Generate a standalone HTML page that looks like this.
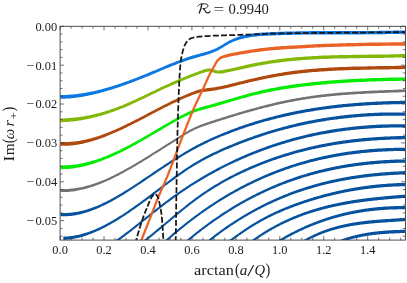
<!DOCTYPE html><html><head><meta charset="utf-8"><style>html,body{margin:0;padding:0;background:#fff}svg{display:block}text{font-family:"Liberation Serif",serif;fill:#1c1c1c}</style></head><body>
<svg style="will-change:transform" width="407" height="283" viewBox="0 0 407 283">
<rect width="407" height="283" fill="#fff"/>
<defs><clipPath id="c"><rect x="60.1" y="26.3" width="345.10" height="213.78"/></clipPath></defs>
<g clip-path="url(#c)" fill="none" stroke-linecap="round" stroke-linejoin="round">
<path d="M60.4,216.1 L61.6,216.2 L62.8,216.2 L64.0,216.2 L65.1,216.2 L66.3,216.2 L67.5,216.2 L68.7,216.1 L69.9,216.0 L71.0,215.9 L72.2,215.7 L73.4,215.6 L74.6,215.4 L75.7,215.2 L76.9,215.0 L78.1,214.7 L79.3,214.5 L80.4,214.2 L81.6,213.9 L82.8,213.6 L83.9,213.3 L85.1,212.9 L86.3,212.6 L87.4,212.2 L88.6,211.8 L89.8,211.4 L90.9,211.0 L92.1,210.6 L93.2,210.1 L94.4,209.7 L95.6,209.2 L96.7,208.7 L97.9,208.2 L99.0,207.7 L100.2,207.2 L101.4,206.6 L102.5,206.1 L103.7,205.5 L104.8,205.0 L106.0,204.4 L107.2,203.8 L108.3,203.2 L109.5,202.6 L110.6,202.0 L111.8,201.4 L112.9,200.7 L114.1,200.1 L115.3,199.4 L116.4,198.8 L117.6,198.1 L118.7,197.4 L119.9,196.7 L121.0,196.1 L122.2,195.4 L123.3,194.7 L124.5,193.9 L125.7,193.2 L126.8,192.5 L128.0,191.8 L129.1,191.0 L130.3,190.3 L131.4,189.6 L132.6,188.8 L133.7,188.1 L134.9,187.3 L136.0,186.5 L137.2,185.8 L138.3,185.0 L139.5,184.3 L140.7,183.5 L141.8,182.7 L143.0,181.9 L144.1,181.2 L145.3,180.4 L146.4,179.6 L147.6,178.8 L148.7,178.1 L149.9,177.3 L151.0,176.5 L152.2,175.7 L153.3,174.9 L154.5,174.2 L155.6,173.4 L156.8,172.6 L158.0,171.8 L159.1,171.1 L160.3,170.3 L161.4,169.5 L162.6,168.8 L163.7,168.0 L164.9,167.3 L166.0,166.5 L167.2,165.7 L168.3,165.0 L169.5,164.2 L170.6,163.5 L171.8,162.8 L172.9,162.0 L174.1,161.3 L175.2,160.6 L176.4,159.8 L177.5,159.1 L178.7,158.4 L179.8,157.7 L181.0,157.0 L182.1,156.3 L183.3,155.6 L184.4,154.9 L185.6,154.2 L186.7,153.6 L187.9,152.9 L189.0,152.2 L190.2,151.6 L191.3,150.9 L192.5,150.3 L193.6,149.7 L194.8,149.0 L195.9,148.4 L197.1,147.8 L198.2,147.2 L199.4,146.6 L200.5,146.0 L201.7,145.5 L202.8,144.9 L204.0,144.3 L205.1,143.8 L206.3,143.2 L207.4,142.7 L208.6,142.1 L209.7,141.6 L210.9,141.1 L212.0,140.6 L213.2,140.1 L214.3,139.5 L215.5,139.0 L216.6,138.5 L217.8,138.1 L218.9,137.6 L220.1,137.1 L221.2,136.6 L222.4,136.1 L223.5,135.7 L224.7,135.2 L225.8,134.8 L227.0,134.3 L228.1,133.9 L229.3,133.4 L230.4,133.0 L231.6,132.5 L232.7,132.1 L233.9,131.7 L235.0,131.2 L236.2,130.8 L237.3,130.4 L238.5,130.0 L239.6,129.6 L240.8,129.2 L241.9,128.8 L243.1,128.4 L244.2,128.0 L245.4,127.6 L246.5,127.2 L247.7,126.8 L248.8,126.5 L250.0,126.1 L251.1,125.7 L252.3,125.4 L253.4,125.0 L254.6,124.7 L255.7,124.3 L256.9,124.0 L258.0,123.6 L259.2,123.3 L260.3,122.9 L261.5,122.6 L262.6,122.3 L263.8,121.9 L264.9,121.6 L266.1,121.3 L267.2,121.0 L268.4,120.7 L269.5,120.4 L270.7,120.1 L271.8,119.8 L273.0,119.5 L274.1,119.2 L275.3,118.9 L276.4,118.6 L277.6,118.3 L278.7,118.0 L279.9,117.8 L281.0,117.5 L282.2,117.2 L283.3,117.0 L284.5,116.7 L285.6,116.4 L286.8,116.2 L287.9,115.9 L289.1,115.7 L290.2,115.4 L291.4,115.2 L292.5,115.0 L293.7,114.7 L294.8,114.5 L296.0,114.3 L297.1,114.0 L298.3,113.8 L299.4,113.6 L300.6,113.4 L301.7,113.2 L302.9,112.9 L304.0,112.7 L305.2,112.5 L306.3,112.3 L307.5,112.1 L308.6,111.9 L309.8,111.7 L310.9,111.6 L312.1,111.4 L313.2,111.2 L314.4,111.0 L315.5,110.8 L316.7,110.6 L317.8,110.5 L319.0,110.3 L320.1,110.1 L321.3,110.0 L322.4,109.8 L323.6,109.6 L324.7,109.5 L325.9,109.3 L327.0,109.2 L328.2,109.0 L329.3,108.9 L330.5,108.7 L331.6,108.6 L332.8,108.5 L333.9,108.3 L335.1,108.2 L336.2,108.1 L337.4,107.9 L338.5,107.8 L339.7,107.7 L340.8,107.6 L342.0,107.4 L343.1,107.3 L344.3,107.2 L345.4,107.1 L346.6,107.0 L347.7,106.9 L348.9,106.8 L350.0,106.7 L351.2,106.6 L352.3,106.5 L353.5,106.4 L354.6,106.3 L355.8,106.2 L356.9,106.1 L358.1,106.0 L359.2,105.9 L360.4,105.9 L361.5,105.8 L362.7,105.7 L363.8,105.6 L365.0,105.5 L366.1,105.5 L367.3,105.4 L368.4,105.3 L369.6,105.3 L370.7,105.2 L371.9,105.1 L373.0,105.1 L374.2,105.0 L375.3,105.0 L376.5,104.9 L377.6,104.9 L378.8,104.8 L379.9,104.8 L381.1,104.7 L382.2,104.7 L383.4,104.6 L384.5,104.6 L385.7,104.5 L386.8,104.5 L388.0,104.4 L389.1,104.4 L390.3,104.4 L391.4,104.3 L392.6,104.3 L393.7,104.3 L394.9,104.3 L396.0,104.2 L397.2,104.2 L398.3,104.2 L399.5,104.2 L400.6,104.1 L401.8,104.1 L402.9,104.1 L404.1,104.1 L405.2,104.1 L405.2,100.8 L404.0,100.8 L402.9,100.8 L401.7,100.8 L400.6,100.8 L399.4,100.9 L398.2,100.9 L397.1,100.9 L395.9,100.9 L394.8,101.0 L393.6,101.0 L392.5,101.0 L391.3,101.1 L390.2,101.1 L389.0,101.1 L387.9,101.2 L386.7,101.2 L385.5,101.2 L384.4,101.3 L383.2,101.3 L382.1,101.4 L380.9,101.4 L379.8,101.5 L378.6,101.5 L377.5,101.6 L376.3,101.6 L375.1,101.7 L374.0,101.7 L372.8,101.8 L371.7,101.9 L370.5,101.9 L369.4,102.0 L368.2,102.1 L367.1,102.1 L365.9,102.2 L364.7,102.3 L363.6,102.4 L362.4,102.4 L361.3,102.5 L360.1,102.6 L359.0,102.7 L357.8,102.8 L356.7,102.9 L355.5,103.0 L354.3,103.1 L353.2,103.2 L352.0,103.3 L350.9,103.4 L349.7,103.5 L348.6,103.6 L347.4,103.7 L346.3,103.8 L345.1,103.9 L343.9,104.0 L342.8,104.1 L341.6,104.2 L340.5,104.4 L339.3,104.5 L338.2,104.6 L337.0,104.8 L335.8,104.9 L334.7,105.0 L333.5,105.2 L332.4,105.3 L331.2,105.4 L330.1,105.6 L328.9,105.7 L327.8,105.9 L326.6,106.0 L325.4,106.2 L324.3,106.4 L323.1,106.5 L322.0,106.7 L320.8,106.9 L319.7,107.0 L318.5,107.2 L317.3,107.4 L316.2,107.6 L315.0,107.7 L313.9,107.9 L312.7,108.1 L311.6,108.3 L310.4,108.5 L309.3,108.7 L308.1,108.9 L306.9,109.1 L305.8,109.3 L304.6,109.5 L303.5,109.7 L302.3,109.9 L301.2,110.1 L300.0,110.4 L298.8,110.6 L297.7,110.8 L296.5,111.1 L295.4,111.3 L294.2,111.5 L293.1,111.8 L291.9,112.0 L290.8,112.3 L289.6,112.5 L288.4,112.8 L287.3,113.0 L286.1,113.3 L285.0,113.5 L283.8,113.8 L282.7,114.1 L281.5,114.4 L280.4,114.6 L279.2,114.9 L278.0,115.2 L276.9,115.5 L275.7,115.8 L274.6,116.1 L273.4,116.4 L272.3,116.7 L271.1,117.0 L269.9,117.3 L268.8,117.6 L267.6,117.9 L266.5,118.2 L265.3,118.6 L264.2,118.9 L263.0,119.2 L261.9,119.5 L260.7,119.9 L259.5,120.2 L258.4,120.6 L257.2,120.9 L256.1,121.3 L254.9,121.6 L253.8,122.0 L252.6,122.4 L251.5,122.7 L250.3,123.1 L249.1,123.5 L248.0,123.9 L246.8,124.3 L245.7,124.6 L244.5,125.0 L243.4,125.4 L242.2,125.8 L241.1,126.2 L239.9,126.6 L238.7,127.1 L237.6,127.5 L236.4,127.9 L235.3,128.3 L234.1,128.8 L233.0,129.2 L231.8,129.6 L230.7,130.1 L229.5,130.5 L228.3,131.0 L227.2,131.4 L226.0,131.9 L224.9,132.3 L223.7,132.8 L222.6,133.3 L221.4,133.8 L220.3,134.2 L219.1,134.7 L217.9,135.2 L216.8,135.7 L215.6,136.2 L214.5,136.7 L213.3,137.2 L212.2,137.8 L211.0,138.3 L209.9,138.8 L208.7,139.4 L207.5,139.9 L206.4,140.5 L205.2,141.0 L204.1,141.6 L202.9,142.2 L201.8,142.7 L200.6,143.3 L199.4,143.9 L198.3,144.5 L197.1,145.1 L196.0,145.7 L194.8,146.3 L193.7,147.0 L192.5,147.6 L191.4,148.3 L190.2,148.9 L189.0,149.6 L187.9,150.2 L186.7,150.9 L185.6,151.6 L184.4,152.3 L183.3,153.0 L182.1,153.7 L181.0,154.4 L179.8,155.1 L178.7,155.8 L177.5,156.5 L176.3,157.2 L175.2,157.9 L174.0,158.7 L172.9,159.4 L171.7,160.1 L170.6,160.9 L169.4,161.6 L168.3,162.4 L167.1,163.1 L166.0,163.9 L164.8,164.6 L163.6,165.4 L162.5,166.2 L161.3,166.9 L160.2,167.7 L159.0,168.5 L157.9,169.2 L156.7,170.0 L155.6,170.8 L154.4,171.6 L153.3,172.3 L152.1,173.1 L151.0,173.9 L149.8,174.7 L148.7,175.5 L147.5,176.2 L146.3,177.0 L145.2,177.8 L144.0,178.6 L142.9,179.3 L141.7,180.1 L140.6,180.9 L139.4,181.7 L138.3,182.4 L137.1,183.2 L136.0,183.9 L134.8,184.7 L133.7,185.5 L132.5,186.2 L131.4,186.9 L130.2,187.7 L129.1,188.4 L127.9,189.2 L126.8,189.9 L125.6,190.6 L124.5,191.3 L123.3,192.0 L122.2,192.7 L121.0,193.4 L119.9,194.1 L118.7,194.8 L117.6,195.4 L116.4,196.1 L115.3,196.8 L114.1,197.4 L113.0,198.0 L111.8,198.7 L110.7,199.3 L109.5,199.9 L108.4,200.5 L107.2,201.1 L106.1,201.7 L104.9,202.2 L103.8,202.8 L102.6,203.3 L101.5,203.9 L100.3,204.4 L99.2,204.9 L98.0,205.4 L96.9,205.9 L95.7,206.3 L94.6,206.8 L93.5,207.2 L92.3,207.6 L91.2,208.1 L90.0,208.4 L88.9,208.8 L87.7,209.2 L86.6,209.5 L85.5,209.9 L84.3,210.2 L83.2,210.5 L82.0,210.8 L80.9,211.0 L79.8,211.3 L78.6,211.5 L77.5,211.7 L76.4,211.9 L75.2,212.1 L74.1,212.3 L73.0,212.4 L71.8,212.6 L70.7,212.7 L69.6,212.8 L68.5,212.8 L67.3,212.9 L66.2,212.9 L65.1,213.0 L64.0,213.0 L62.8,212.9 L61.7,212.9 L60.6,212.9Z" fill="#07529f" stroke="none"/>
<path d="M63.4,240.0 L64.5,239.9 L65.7,239.8 L66.9,239.8 L68.0,239.6 L69.2,239.5 L70.4,239.4 L71.5,239.2 L72.7,239.0 L73.9,238.8 L75.0,238.6 L76.2,238.3 L77.3,238.1 L78.5,237.8 L79.7,237.5 L80.8,237.2 L82.0,236.9 L83.1,236.5 L84.3,236.2 L85.4,235.8 L86.6,235.4 L87.8,235.0 L88.9,234.6 L90.1,234.1 L91.2,233.7 L92.4,233.2 L93.5,232.8 L94.7,232.3 L95.8,231.8 L97.0,231.3 L98.1,230.8 L99.3,230.2 L100.4,229.7 L101.6,229.1 L102.7,228.5 L103.9,228.0 L105.0,227.4 L106.2,226.8 L107.3,226.1 L108.5,225.5 L109.6,224.9 L110.8,224.2 L111.9,223.6 L113.0,222.9 L114.2,222.2 L115.3,221.6 L116.5,220.9 L117.6,220.2 L118.8,219.4 L119.9,218.7 L121.1,218.0 L122.2,217.3 L123.4,216.5 L124.5,215.8 L125.7,215.0 L126.8,214.2 L127.9,213.5 L129.1,212.7 L130.2,211.9 L131.4,211.1 L132.5,210.3 L133.7,209.5 L134.8,208.7 L136.0,207.9 L137.1,207.1 L138.3,206.2 L139.4,205.4 L140.5,204.6 L141.7,203.8 L142.8,202.9 L144.0,202.1 L145.1,201.2 L146.3,200.4 L147.4,199.5 L148.6,198.7 L149.7,197.8 L150.8,196.9 L152.0,196.1 L153.1,195.2 L154.3,194.3 L155.4,193.5 L156.6,192.6 L157.7,191.7 L158.8,190.9 L160.0,190.0 L161.1,189.1 L162.3,188.2 L163.4,187.4 L164.6,186.5 L165.7,185.6 L166.9,184.8 L168.0,183.9 L169.1,183.1 L170.3,182.2 L171.4,181.4 L172.6,180.5 L173.7,179.7 L174.8,178.9 L176.0,178.0 L177.1,177.2 L178.3,176.4 L179.4,175.6 L180.6,174.8 L181.7,174.0 L182.8,173.2 L184.0,172.4 L185.1,171.6 L186.3,170.8 L187.4,170.1 L188.5,169.3 L189.7,168.6 L190.8,167.9 L192.0,167.1 L193.1,166.4 L194.2,165.7 L195.4,165.0 L196.5,164.4 L197.7,163.7 L198.8,163.0 L199.9,162.4 L201.1,161.7 L202.2,161.1 L203.4,160.5 L204.5,159.9 L205.6,159.3 L206.8,158.7 L207.9,158.1 L209.1,157.5 L210.2,157.0 L211.3,156.4 L212.5,155.8 L213.6,155.3 L214.8,154.7 L215.9,154.2 L217.0,153.7 L218.2,153.2 L219.3,152.6 L220.5,152.1 L221.6,151.6 L222.8,151.1 L223.9,150.6 L225.0,150.1 L226.2,149.6 L227.3,149.1 L228.5,148.7 L229.6,148.2 L230.7,147.7 L231.9,147.2 L233.0,146.8 L234.2,146.3 L235.3,145.8 L236.4,145.4 L237.6,144.9 L238.7,144.5 L239.9,144.0 L241.0,143.6 L242.2,143.2 L243.3,142.7 L244.4,142.3 L245.6,141.9 L246.7,141.4 L247.9,141.0 L249.0,140.6 L250.1,140.2 L251.3,139.8 L252.4,139.4 L253.6,139.0 L254.7,138.6 L255.8,138.2 L257.0,137.8 L258.1,137.4 L259.3,137.0 L260.4,136.7 L261.6,136.3 L262.7,135.9 L263.8,135.6 L265.0,135.2 L266.1,134.8 L267.3,134.5 L268.4,134.1 L269.5,133.8 L270.7,133.4 L271.8,133.1 L273.0,132.8 L274.1,132.4 L275.2,132.1 L276.4,131.8 L277.5,131.5 L278.7,131.1 L279.8,130.8 L280.9,130.5 L282.1,130.2 L283.2,129.9 L284.4,129.6 L285.5,129.3 L286.6,129.0 L287.8,128.7 L288.9,128.4 L290.1,128.1 L291.2,127.9 L292.3,127.6 L293.5,127.3 L294.6,127.0 L295.8,126.8 L296.9,126.5 L298.0,126.2 L299.2,126.0 L300.3,125.7 L301.5,125.5 L302.6,125.2 L303.7,125.0 L304.9,124.8 L306.0,124.5 L307.2,124.3 L308.3,124.1 L309.4,123.8 L310.6,123.6 L311.7,123.4 L312.9,123.2 L314.0,123.0 L315.1,122.7 L316.3,122.5 L317.4,122.3 L318.6,122.1 L319.7,121.9 L320.8,121.7 L322.0,121.6 L323.1,121.4 L324.3,121.2 L325.4,121.0 L326.5,120.8 L327.7,120.6 L328.8,120.5 L330.0,120.3 L331.1,120.1 L332.2,120.0 L333.4,119.8 L334.5,119.7 L335.7,119.5 L336.8,119.4 L337.9,119.2 L339.1,119.1 L340.2,118.9 L341.4,118.8 L342.5,118.7 L343.6,118.5 L344.8,118.4 L345.9,118.3 L347.1,118.2 L348.2,118.0 L349.3,117.9 L350.5,117.8 L351.6,117.7 L352.8,117.6 L353.9,117.5 L355.0,117.4 L356.2,117.3 L357.3,117.2 L358.4,117.1 L359.6,117.0 L360.7,116.9 L361.9,116.8 L363.0,116.8 L364.1,116.7 L365.3,116.6 L366.4,116.5 L367.6,116.5 L368.7,116.4 L369.8,116.3 L371.0,116.3 L372.1,116.2 L373.3,116.2 L374.4,116.1 L375.5,116.1 L376.7,116.0 L377.8,116.0 L379.0,115.9 L380.1,115.9 L381.2,115.9 L382.4,115.8 L383.5,115.8 L384.7,115.8 L385.8,115.8 L386.9,115.7 L388.1,115.7 L389.2,115.7 L390.4,115.7 L391.5,115.7 L392.6,115.7 L393.8,115.7 L394.9,115.7 L396.0,115.7 L397.2,115.7 L398.3,115.7 L399.5,115.7 L400.6,115.7 L401.7,115.7 L402.9,115.7 L404.0,115.8 L405.2,115.8 L405.2,112.5 L404.1,112.5 L402.9,112.4 L401.8,112.4 L400.6,112.4 L399.5,112.4 L398.4,112.4 L397.2,112.4 L396.1,112.4 L394.9,112.4 L393.8,112.4 L392.6,112.4 L391.5,112.4 L390.3,112.4 L389.2,112.4 L388.0,112.4 L386.9,112.4 L385.7,112.5 L384.6,112.5 L383.4,112.5 L382.3,112.5 L381.1,112.6 L380.0,112.6 L378.8,112.7 L377.7,112.7 L376.5,112.7 L375.4,112.8 L374.3,112.8 L373.1,112.9 L372.0,113.0 L370.8,113.0 L369.7,113.1 L368.5,113.1 L367.4,113.2 L366.2,113.3 L365.1,113.4 L363.9,113.4 L362.8,113.5 L361.6,113.6 L360.5,113.7 L359.3,113.8 L358.2,113.9 L357.0,114.0 L355.9,114.1 L354.7,114.2 L353.6,114.3 L352.4,114.4 L351.3,114.5 L350.2,114.6 L349.0,114.7 L347.9,114.8 L346.7,115.0 L345.6,115.1 L344.4,115.2 L343.3,115.4 L342.1,115.5 L341.0,115.6 L339.8,115.8 L338.7,115.9 L337.5,116.1 L336.4,116.2 L335.2,116.4 L334.1,116.5 L332.9,116.7 L331.8,116.9 L330.6,117.0 L329.5,117.2 L328.4,117.4 L327.2,117.6 L326.1,117.7 L324.9,117.9 L323.8,118.1 L322.6,118.3 L321.5,118.5 L320.3,118.7 L319.2,118.9 L318.0,119.1 L316.9,119.3 L315.7,119.5 L314.6,119.7 L313.4,119.9 L312.3,120.2 L311.1,120.4 L310.0,120.6 L308.9,120.8 L307.7,121.1 L306.6,121.3 L305.4,121.6 L304.3,121.8 L303.1,122.1 L302.0,122.3 L300.8,122.6 L299.7,122.8 L298.5,123.1 L297.4,123.3 L296.2,123.6 L295.1,123.9 L293.9,124.2 L292.8,124.4 L291.6,124.7 L290.5,125.0 L289.4,125.3 L288.2,125.6 L287.1,125.9 L285.9,126.2 L284.8,126.5 L283.6,126.8 L282.5,127.1 L281.3,127.4 L280.2,127.7 L279.0,128.1 L277.9,128.4 L276.7,128.7 L275.6,129.0 L274.4,129.4 L273.3,129.7 L272.2,130.1 L271.0,130.4 L269.9,130.8 L268.7,131.1 L267.6,131.5 L266.4,131.8 L265.3,132.2 L264.1,132.6 L263.0,132.9 L261.8,133.3 L260.7,133.7 L259.5,134.1 L258.4,134.5 L257.3,134.9 L256.1,135.2 L255.0,135.6 L253.8,136.0 L252.7,136.4 L251.5,136.9 L250.4,137.3 L249.2,137.7 L248.1,138.1 L246.9,138.5 L245.8,139.0 L244.6,139.4 L243.5,139.8 L242.4,140.3 L241.2,140.7 L240.1,141.1 L238.9,141.6 L237.8,142.1 L236.6,142.5 L235.5,143.0 L234.3,143.4 L233.2,143.9 L232.0,144.4 L230.9,144.9 L229.8,145.3 L228.6,145.8 L227.5,146.3 L226.3,146.8 L225.2,147.3 L224.0,147.8 L222.9,148.3 L221.7,148.8 L220.6,149.3 L219.4,149.8 L218.3,150.4 L217.2,150.9 L216.0,151.4 L214.9,152.0 L213.7,152.5 L212.6,153.1 L211.4,153.6 L210.3,154.2 L209.1,154.8 L208.0,155.4 L206.8,156.0 L205.7,156.6 L204.5,157.2 L203.4,157.8 L202.2,158.4 L201.1,159.1 L199.9,159.7 L198.8,160.4 L197.7,161.0 L196.5,161.7 L195.4,162.4 L194.2,163.1 L193.1,163.8 L191.9,164.5 L190.8,165.2 L189.6,166.0 L188.5,166.7 L187.3,167.5 L186.2,168.3 L185.0,169.0 L183.9,169.8 L182.7,170.6 L181.6,171.4 L180.5,172.2 L179.3,173.0 L178.2,173.8 L177.0,174.6 L175.9,175.5 L174.7,176.3 L173.6,177.1 L172.4,178.0 L171.3,178.8 L170.2,179.7 L169.0,180.5 L167.9,181.4 L166.7,182.2 L165.6,183.1 L164.4,184.0 L163.3,184.8 L162.1,185.7 L161.0,186.6 L159.9,187.4 L158.7,188.3 L157.6,189.2 L156.4,190.0 L155.3,190.9 L154.1,191.8 L153.0,192.6 L151.9,193.5 L150.7,194.4 L149.6,195.2 L148.4,196.1 L147.3,197.0 L146.1,197.8 L145.0,198.7 L143.9,199.5 L142.7,200.3 L141.6,201.2 L140.4,202.0 L139.3,202.9 L138.1,203.7 L137.0,204.5 L135.9,205.3 L134.7,206.1 L133.6,206.9 L132.4,207.7 L131.3,208.5 L130.1,209.3 L129.0,210.1 L127.9,210.9 L126.7,211.7 L125.6,212.4 L124.4,213.2 L123.3,213.9 L122.2,214.7 L121.0,215.4 L119.9,216.1 L118.7,216.8 L117.6,217.5 L116.5,218.2 L115.3,218.9 L114.2,219.6 L113.0,220.3 L111.9,220.9 L110.8,221.6 L109.6,222.2 L108.5,222.8 L107.3,223.5 L106.2,224.1 L105.1,224.7 L103.9,225.2 L102.8,225.8 L101.6,226.4 L100.5,226.9 L99.4,227.4 L98.2,228.0 L97.1,228.5 L96.0,229.0 L94.8,229.5 L93.7,229.9 L92.5,230.4 L91.4,230.8 L90.3,231.2 L89.1,231.7 L88.0,232.0 L86.9,232.4 L85.7,232.8 L84.6,233.1 L83.5,233.5 L82.3,233.8 L81.2,234.1 L80.1,234.4 L79.0,234.7 L77.8,234.9 L76.7,235.1 L75.6,235.4 L74.5,235.6 L73.3,235.8 L72.2,235.9 L71.1,236.1 L70.0,236.2 L68.8,236.3 L67.7,236.4 L66.6,236.5 L65.5,236.6 L64.4,236.6 L63.2,236.7Z" fill="#07529f" stroke="none"/>
<path d="M105.6,249.2 L106.6,248.6 L107.6,248.0 L108.6,247.4 L109.6,246.7 L110.6,246.1 L111.6,245.4 L112.6,244.8 L113.6,244.1 L114.6,243.4 L115.7,242.7 L116.7,242.0 L117.7,241.3 L118.7,240.6 L119.7,239.9 L120.7,239.2 L121.7,238.5 L122.7,237.7 L123.7,237.0 L124.7,236.2 L125.7,235.5 L126.7,234.7 L127.7,234.0 L128.7,233.2 L129.7,232.4 L130.7,231.7 L131.7,230.9 L132.8,230.1 L133.8,229.3 L134.8,228.5 L135.8,227.7 L136.8,226.9 L137.8,226.1 L138.8,225.3 L139.8,224.5 L140.8,223.7 L141.8,222.9 L142.8,222.1 L143.8,221.3 L144.8,220.5 L145.8,219.7 L146.8,218.9 L147.8,218.1 L148.8,217.3 L149.8,216.5 L150.8,215.7 L151.8,214.9 L152.8,214.1 L153.8,213.3 L154.8,212.5 L155.9,211.7 L156.9,210.9 L157.9,210.1 L158.9,209.3 L159.9,208.5 L160.9,207.7 L161.9,207.0 L162.9,206.2 L163.9,205.4 L164.9,204.7 L165.9,203.9 L166.9,203.1 L167.9,202.4 L168.9,201.7 L169.9,200.9 L170.9,200.2 L171.9,199.5 L172.9,198.7 L173.9,198.0 L174.9,197.3 L175.9,196.6 L176.9,195.9 L177.9,195.2 L178.9,194.5 L179.9,193.8 L180.9,193.1 L181.9,192.4 L182.9,191.7 L183.9,191.1 L184.9,190.4 L185.9,189.7 L186.9,189.1 L187.9,188.4 L188.9,187.7 L189.9,187.1 L190.9,186.5 L191.9,185.8 L192.9,185.2 L193.9,184.6 L195.0,183.9 L196.0,183.3 L197.0,182.7 L198.0,182.1 L199.0,181.5 L200.0,180.9 L201.0,180.3 L202.0,179.7 L203.0,179.1 L204.0,178.5 L205.0,177.9 L206.0,177.3 L207.0,176.8 L208.0,176.2 L209.0,175.6 L210.0,175.1 L211.0,174.5 L212.0,173.9 L213.0,173.4 L214.0,172.9 L215.0,172.3 L216.0,171.8 L217.0,171.2 L218.0,170.7 L219.0,170.2 L220.0,169.7 L221.0,169.1 L222.0,168.6 L223.0,168.1 L224.0,167.6 L225.0,167.1 L226.0,166.6 L227.0,166.1 L228.0,165.6 L229.0,165.1 L230.0,164.6 L231.0,164.2 L232.0,163.7 L233.0,163.2 L234.0,162.7 L235.0,162.3 L236.0,161.8 L237.0,161.4 L238.0,160.9 L239.0,160.5 L240.1,160.0 L241.1,159.6 L242.1,159.1 L243.1,158.7 L244.1,158.2 L245.1,157.8 L246.1,157.4 L247.1,157.0 L248.1,156.5 L249.1,156.1 L250.1,155.7 L251.1,155.3 L252.1,154.9 L253.1,154.5 L254.1,154.1 L255.1,153.7 L256.1,153.3 L257.1,152.9 L258.1,152.5 L259.1,152.2 L260.1,151.8 L261.1,151.4 L262.1,151.0 L263.1,150.7 L264.1,150.3 L265.1,149.9 L266.1,149.6 L267.1,149.2 L268.1,148.9 L269.1,148.5 L270.1,148.2 L271.1,147.8 L272.1,147.5 L273.1,147.1 L274.1,146.8 L275.1,146.5 L276.1,146.2 L277.1,145.8 L278.1,145.5 L279.1,145.2 L280.1,144.9 L281.1,144.6 L282.1,144.3 L283.1,144.0 L284.1,143.7 L285.1,143.4 L286.1,143.1 L287.1,142.8 L288.1,142.5 L289.1,142.2 L290.1,141.9 L291.1,141.6 L292.1,141.4 L293.1,141.1 L294.1,140.8 L295.1,140.5 L296.1,140.3 L297.1,140.0 L298.1,139.8 L299.1,139.5 L300.1,139.3 L301.1,139.0 L302.1,138.8 L303.1,138.5 L304.1,138.3 L305.1,138.0 L306.1,137.8 L307.1,137.6 L308.1,137.3 L309.1,137.1 L310.1,136.9 L311.1,136.7 L312.1,136.5 L313.1,136.2 L314.1,136.0 L315.1,135.8 L316.1,135.6 L317.2,135.4 L318.2,135.2 L319.2,135.0 L320.2,134.8 L321.2,134.6 L322.2,134.4 L323.2,134.3 L324.2,134.1 L325.2,133.9 L326.2,133.7 L327.2,133.5 L328.2,133.4 L329.2,133.2 L330.2,133.0 L331.2,132.9 L332.2,132.7 L333.2,132.5 L334.2,132.4 L335.2,132.2 L336.2,132.1 L337.2,131.9 L338.2,131.8 L339.2,131.6 L340.2,131.5 L341.2,131.4 L342.2,131.2 L343.2,131.1 L344.2,131.0 L345.2,130.8 L346.2,130.7 L347.2,130.6 L348.2,130.5 L349.2,130.4 L350.2,130.2 L351.2,130.1 L352.2,130.0 L353.2,129.9 L354.2,129.8 L355.2,129.7 L356.2,129.6 L357.2,129.5 L358.2,129.4 L359.2,129.3 L360.2,129.2 L361.2,129.1 L362.2,129.1 L363.2,129.0 L364.2,128.9 L365.2,128.8 L366.2,128.7 L367.2,128.7 L368.2,128.6 L369.2,128.5 L370.2,128.5 L371.2,128.4 L372.2,128.3 L373.2,128.3 L374.2,128.2 L375.2,128.2 L376.2,128.1 L377.2,128.1 L378.2,128.0 L379.2,128.0 L380.2,127.9 L381.2,127.9 L382.2,127.8 L383.2,127.8 L384.2,127.8 L385.2,127.7 L386.2,127.7 L387.2,127.7 L388.2,127.7 L389.2,127.6 L390.2,127.6 L391.2,127.6 L392.2,127.6 L393.2,127.6 L394.2,127.6 L395.2,127.5 L396.2,127.5 L397.2,127.5 L398.2,127.5 L399.2,127.5 L400.2,127.5 L401.2,127.5 L402.2,127.5 L403.2,127.5 L404.2,127.5 L405.2,127.6 L405.2,124.3 L404.2,124.2 L403.2,124.2 L402.2,124.2 L401.2,124.2 L400.2,124.2 L399.2,124.2 L398.2,124.2 L397.2,124.2 L396.2,124.2 L395.1,124.2 L394.1,124.3 L393.1,124.3 L392.1,124.3 L391.1,124.3 L390.1,124.3 L389.1,124.3 L388.1,124.4 L387.1,124.4 L386.1,124.4 L385.1,124.5 L384.1,124.5 L383.1,124.5 L382.0,124.6 L381.0,124.6 L380.0,124.6 L379.0,124.7 L378.0,124.7 L377.0,124.8 L376.0,124.8 L375.0,124.9 L374.0,124.9 L373.0,125.0 L372.0,125.1 L371.0,125.1 L370.0,125.2 L368.9,125.3 L367.9,125.3 L366.9,125.4 L365.9,125.5 L364.9,125.6 L363.9,125.7 L362.9,125.7 L361.9,125.8 L360.9,125.9 L359.9,126.0 L358.9,126.1 L357.9,126.2 L356.9,126.3 L355.8,126.4 L354.8,126.5 L353.8,126.6 L352.8,126.7 L351.8,126.8 L350.8,126.9 L349.8,127.1 L348.8,127.2 L347.8,127.3 L346.8,127.4 L345.8,127.6 L344.8,127.7 L343.7,127.8 L342.7,128.0 L341.7,128.1 L340.7,128.2 L339.7,128.4 L338.7,128.5 L337.7,128.7 L336.7,128.8 L335.7,129.0 L334.7,129.1 L333.7,129.3 L332.7,129.5 L331.7,129.6 L330.6,129.8 L329.6,130.0 L328.6,130.1 L327.6,130.3 L326.6,130.5 L325.6,130.7 L324.6,130.9 L323.6,131.1 L322.6,131.2 L321.6,131.4 L320.6,131.6 L319.6,131.8 L318.6,132.0 L317.6,132.2 L316.5,132.4 L315.5,132.7 L314.5,132.9 L313.5,133.1 L312.5,133.3 L311.5,133.5 L310.5,133.8 L309.5,134.0 L308.5,134.2 L307.5,134.5 L306.5,134.7 L305.5,134.9 L304.5,135.2 L303.4,135.4 L302.4,135.7 L301.4,135.9 L300.4,136.2 L299.4,136.4 L298.4,136.7 L297.4,137.0 L296.4,137.2 L295.4,137.5 L294.4,137.8 L293.4,138.0 L292.4,138.3 L291.4,138.6 L290.4,138.9 L289.3,139.2 L288.3,139.5 L287.3,139.8 L286.3,140.1 L285.3,140.4 L284.3,140.7 L283.3,141.0 L282.3,141.3 L281.3,141.6 L280.3,141.9 L279.3,142.2 L278.3,142.6 L277.3,142.9 L276.3,143.2 L275.3,143.5 L274.2,143.9 L273.2,144.2 L272.2,144.6 L271.2,144.9 L270.2,145.3 L269.2,145.6 L268.2,146.0 L267.2,146.3 L266.2,146.7 L265.2,147.1 L264.2,147.4 L263.2,147.8 L262.2,148.2 L261.2,148.5 L260.2,148.9 L259.1,149.3 L258.1,149.7 L257.1,150.1 L256.1,150.5 L255.1,150.9 L254.1,151.3 L253.1,151.7 L252.1,152.1 L251.1,152.5 L250.1,152.9 L249.1,153.3 L248.1,153.8 L247.1,154.2 L246.1,154.6 L245.1,155.1 L244.1,155.5 L243.0,155.9 L242.0,156.4 L241.0,156.8 L240.0,157.3 L239.0,157.7 L238.0,158.2 L237.0,158.6 L236.0,159.1 L235.0,159.6 L234.0,160.0 L233.0,160.5 L232.0,161.0 L231.0,161.5 L230.0,162.0 L229.0,162.5 L228.0,162.9 L227.0,163.4 L225.9,163.9 L224.9,164.4 L223.9,165.0 L222.9,165.5 L221.9,166.0 L220.9,166.5 L219.9,167.0 L218.9,167.5 L217.9,168.1 L216.9,168.6 L215.9,169.2 L214.9,169.7 L213.9,170.2 L212.9,170.8 L211.9,171.3 L210.9,171.9 L209.9,172.5 L208.8,173.0 L207.8,173.6 L206.8,174.2 L205.8,174.8 L204.8,175.3 L203.8,175.9 L202.8,176.5 L201.8,177.1 L200.8,177.7 L199.8,178.3 L198.8,178.9 L197.8,179.5 L196.8,180.2 L195.8,180.8 L194.8,181.4 L193.8,182.0 L192.8,182.7 L191.8,183.3 L190.7,183.9 L189.7,184.6 L188.7,185.2 L187.7,185.9 L186.7,186.6 L185.7,187.2 L184.7,187.9 L183.7,188.6 L182.7,189.2 L181.7,189.9 L180.7,190.6 L179.7,191.3 L178.7,192.0 L177.7,192.7 L176.7,193.4 L175.7,194.1 L174.7,194.8 L173.7,195.5 L172.6,196.3 L171.6,197.0 L170.6,197.7 L169.6,198.5 L168.6,199.2 L167.6,199.9 L166.6,200.7 L165.6,201.5 L164.6,202.2 L163.6,203.0 L162.6,203.8 L161.6,204.5 L160.6,205.3 L159.6,206.1 L158.6,206.9 L157.6,207.7 L156.6,208.5 L155.6,209.2 L154.6,210.0 L153.5,210.8 L152.5,211.6 L151.5,212.4 L150.5,213.3 L149.5,214.1 L148.5,214.9 L147.5,215.7 L146.5,216.5 L145.5,217.3 L144.5,218.1 L143.5,218.9 L142.5,219.7 L141.5,220.5 L140.5,221.3 L139.5,222.1 L138.5,222.9 L137.5,223.7 L136.5,224.5 L135.5,225.3 L134.5,226.1 L133.5,226.9 L132.5,227.7 L131.5,228.4 L130.5,229.2 L129.5,230.0 L128.5,230.8 L127.5,231.5 L126.4,232.3 L125.4,233.0 L124.4,233.8 L123.4,234.5 L122.4,235.3 L121.4,236.0 L120.4,236.7 L119.4,237.4 L118.4,238.2 L117.4,238.9 L116.4,239.6 L115.4,240.2 L114.4,240.9 L113.4,241.6 L112.4,242.3 L111.4,242.9 L110.4,243.6 L109.4,244.2 L108.4,244.8 L107.4,245.4 L106.4,246.1 L105.4,246.7 L104.4,247.2Z" fill="#07529f" stroke="none"/>
<path d="M135.6,249.0 L136.5,248.4 L137.4,247.7 L138.3,247.0 L139.3,246.4 L140.2,245.7 L141.1,245.0 L142.0,244.3 L142.9,243.6 L143.8,242.9 L144.7,242.2 L145.6,241.5 L146.5,240.7 L147.4,240.0 L148.3,239.3 L149.2,238.6 L150.1,237.8 L151.0,237.1 L151.9,236.4 L152.8,235.6 L153.7,234.9 L154.6,234.1 L155.5,233.4 L156.4,232.6 L157.3,231.9 L158.3,231.1 L159.2,230.4 L160.1,229.6 L161.0,228.9 L161.9,228.1 L162.8,227.3 L163.7,226.6 L164.6,225.8 L165.5,225.0 L166.4,224.3 L167.3,223.5 L168.2,222.8 L169.1,222.0 L170.0,221.2 L170.9,220.5 L171.8,219.7 L172.7,219.0 L173.6,218.2 L174.5,217.4 L175.4,216.7 L176.3,215.9 L177.2,215.2 L178.1,214.4 L179.0,213.7 L179.9,212.9 L180.8,212.2 L181.7,211.5 L182.6,210.7 L183.5,210.0 L184.5,209.3 L185.4,208.6 L186.3,207.8 L187.2,207.1 L188.1,206.4 L189.0,205.7 L189.9,205.0 L190.8,204.3 L191.7,203.6 L192.6,202.9 L193.5,202.2 L194.4,201.6 L195.3,200.9 L196.2,200.2 L197.1,199.6 L198.0,198.9 L198.9,198.3 L199.8,197.6 L200.7,197.0 L201.6,196.4 L202.5,195.7 L203.4,195.1 L204.3,194.5 L205.2,193.9 L206.1,193.3 L207.0,192.7 L207.9,192.1 L208.8,191.5 L209.7,190.9 L210.6,190.4 L211.5,189.8 L212.4,189.2 L213.3,188.7 L214.2,188.1 L215.1,187.6 L216.0,187.0 L216.9,186.5 L217.8,185.9 L218.7,185.4 L219.6,184.9 L220.5,184.3 L221.4,183.8 L222.3,183.3 L223.2,182.8 L224.1,182.3 L225.0,181.8 L225.9,181.3 L226.8,180.8 L227.7,180.3 L228.6,179.8 L229.5,179.4 L230.4,178.9 L231.3,178.4 L232.2,178.0 L233.1,177.5 L234.0,177.0 L234.9,176.6 L235.8,176.1 L236.8,175.7 L237.7,175.2 L238.6,174.8 L239.5,174.4 L240.4,173.9 L241.3,173.5 L242.2,173.1 L243.1,172.7 L244.0,172.3 L244.9,171.9 L245.8,171.4 L246.7,171.0 L247.6,170.6 L248.5,170.2 L249.4,169.8 L250.3,169.4 L251.2,169.1 L252.1,168.7 L253.0,168.3 L253.9,167.9 L254.8,167.5 L255.7,167.2 L256.6,166.8 L257.5,166.4 L258.4,166.1 L259.3,165.7 L260.2,165.3 L261.1,165.0 L262.0,164.6 L262.9,164.3 L263.8,163.9 L264.7,163.6 L265.6,163.3 L266.5,162.9 L267.4,162.6 L268.3,162.3 L269.2,161.9 L270.1,161.6 L271.0,161.3 L271.9,161.0 L272.8,160.6 L273.7,160.3 L274.6,160.0 L275.5,159.7 L276.4,159.4 L277.3,159.1 L278.2,158.8 L279.1,158.5 L280.0,158.2 L280.9,157.9 L281.8,157.6 L282.7,157.3 L283.6,157.0 L284.5,156.8 L285.4,156.5 L286.3,156.2 L287.2,155.9 L288.1,155.7 L289.0,155.4 L289.9,155.1 L290.8,154.9 L291.7,154.6 L292.6,154.4 L293.5,154.1 L294.4,153.8 L295.3,153.6 L296.2,153.3 L297.1,153.1 L298.0,152.9 L298.9,152.6 L299.8,152.4 L300.7,152.1 L301.6,151.9 L302.5,151.7 L303.4,151.5 L304.3,151.2 L305.2,151.0 L306.1,150.8 L307.0,150.6 L307.9,150.4 L308.8,150.1 L309.7,149.9 L310.6,149.7 L311.6,149.5 L312.5,149.3 L313.4,149.1 L314.3,148.9 L315.2,148.7 L316.1,148.5 L317.0,148.3 L317.9,148.2 L318.8,148.0 L319.7,147.8 L320.6,147.6 L321.5,147.4 L322.4,147.2 L323.3,147.1 L324.2,146.9 L325.1,146.7 L326.0,146.6 L326.9,146.4 L327.8,146.2 L328.7,146.1 L329.6,145.9 L330.5,145.7 L331.4,145.6 L332.3,145.4 L333.2,145.3 L334.1,145.1 L335.0,145.0 L335.9,144.8 L336.8,144.7 L337.7,144.6 L338.6,144.4 L339.5,144.3 L340.4,144.2 L341.3,144.0 L342.2,143.9 L343.1,143.8 L344.0,143.6 L344.9,143.5 L345.8,143.4 L346.7,143.3 L347.6,143.2 L348.5,143.0 L349.4,142.9 L350.3,142.8 L351.2,142.7 L352.1,142.6 L353.0,142.5 L353.9,142.4 L354.8,142.3 L355.7,142.2 L356.6,142.1 L357.5,142.0 L358.4,141.9 L359.3,141.8 L360.2,141.7 L361.1,141.6 L362.0,141.5 L362.9,141.4 L363.8,141.4 L364.7,141.3 L365.6,141.2 L366.5,141.1 L367.4,141.0 L368.3,141.0 L369.2,140.9 L370.1,140.8 L371.0,140.8 L371.9,140.7 L372.8,140.6 L373.7,140.6 L374.6,140.5 L375.5,140.4 L376.4,140.4 L377.3,140.3 L378.2,140.3 L379.1,140.2 L380.0,140.1 L380.9,140.1 L381.8,140.0 L382.7,140.0 L383.6,140.0 L384.5,139.9 L385.4,139.9 L386.3,139.8 L387.2,139.8 L388.1,139.7 L389.0,139.7 L389.9,139.7 L390.8,139.6 L391.7,139.6 L392.6,139.6 L393.5,139.5 L394.4,139.5 L395.3,139.5 L396.2,139.5 L397.1,139.4 L398.0,139.4 L398.9,139.4 L399.8,139.4 L400.7,139.4 L401.6,139.3 L402.5,139.3 L403.4,139.3 L404.3,139.3 L405.2,139.3 L405.2,136.0 L404.3,136.0 L403.4,136.0 L402.5,136.0 L401.6,136.0 L400.6,136.1 L399.7,136.1 L398.8,136.1 L397.9,136.1 L397.0,136.1 L396.1,136.2 L395.2,136.2 L394.3,136.2 L393.4,136.3 L392.5,136.3 L391.6,136.3 L390.7,136.3 L389.8,136.4 L388.9,136.4 L388.0,136.5 L387.1,136.5 L386.1,136.5 L385.2,136.6 L384.3,136.6 L383.4,136.7 L382.5,136.7 L381.6,136.8 L380.7,136.8 L379.8,136.9 L378.9,136.9 L378.0,137.0 L377.1,137.1 L376.2,137.1 L375.3,137.2 L374.4,137.2 L373.5,137.3 L372.5,137.4 L371.6,137.4 L370.7,137.5 L369.8,137.6 L368.9,137.7 L368.0,137.7 L367.1,137.8 L366.2,137.9 L365.3,138.0 L364.4,138.1 L363.5,138.1 L362.6,138.2 L361.7,138.3 L360.8,138.4 L359.9,138.5 L358.9,138.6 L358.0,138.7 L357.1,138.8 L356.2,138.9 L355.3,139.0 L354.4,139.1 L353.5,139.2 L352.6,139.3 L351.7,139.4 L350.8,139.5 L349.9,139.7 L349.0,139.8 L348.1,139.9 L347.2,140.0 L346.2,140.1 L345.3,140.3 L344.4,140.4 L343.5,140.5 L342.6,140.6 L341.7,140.8 L340.8,140.9 L339.9,141.1 L339.0,141.2 L338.1,141.3 L337.2,141.5 L336.3,141.6 L335.4,141.8 L334.5,141.9 L333.6,142.1 L332.6,142.2 L331.7,142.4 L330.8,142.5 L329.9,142.7 L329.0,142.9 L328.1,143.0 L327.2,143.2 L326.3,143.4 L325.4,143.6 L324.5,143.7 L323.6,143.9 L322.7,144.1 L321.8,144.3 L320.9,144.4 L320.0,144.6 L319.0,144.8 L318.1,145.0 L317.2,145.2 L316.3,145.4 L315.4,145.6 L314.5,145.8 L313.6,146.0 L312.7,146.2 L311.8,146.4 L310.9,146.6 L310.0,146.8 L309.1,147.1 L308.2,147.3 L307.3,147.5 L306.4,147.7 L305.4,147.9 L304.5,148.2 L303.6,148.4 L302.7,148.6 L301.8,148.9 L300.9,149.1 L300.0,149.4 L299.1,149.6 L298.2,149.8 L297.3,150.1 L296.4,150.3 L295.5,150.6 L294.6,150.8 L293.7,151.1 L292.8,151.4 L291.8,151.6 L290.9,151.9 L290.0,152.2 L289.1,152.4 L288.2,152.7 L287.3,153.0 L286.4,153.3 L285.5,153.5 L284.6,153.8 L283.7,154.1 L282.8,154.4 L281.9,154.7 L281.0,155.0 L280.1,155.3 L279.2,155.6 L278.3,155.9 L277.3,156.2 L276.4,156.5 L275.5,156.8 L274.6,157.1 L273.7,157.5 L272.8,157.8 L271.9,158.1 L271.0,158.4 L270.1,158.8 L269.2,159.1 L268.3,159.4 L267.4,159.8 L266.5,160.1 L265.6,160.4 L264.7,160.8 L263.8,161.1 L262.9,161.5 L261.9,161.9 L261.0,162.2 L260.1,162.6 L259.2,162.9 L258.3,163.3 L257.4,163.7 L256.5,164.0 L255.6,164.4 L254.7,164.8 L253.8,165.2 L252.9,165.6 L252.0,166.0 L251.1,166.3 L250.2,166.7 L249.3,167.1 L248.4,167.5 L247.5,167.9 L246.5,168.4 L245.6,168.8 L244.7,169.2 L243.8,169.6 L242.9,170.0 L242.0,170.4 L241.1,170.9 L240.2,171.3 L239.3,171.7 L238.4,172.2 L237.5,172.6 L236.6,173.1 L235.7,173.5 L234.8,174.0 L233.9,174.4 L233.0,174.9 L232.1,175.4 L231.1,175.8 L230.2,176.3 L229.3,176.8 L228.4,177.3 L227.5,177.8 L226.6,178.3 L225.7,178.8 L224.8,179.3 L223.9,179.8 L223.0,180.3 L222.1,180.8 L221.2,181.3 L220.3,181.8 L219.4,182.4 L218.5,182.9 L217.6,183.4 L216.7,184.0 L215.7,184.5 L214.8,185.1 L213.9,185.6 L213.0,186.2 L212.1,186.8 L211.2,187.3 L210.3,187.9 L209.4,188.5 L208.5,189.1 L207.6,189.7 L206.7,190.3 L205.8,190.9 L204.9,191.5 L204.0,192.1 L203.1,192.7 L202.2,193.3 L201.3,194.0 L200.3,194.6 L199.4,195.2 L198.5,195.9 L197.6,196.5 L196.7,197.2 L195.8,197.8 L194.9,198.5 L194.0,199.2 L193.1,199.9 L192.2,200.6 L191.3,201.2 L190.4,201.9 L189.5,202.6 L188.6,203.3 L187.7,204.1 L186.8,204.8 L185.9,205.5 L185.0,206.2 L184.1,206.9 L183.1,207.7 L182.2,208.4 L181.3,209.1 L180.4,209.9 L179.5,210.6 L178.6,211.4 L177.7,212.1 L176.8,212.8 L175.9,213.6 L175.0,214.4 L174.1,215.1 L173.2,215.9 L172.3,216.6 L171.4,217.4 L170.5,218.1 L169.6,218.9 L168.7,219.7 L167.8,220.4 L166.9,221.2 L166.0,222.0 L165.1,222.7 L164.2,223.5 L163.3,224.2 L162.4,225.0 L161.4,225.8 L160.5,226.5 L159.6,227.3 L158.7,228.0 L157.8,228.8 L156.9,229.5 L156.0,230.3 L155.1,231.0 L154.2,231.8 L153.3,232.5 L152.4,233.3 L151.5,234.0 L150.6,234.8 L149.7,235.5 L148.8,236.2 L147.9,236.9 L147.0,237.7 L146.1,238.4 L145.2,239.1 L144.3,239.8 L143.4,240.5 L142.5,241.2 L141.6,241.9 L140.7,242.6 L139.8,243.3 L138.9,244.0 L138.0,244.7 L137.1,245.3 L136.2,246.0 L135.3,246.6 L134.4,247.3Z" fill="#07529f" stroke="none"/>
<path d="M158.7,248.9 L159.5,248.1 L160.3,247.4 L161.2,246.6 L162.0,245.8 L162.8,245.1 L163.6,244.3 L164.5,243.6 L165.3,242.8 L166.1,242.1 L166.9,241.4 L167.8,240.6 L168.6,239.9 L169.4,239.2 L170.2,238.5 L171.1,237.7 L171.9,237.0 L172.7,236.3 L173.5,235.6 L174.4,234.9 L175.2,234.2 L176.0,233.5 L176.9,232.8 L177.7,232.1 L178.5,231.4 L179.3,230.8 L180.2,230.1 L181.0,229.4 L181.8,228.7 L182.6,228.1 L183.5,227.4 L184.3,226.7 L185.1,226.1 L185.9,225.4 L186.8,224.8 L187.6,224.1 L188.4,223.5 L189.2,222.8 L190.1,222.2 L190.9,221.6 L191.7,220.9 L192.5,220.3 L193.4,219.7 L194.2,219.1 L195.0,218.5 L195.8,217.8 L196.7,217.2 L197.5,216.6 L198.3,216.0 L199.1,215.4 L200.0,214.8 L200.8,214.2 L201.6,213.6 L202.4,213.1 L203.3,212.5 L204.1,211.9 L204.9,211.3 L205.7,210.8 L206.6,210.2 L207.4,209.6 L208.2,209.1 L209.0,208.5 L209.9,207.9 L210.7,207.4 L211.5,206.8 L212.3,206.3 L213.2,205.7 L214.0,205.2 L214.8,204.7 L215.6,204.1 L216.5,203.6 L217.3,203.1 L218.1,202.6 L219.0,202.0 L219.8,201.5 L220.6,201.0 L221.4,200.5 L222.3,200.0 L223.1,199.5 L223.9,199.0 L224.7,198.5 L225.6,198.0 L226.4,197.5 L227.2,197.0 L228.0,196.5 L228.9,196.0 L229.7,195.6 L230.5,195.1 L231.3,194.6 L232.2,194.1 L233.0,193.7 L233.8,193.2 L234.6,192.8 L235.5,192.3 L236.3,191.8 L237.1,191.4 L237.9,190.9 L238.8,190.5 L239.6,190.0 L240.4,189.6 L241.2,189.2 L242.1,188.7 L242.9,188.3 L243.7,187.9 L244.5,187.5 L245.4,187.0 L246.2,186.6 L247.0,186.2 L247.8,185.8 L248.7,185.4 L249.5,185.0 L250.3,184.6 L251.1,184.2 L252.0,183.8 L252.8,183.4 L253.6,183.0 L254.4,182.6 L255.3,182.2 L256.1,181.8 L256.9,181.4 L257.7,181.1 L258.6,180.7 L259.4,180.3 L260.2,179.9 L261.0,179.6 L261.9,179.2 L262.7,178.8 L263.5,178.5 L264.3,178.1 L265.2,177.8 L266.0,177.4 L266.8,177.1 L267.6,176.7 L268.5,176.4 L269.3,176.0 L270.1,175.7 L270.9,175.4 L271.8,175.0 L272.6,174.7 L273.4,174.4 L274.2,174.1 L275.0,173.7 L275.9,173.4 L276.7,173.1 L277.5,172.8 L278.3,172.5 L279.2,172.2 L280.0,171.9 L280.8,171.6 L281.6,171.3 L282.5,171.0 L283.3,170.7 L284.1,170.4 L284.9,170.1 L285.8,169.8 L286.6,169.5 L287.4,169.2 L288.2,169.0 L289.1,168.7 L289.9,168.4 L290.7,168.1 L291.5,167.9 L292.4,167.6 L293.2,167.3 L294.0,167.1 L294.8,166.8 L295.7,166.6 L296.5,166.3 L297.3,166.1 L298.1,165.8 L299.0,165.6 L299.8,165.3 L300.6,165.1 L301.4,164.8 L302.3,164.6 L303.1,164.4 L303.9,164.1 L304.7,163.9 L305.5,163.7 L306.4,163.4 L307.2,163.2 L308.0,163.0 L308.8,162.8 L309.7,162.6 L310.5,162.3 L311.3,162.1 L312.1,161.9 L313.0,161.7 L313.8,161.5 L314.6,161.3 L315.4,161.1 L316.3,160.9 L317.1,160.7 L317.9,160.5 L318.7,160.3 L319.6,160.1 L320.4,160.0 L321.2,159.8 L322.0,159.6 L322.8,159.4 L323.7,159.2 L324.5,159.0 L325.3,158.9 L326.1,158.7 L327.0,158.5 L327.8,158.4 L328.6,158.2 L329.4,158.0 L330.3,157.9 L331.1,157.7 L331.9,157.6 L332.7,157.4 L333.6,157.3 L334.4,157.1 L335.2,157.0 L336.0,156.8 L336.8,156.7 L337.7,156.5 L338.5,156.4 L339.3,156.2 L340.1,156.1 L341.0,156.0 L341.8,155.8 L342.6,155.7 L343.4,155.6 L344.3,155.4 L345.1,155.3 L345.9,155.2 L346.7,155.1 L347.6,155.0 L348.4,154.8 L349.2,154.7 L350.0,154.6 L350.8,154.5 L351.7,154.4 L352.5,154.3 L353.3,154.2 L354.1,154.1 L355.0,154.0 L355.8,153.9 L356.6,153.8 L357.4,153.7 L358.3,153.6 L359.1,153.5 L359.9,153.4 L360.7,153.3 L361.6,153.2 L362.4,153.1 L363.2,153.1 L364.0,153.0 L364.8,152.9 L365.7,152.8 L366.5,152.7 L367.3,152.7 L368.1,152.6 L369.0,152.5 L369.8,152.5 L370.6,152.4 L371.4,152.3 L372.3,152.3 L373.1,152.2 L373.9,152.1 L374.7,152.1 L375.6,152.0 L376.4,152.0 L377.2,151.9 L378.0,151.8 L378.8,151.8 L379.7,151.7 L380.5,151.7 L381.3,151.7 L382.1,151.6 L383.0,151.6 L383.8,151.5 L384.6,151.5 L385.4,151.4 L386.3,151.4 L387.1,151.4 L387.9,151.3 L388.7,151.3 L389.6,151.3 L390.4,151.3 L391.2,151.2 L392.0,151.2 L392.8,151.2 L393.7,151.1 L394.5,151.1 L395.3,151.1 L396.1,151.1 L397.0,151.1 L397.8,151.1 L398.6,151.0 L399.4,151.0 L400.3,151.0 L401.1,151.0 L401.9,151.0 L402.7,151.0 L403.6,151.0 L404.4,151.0 L405.2,151.0 L405.2,147.7 L404.4,147.7 L403.5,147.7 L402.7,147.7 L401.9,147.7 L401.0,147.7 L400.2,147.7 L399.4,147.7 L398.6,147.7 L397.7,147.8 L396.9,147.8 L396.1,147.8 L395.2,147.8 L394.4,147.8 L393.6,147.9 L392.8,147.9 L391.9,147.9 L391.1,147.9 L390.3,148.0 L389.4,148.0 L388.6,148.0 L387.8,148.1 L386.9,148.1 L386.1,148.1 L385.3,148.2 L384.5,148.2 L383.6,148.2 L382.8,148.3 L382.0,148.3 L381.1,148.4 L380.3,148.4 L379.5,148.5 L378.6,148.5 L377.8,148.6 L377.0,148.6 L376.2,148.7 L375.3,148.8 L374.5,148.8 L373.7,148.9 L372.8,148.9 L372.0,149.0 L371.2,149.1 L370.3,149.1 L369.5,149.2 L368.7,149.3 L367.9,149.4 L367.0,149.4 L366.2,149.5 L365.4,149.6 L364.5,149.7 L363.7,149.8 L362.9,149.9 L362.0,149.9 L361.2,150.0 L360.4,150.1 L359.6,150.2 L358.7,150.3 L357.9,150.4 L357.1,150.5 L356.2,150.6 L355.4,150.7 L354.6,150.8 L353.7,150.9 L352.9,151.0 L352.1,151.1 L351.3,151.3 L350.4,151.4 L349.6,151.5 L348.8,151.6 L347.9,151.7 L347.1,151.8 L346.3,152.0 L345.4,152.1 L344.6,152.2 L343.8,152.4 L342.9,152.5 L342.1,152.6 L341.3,152.8 L340.5,152.9 L339.6,153.0 L338.8,153.2 L338.0,153.3 L337.1,153.5 L336.3,153.6 L335.5,153.8 L334.6,153.9 L333.8,154.1 L333.0,154.2 L332.2,154.4 L331.3,154.6 L330.5,154.7 L329.7,154.9 L328.8,155.1 L328.0,155.2 L327.2,155.4 L326.4,155.6 L325.5,155.8 L324.7,155.9 L323.9,156.1 L323.0,156.3 L322.2,156.5 L321.4,156.7 L320.5,156.9 L319.7,157.1 L318.9,157.3 L318.1,157.4 L317.2,157.6 L316.4,157.9 L315.6,158.1 L314.7,158.3 L313.9,158.5 L313.1,158.7 L312.2,158.9 L311.4,159.1 L310.6,159.3 L309.8,159.5 L308.9,159.8 L308.1,160.0 L307.3,160.2 L306.4,160.5 L305.6,160.7 L304.8,160.9 L303.9,161.2 L303.1,161.4 L302.3,161.6 L301.5,161.9 L300.6,162.1 L299.8,162.4 L299.0,162.6 L298.1,162.9 L297.3,163.1 L296.5,163.4 L295.7,163.7 L294.8,163.9 L294.0,164.2 L293.2,164.4 L292.3,164.7 L291.5,165.0 L290.7,165.3 L289.8,165.5 L289.0,165.8 L288.2,166.1 L287.4,166.4 L286.5,166.7 L285.7,167.0 L284.9,167.3 L284.0,167.6 L283.2,167.9 L282.4,168.2 L281.6,168.5 L280.7,168.8 L279.9,169.1 L279.1,169.4 L278.2,169.7 L277.4,170.0 L276.6,170.3 L275.8,170.7 L274.9,171.0 L274.1,171.3 L273.3,171.6 L272.4,172.0 L271.6,172.3 L270.8,172.6 L270.0,173.0 L269.1,173.3 L268.3,173.7 L267.5,174.0 L266.6,174.4 L265.8,174.7 L265.0,175.1 L264.1,175.4 L263.3,175.8 L262.5,176.2 L261.7,176.5 L260.8,176.9 L260.0,177.3 L259.2,177.7 L258.3,178.0 L257.5,178.4 L256.7,178.8 L255.9,179.2 L255.0,179.6 L254.2,180.0 L253.4,180.4 L252.5,180.8 L251.7,181.2 L250.9,181.6 L250.1,182.0 L249.2,182.4 L248.4,182.8 L247.6,183.2 L246.7,183.6 L245.9,184.1 L245.1,184.5 L244.3,184.9 L243.4,185.3 L242.6,185.8 L241.8,186.2 L240.9,186.6 L240.1,187.1 L239.3,187.5 L238.5,188.0 L237.6,188.4 L236.8,188.9 L236.0,189.3 L235.1,189.8 L234.3,190.3 L233.5,190.7 L232.7,191.2 L231.8,191.7 L231.0,192.1 L230.2,192.6 L229.4,193.1 L228.5,193.6 L227.7,194.1 L226.9,194.6 L226.0,195.0 L225.2,195.5 L224.4,196.0 L223.6,196.5 L222.7,197.0 L221.9,197.6 L221.1,198.1 L220.2,198.6 L219.4,199.1 L218.6,199.6 L217.8,200.1 L216.9,200.7 L216.1,201.2 L215.3,201.7 L214.4,202.3 L213.6,202.8 L212.8,203.4 L212.0,203.9 L211.1,204.5 L210.3,205.0 L209.5,205.6 L208.6,206.1 L207.8,206.7 L207.0,207.2 L206.2,207.8 L205.3,208.4 L204.5,209.0 L203.7,209.5 L202.8,210.1 L202.0,210.7 L201.2,211.3 L200.4,211.9 L199.5,212.5 L198.7,213.1 L197.9,213.7 L197.1,214.3 L196.2,214.9 L195.4,215.5 L194.6,216.1 L193.7,216.7 L192.9,217.4 L192.1,218.0 L191.3,218.6 L190.4,219.3 L189.6,219.9 L188.8,220.5 L187.9,221.2 L187.1,221.8 L186.3,222.5 L185.5,223.1 L184.6,223.8 L183.8,224.4 L183.0,225.1 L182.2,225.8 L181.3,226.4 L180.5,227.1 L179.7,227.8 L178.8,228.5 L178.0,229.2 L177.2,229.8 L176.4,230.5 L175.5,231.2 L174.7,231.9 L173.9,232.6 L173.0,233.3 L172.2,234.1 L171.4,234.8 L170.6,235.5 L169.7,236.2 L168.9,236.9 L168.1,237.7 L167.2,238.4 L166.4,239.1 L165.6,239.9 L164.8,240.6 L163.9,241.3 L163.1,242.1 L162.3,242.8 L161.5,243.6 L160.6,244.4 L159.8,245.1 L159.0,245.9 L158.1,246.7 L157.3,247.4Z" fill="#07529f" stroke="none"/>
<path d="M179.7,248.8 L180.4,248.1 L181.2,247.5 L181.9,246.8 L182.7,246.1 L183.5,245.5 L184.2,244.8 L185.0,244.2 L185.7,243.5 L186.5,242.9 L187.2,242.3 L188.0,241.6 L188.7,241.0 L189.5,240.4 L190.3,239.7 L191.0,239.1 L191.8,238.5 L192.5,237.9 L193.3,237.3 L194.0,236.6 L194.8,236.0 L195.5,235.4 L196.3,234.8 L197.0,234.2 L197.8,233.6 L198.6,233.0 L199.3,232.5 L200.1,231.9 L200.8,231.3 L201.6,230.7 L202.3,230.1 L203.1,229.6 L203.8,229.0 L204.6,228.4 L205.4,227.9 L206.1,227.3 L206.9,226.7 L207.6,226.2 L208.4,225.6 L209.1,225.1 L209.9,224.5 L210.6,224.0 L211.4,223.4 L212.2,222.9 L212.9,222.4 L213.7,221.8 L214.4,221.3 L215.2,220.8 L215.9,220.3 L216.7,219.7 L217.4,219.2 L218.2,218.7 L219.0,218.2 L219.7,217.7 L220.5,217.2 L221.2,216.7 L222.0,216.2 L222.7,215.7 L223.5,215.2 L224.2,214.7 L225.0,214.2 L225.8,213.7 L226.5,213.2 L227.3,212.7 L228.0,212.3 L228.8,211.8 L229.5,211.3 L230.3,210.9 L231.0,210.4 L231.8,209.9 L232.5,209.5 L233.3,209.0 L234.1,208.5 L234.8,208.1 L235.6,207.6 L236.3,207.2 L237.1,206.8 L237.8,206.3 L238.6,205.9 L239.3,205.4 L240.1,205.0 L240.9,204.6 L241.6,204.1 L242.4,203.7 L243.1,203.3 L243.9,202.9 L244.6,202.5 L245.4,202.0 L246.1,201.6 L246.9,201.2 L247.6,200.8 L248.4,200.4 L249.2,200.0 L249.9,199.6 L250.7,199.2 L251.4,198.8 L252.2,198.4 L252.9,198.0 L253.7,197.7 L254.4,197.3 L255.2,196.9 L256.0,196.5 L256.7,196.1 L257.5,195.8 L258.2,195.4 L259.0,195.0 L259.7,194.7 L260.5,194.3 L261.2,193.9 L262.0,193.6 L262.7,193.2 L263.5,192.9 L264.3,192.5 L265.0,192.2 L265.8,191.8 L266.5,191.5 L267.3,191.1 L268.0,190.8 L268.8,190.5 L269.5,190.1 L270.3,189.8 L271.0,189.5 L271.8,189.1 L272.6,188.8 L273.3,188.5 L274.1,188.2 L274.8,187.9 L275.6,187.5 L276.3,187.2 L277.1,186.9 L277.8,186.6 L278.6,186.3 L279.3,186.0 L280.1,185.7 L280.9,185.4 L281.6,185.1 L282.4,184.8 L283.1,184.5 L283.9,184.2 L284.6,184.0 L285.4,183.7 L286.1,183.4 L286.9,183.1 L287.6,182.8 L288.4,182.6 L289.2,182.3 L289.9,182.0 L290.7,181.7 L291.4,181.5 L292.2,181.2 L292.9,181.0 L293.7,180.7 L294.4,180.4 L295.2,180.2 L295.9,179.9 L296.7,179.7 L297.4,179.4 L298.2,179.2 L299.0,178.9 L299.7,178.7 L300.5,178.5 L301.2,178.2 L302.0,178.0 L302.7,177.7 L303.5,177.5 L304.2,177.3 L305.0,177.1 L305.7,176.8 L306.5,176.6 L307.3,176.4 L308.0,176.2 L308.8,176.0 L309.5,175.7 L310.3,175.5 L311.0,175.3 L311.8,175.1 L312.5,174.9 L313.3,174.7 L314.0,174.5 L314.8,174.3 L315.5,174.1 L316.3,173.9 L317.1,173.7 L317.8,173.5 L318.6,173.3 L319.3,173.1 L320.1,172.9 L320.8,172.8 L321.6,172.6 L322.3,172.4 L323.1,172.2 L323.8,172.0 L324.6,171.9 L325.3,171.7 L326.1,171.5 L326.9,171.4 L327.6,171.2 L328.4,171.0 L329.1,170.9 L329.9,170.7 L330.6,170.5 L331.4,170.4 L332.1,170.2 L332.9,170.1 L333.6,169.9 L334.4,169.8 L335.1,169.6 L335.9,169.5 L336.6,169.3 L337.4,169.2 L338.2,169.0 L338.9,168.9 L339.7,168.8 L340.4,168.6 L341.2,168.5 L341.9,168.3 L342.7,168.2 L343.4,168.1 L344.2,168.0 L344.9,167.8 L345.7,167.7 L346.4,167.6 L347.2,167.5 L348.0,167.3 L348.7,167.2 L349.5,167.1 L350.2,167.0 L351.0,166.9 L351.7,166.8 L352.5,166.7 L353.2,166.6 L354.0,166.4 L354.7,166.3 L355.5,166.2 L356.2,166.1 L357.0,166.0 L357.7,165.9 L358.5,165.8 L359.3,165.7 L360.0,165.7 L360.8,165.6 L361.5,165.5 L362.3,165.4 L363.0,165.3 L363.8,165.2 L364.5,165.1 L365.3,165.0 L366.0,165.0 L366.8,164.9 L367.5,164.8 L368.3,164.7 L369.0,164.6 L369.8,164.6 L370.6,164.5 L371.3,164.4 L372.1,164.4 L372.8,164.3 L373.6,164.2 L374.3,164.2 L375.1,164.1 L375.8,164.0 L376.6,164.0 L377.3,163.9 L378.1,163.9 L378.8,163.8 L379.6,163.7 L380.4,163.7 L381.1,163.6 L381.9,163.6 L382.6,163.5 L383.4,163.5 L384.1,163.4 L384.9,163.4 L385.6,163.4 L386.4,163.3 L387.1,163.3 L387.9,163.2 L388.6,163.2 L389.4,163.2 L390.1,163.1 L390.9,163.1 L391.7,163.0 L392.4,163.0 L393.2,163.0 L393.9,163.0 L394.7,162.9 L395.4,162.9 L396.2,162.9 L396.9,162.8 L397.7,162.8 L398.4,162.8 L399.2,162.8 L399.9,162.8 L400.7,162.7 L401.5,162.7 L402.2,162.7 L403.0,162.7 L403.7,162.7 L404.5,162.7 L405.2,162.7 L405.2,159.4 L404.4,159.4 L403.7,159.4 L402.9,159.4 L402.1,159.4 L401.4,159.4 L400.6,159.4 L399.9,159.5 L399.1,159.5 L398.3,159.5 L397.6,159.5 L396.8,159.6 L396.1,159.6 L395.3,159.6 L394.5,159.6 L393.8,159.7 L393.0,159.7 L392.3,159.7 L391.5,159.8 L390.7,159.8 L390.0,159.8 L389.2,159.9 L388.5,159.9 L387.7,160.0 L387.0,160.0 L386.2,160.0 L385.4,160.1 L384.7,160.1 L383.9,160.2 L383.2,160.2 L382.4,160.3 L381.6,160.3 L380.9,160.4 L380.1,160.4 L379.4,160.5 L378.6,160.6 L377.8,160.6 L377.1,160.7 L376.3,160.7 L375.6,160.8 L374.8,160.9 L374.0,160.9 L373.3,161.0 L372.5,161.1 L371.8,161.1 L371.0,161.2 L370.2,161.3 L369.5,161.4 L368.7,161.4 L368.0,161.5 L367.2,161.6 L366.4,161.7 L365.7,161.8 L364.9,161.9 L364.2,161.9 L363.4,162.0 L362.6,162.1 L361.9,162.2 L361.1,162.3 L360.4,162.4 L359.6,162.5 L358.9,162.6 L358.1,162.7 L357.3,162.8 L356.6,162.9 L355.8,163.0 L355.1,163.1 L354.3,163.2 L353.5,163.3 L352.8,163.4 L352.0,163.5 L351.3,163.7 L350.5,163.8 L349.7,163.9 L349.0,164.0 L348.2,164.1 L347.5,164.3 L346.7,164.4 L345.9,164.5 L345.2,164.6 L344.4,164.8 L343.7,164.9 L342.9,165.0 L342.1,165.2 L341.4,165.3 L340.6,165.5 L339.9,165.6 L339.1,165.7 L338.3,165.9 L337.6,166.0 L336.8,166.2 L336.1,166.3 L335.3,166.5 L334.5,166.6 L333.8,166.8 L333.0,166.9 L332.3,167.1 L331.5,167.3 L330.7,167.4 L330.0,167.6 L329.2,167.8 L328.5,167.9 L327.7,168.1 L327.0,168.3 L326.2,168.5 L325.4,168.6 L324.7,168.8 L323.9,169.0 L323.2,169.2 L322.4,169.4 L321.6,169.5 L320.9,169.7 L320.1,169.9 L319.4,170.1 L318.6,170.3 L317.8,170.5 L317.1,170.7 L316.3,170.9 L315.6,171.1 L314.8,171.3 L314.0,171.5 L313.3,171.7 L312.5,171.9 L311.8,172.1 L311.0,172.4 L310.2,172.6 L309.5,172.8 L308.7,173.0 L308.0,173.2 L307.2,173.5 L306.5,173.7 L305.7,173.9 L304.9,174.2 L304.2,174.4 L303.4,174.6 L302.7,174.9 L301.9,175.1 L301.1,175.3 L300.4,175.6 L299.6,175.8 L298.9,176.1 L298.1,176.3 L297.3,176.6 L296.6,176.8 L295.8,177.1 L295.1,177.3 L294.3,177.6 L293.6,177.9 L292.8,178.1 L292.0,178.4 L291.3,178.7 L290.5,178.9 L289.8,179.2 L289.0,179.5 L288.2,179.8 L287.5,180.1 L286.7,180.3 L286.0,180.6 L285.2,180.9 L284.4,181.2 L283.7,181.5 L282.9,181.8 L282.2,182.1 L281.4,182.4 L280.7,182.7 L279.9,183.0 L279.1,183.3 L278.4,183.6 L277.6,183.9 L276.9,184.2 L276.1,184.5 L275.3,184.9 L274.6,185.2 L273.8,185.5 L273.1,185.8 L272.3,186.2 L271.6,186.5 L270.8,186.8 L270.0,187.2 L269.3,187.5 L268.5,187.8 L267.8,188.2 L267.0,188.5 L266.2,188.9 L265.5,189.2 L264.7,189.6 L264.0,189.9 L263.2,190.3 L262.4,190.6 L261.7,191.0 L260.9,191.4 L260.2,191.7 L259.4,192.1 L258.7,192.5 L257.9,192.8 L257.1,193.2 L256.4,193.6 L255.6,194.0 L254.9,194.4 L254.1,194.7 L253.4,195.1 L252.6,195.5 L251.8,195.9 L251.1,196.3 L250.3,196.7 L249.6,197.1 L248.8,197.5 L248.0,197.9 L247.3,198.3 L246.5,198.7 L245.8,199.2 L245.0,199.6 L244.3,200.0 L243.5,200.4 L242.7,200.8 L242.0,201.3 L241.2,201.7 L240.5,202.1 L239.7,202.6 L238.9,203.0 L238.2,203.4 L237.4,203.9 L236.7,204.3 L235.9,204.8 L235.2,205.2 L234.4,205.7 L233.6,206.1 L232.9,206.6 L232.1,207.1 L231.4,207.5 L230.6,208.0 L229.9,208.5 L229.1,208.9 L228.3,209.4 L227.6,209.9 L226.8,210.4 L226.1,210.9 L225.3,211.4 L224.5,211.8 L223.8,212.3 L223.0,212.8 L222.3,213.3 L221.5,213.8 L220.8,214.3 L220.0,214.8 L219.2,215.4 L218.5,215.9 L217.7,216.4 L217.0,216.9 L216.2,217.4 L215.5,217.9 L214.7,218.5 L213.9,219.0 L213.2,219.5 L212.4,220.1 L211.7,220.6 L210.9,221.1 L210.1,221.7 L209.4,222.2 L208.6,222.8 L207.9,223.3 L207.1,223.9 L206.4,224.5 L205.6,225.0 L204.8,225.6 L204.1,226.2 L203.3,226.7 L202.6,227.3 L201.8,227.9 L201.1,228.5 L200.3,229.0 L199.5,229.6 L198.8,230.2 L198.0,230.8 L197.3,231.4 L196.5,232.0 L195.8,232.6 L195.0,233.2 L194.2,233.8 L193.5,234.4 L192.7,235.0 L192.0,235.7 L191.2,236.3 L190.4,236.9 L189.7,237.5 L188.9,238.1 L188.2,238.8 L187.4,239.4 L186.7,240.1 L185.9,240.7 L185.1,241.3 L184.4,242.0 L183.6,242.6 L182.9,243.3 L182.1,244.0 L181.4,244.6 L180.6,245.3 L179.8,245.9 L179.1,246.6 L178.3,247.3Z" fill="#07529f" stroke="none"/>
<path d="M200.7,248.9 L201.3,248.3 L202.0,247.7 L202.7,247.1 L203.4,246.6 L204.1,246.0 L204.8,245.4 L205.5,244.9 L206.1,244.3 L206.8,243.8 L207.5,243.2 L208.2,242.7 L208.9,242.1 L209.6,241.6 L210.3,241.0 L210.9,240.5 L211.6,240.0 L212.3,239.4 L213.0,238.9 L213.7,238.4 L214.4,237.9 L215.1,237.3 L215.7,236.8 L216.4,236.3 L217.1,235.8 L217.8,235.3 L218.5,234.8 L219.2,234.3 L219.8,233.8 L220.5,233.3 L221.2,232.8 L221.9,232.3 L222.6,231.8 L223.3,231.3 L224.0,230.8 L224.6,230.3 L225.3,229.8 L226.0,229.4 L226.7,228.9 L227.4,228.4 L228.1,227.9 L228.8,227.5 L229.4,227.0 L230.1,226.5 L230.8,226.1 L231.5,225.6 L232.2,225.2 L232.9,224.7 L233.5,224.3 L234.2,223.8 L234.9,223.4 L235.6,222.9 L236.3,222.5 L237.0,222.1 L237.7,221.6 L238.3,221.2 L239.0,220.8 L239.7,220.3 L240.4,219.9 L241.1,219.5 L241.8,219.1 L242.5,218.7 L243.1,218.3 L243.8,217.8 L244.5,217.4 L245.2,217.0 L245.9,216.6 L246.6,216.2 L247.2,215.8 L247.9,215.4 L248.6,215.0 L249.3,214.6 L250.0,214.3 L250.7,213.9 L251.4,213.5 L252.0,213.1 L252.7,212.7 L253.4,212.3 L254.1,212.0 L254.8,211.6 L255.5,211.2 L256.1,210.9 L256.8,210.5 L257.5,210.1 L258.2,209.8 L258.9,209.4 L259.6,209.1 L260.3,208.7 L260.9,208.4 L261.6,208.0 L262.3,207.7 L263.0,207.3 L263.7,207.0 L264.4,206.6 L265.0,206.3 L265.7,206.0 L266.4,205.6 L267.1,205.3 L267.8,205.0 L268.5,204.6 L269.2,204.3 L269.8,204.0 L270.5,203.7 L271.2,203.4 L271.9,203.0 L272.6,202.7 L273.3,202.4 L273.9,202.1 L274.6,201.8 L275.3,201.5 L276.0,201.2 L276.7,200.9 L277.4,200.6 L278.1,200.3 L278.7,200.0 L279.4,199.7 L280.1,199.4 L280.8,199.1 L281.5,198.9 L282.2,198.6 L282.8,198.3 L283.5,198.0 L284.2,197.7 L284.9,197.5 L285.6,197.2 L286.3,196.9 L287.0,196.6 L287.6,196.4 L288.3,196.1 L289.0,195.8 L289.7,195.6 L290.4,195.3 L291.1,195.1 L291.7,194.8 L292.4,194.6 L293.1,194.3 L293.8,194.1 L294.5,193.8 L295.2,193.6 L295.8,193.3 L296.5,193.1 L297.2,192.8 L297.9,192.6 L298.6,192.4 L299.3,192.1 L300.0,191.9 L300.6,191.7 L301.3,191.5 L302.0,191.2 L302.7,191.0 L303.4,190.8 L304.1,190.6 L304.7,190.3 L305.4,190.1 L306.1,189.9 L306.8,189.7 L307.5,189.5 L308.2,189.3 L308.8,189.1 L309.5,188.9 L310.2,188.7 L310.9,188.5 L311.6,188.3 L312.3,188.1 L312.9,187.9 L313.6,187.7 L314.3,187.5 L315.0,187.3 L315.7,187.1 L316.4,186.9 L317.0,186.7 L317.7,186.5 L318.4,186.3 L319.1,186.2 L319.8,186.0 L320.5,185.8 L321.2,185.6 L321.8,185.5 L322.5,185.3 L323.2,185.1 L323.9,184.9 L324.6,184.8 L325.3,184.6 L325.9,184.4 L326.6,184.3 L327.3,184.1 L328.0,184.0 L328.7,183.8 L329.4,183.6 L330.0,183.5 L330.7,183.3 L331.4,183.2 L332.1,183.0 L332.8,182.9 L333.5,182.7 L334.1,182.6 L334.8,182.4 L335.5,182.3 L336.2,182.2 L336.9,182.0 L337.6,181.9 L338.2,181.7 L338.9,181.6 L339.6,181.5 L340.3,181.3 L341.0,181.2 L341.7,181.1 L342.3,181.0 L343.0,180.8 L343.7,180.7 L344.4,180.6 L345.1,180.5 L345.8,180.3 L346.4,180.2 L347.1,180.1 L347.8,180.0 L348.5,179.9 L349.2,179.7 L349.9,179.6 L350.6,179.5 L351.2,179.4 L351.9,179.3 L352.6,179.2 L353.3,179.1 L354.0,179.0 L354.7,178.9 L355.3,178.8 L356.0,178.7 L356.7,178.6 L357.4,178.5 L358.1,178.4 L358.8,178.3 L359.4,178.2 L360.1,178.1 L360.8,178.0 L361.5,177.9 L362.2,177.8 L362.9,177.7 L363.5,177.6 L364.2,177.6 L364.9,177.5 L365.6,177.4 L366.3,177.3 L367.0,177.2 L367.6,177.2 L368.3,177.1 L369.0,177.0 L369.7,176.9 L370.4,176.8 L371.1,176.8 L371.7,176.7 L372.4,176.6 L373.1,176.6 L373.8,176.5 L374.5,176.4 L375.2,176.3 L375.8,176.3 L376.5,176.2 L377.2,176.2 L377.9,176.1 L378.6,176.0 L379.3,176.0 L379.9,175.9 L380.6,175.8 L381.3,175.8 L382.0,175.7 L382.7,175.7 L383.4,175.6 L384.1,175.6 L384.7,175.5 L385.4,175.5 L386.1,175.4 L386.8,175.4 L387.5,175.3 L388.2,175.3 L388.8,175.2 L389.5,175.2 L390.2,175.1 L390.9,175.1 L391.6,175.0 L392.3,175.0 L392.9,175.0 L393.6,174.9 L394.3,174.9 L395.0,174.8 L395.7,174.8 L396.4,174.8 L397.0,174.7 L397.7,174.7 L398.4,174.7 L399.1,174.6 L399.8,174.6 L400.5,174.6 L401.2,174.5 L401.8,174.5 L402.5,174.5 L403.2,174.5 L403.9,174.4 L404.6,174.4 L405.3,174.4 L405.1,171.1 L404.5,171.1 L403.8,171.1 L403.1,171.2 L402.4,171.2 L401.7,171.2 L401.0,171.3 L400.3,171.3 L399.6,171.3 L398.9,171.4 L398.3,171.4 L397.6,171.4 L396.9,171.5 L396.2,171.5 L395.5,171.5 L394.8,171.6 L394.1,171.6 L393.4,171.7 L392.7,171.7 L392.1,171.7 L391.4,171.8 L390.7,171.8 L390.0,171.9 L389.3,171.9 L388.6,172.0 L387.9,172.0 L387.2,172.1 L386.6,172.1 L385.9,172.2 L385.2,172.2 L384.5,172.3 L383.8,172.3 L383.1,172.4 L382.4,172.4 L381.7,172.5 L381.0,172.6 L380.4,172.6 L379.7,172.7 L379.0,172.7 L378.3,172.8 L377.6,172.9 L376.9,172.9 L376.2,173.0 L375.5,173.1 L374.8,173.1 L374.2,173.2 L373.5,173.3 L372.8,173.4 L372.1,173.4 L371.4,173.5 L370.7,173.6 L370.0,173.7 L369.3,173.7 L368.6,173.8 L368.0,173.9 L367.3,174.0 L366.6,174.1 L365.9,174.1 L365.2,174.2 L364.5,174.3 L363.8,174.4 L363.1,174.5 L362.4,174.6 L361.8,174.7 L361.1,174.8 L360.4,174.9 L359.7,175.0 L359.0,175.1 L358.3,175.2 L357.6,175.3 L356.9,175.4 L356.2,175.5 L355.6,175.6 L354.9,175.7 L354.2,175.8 L353.5,175.9 L352.8,176.0 L352.1,176.1 L351.4,176.2 L350.7,176.3 L350.0,176.5 L349.4,176.6 L348.7,176.7 L348.0,176.8 L347.3,176.9 L346.6,177.0 L345.9,177.2 L345.2,177.3 L344.5,177.4 L343.8,177.6 L343.2,177.7 L342.5,177.8 L341.8,177.9 L341.1,178.1 L340.4,178.2 L339.7,178.4 L339.0,178.5 L338.3,178.6 L337.6,178.8 L337.0,178.9 L336.3,179.1 L335.6,179.2 L334.9,179.4 L334.2,179.5 L333.5,179.7 L332.8,179.8 L332.1,180.0 L331.4,180.1 L330.8,180.3 L330.1,180.4 L329.4,180.6 L328.7,180.8 L328.0,180.9 L327.3,181.1 L326.6,181.3 L325.9,181.4 L325.2,181.6 L324.6,181.8 L323.9,181.9 L323.2,182.1 L322.5,182.3 L321.8,182.5 L321.1,182.6 L320.4,182.8 L319.7,183.0 L319.0,183.2 L318.4,183.4 L317.7,183.6 L317.0,183.8 L316.3,184.0 L315.6,184.2 L314.9,184.3 L314.2,184.5 L313.5,184.7 L312.8,184.9 L312.2,185.1 L311.5,185.4 L310.8,185.6 L310.1,185.8 L309.4,186.0 L308.7,186.2 L308.0,186.4 L307.3,186.6 L306.6,186.8 L306.0,187.1 L305.3,187.3 L304.6,187.5 L303.9,187.7 L303.2,187.9 L302.5,188.2 L301.8,188.4 L301.1,188.6 L300.4,188.9 L299.8,189.1 L299.1,189.3 L298.4,189.6 L297.7,189.8 L297.0,190.1 L296.3,190.3 L295.6,190.6 L294.9,190.8 L294.3,191.1 L293.6,191.3 L292.9,191.6 L292.2,191.8 L291.5,192.1 L290.8,192.3 L290.1,192.6 L289.4,192.9 L288.7,193.1 L288.1,193.4 L287.4,193.7 L286.7,193.9 L286.0,194.2 L285.3,194.5 L284.6,194.8 L283.9,195.1 L283.2,195.3 L282.6,195.6 L281.9,195.9 L281.2,196.2 L280.5,196.5 L279.8,196.8 L279.1,197.1 L278.4,197.4 L277.7,197.7 L277.0,198.0 L276.4,198.3 L275.7,198.6 L275.0,198.9 L274.3,199.2 L273.6,199.5 L272.9,199.8 L272.2,200.2 L271.5,200.5 L270.9,200.8 L270.2,201.1 L269.5,201.4 L268.8,201.8 L268.1,202.1 L267.4,202.4 L266.7,202.8 L266.0,203.1 L265.3,203.4 L264.7,203.8 L264.0,204.1 L263.3,204.5 L262.6,204.8 L261.9,205.2 L261.2,205.5 L260.5,205.9 L259.8,206.2 L259.2,206.6 L258.5,206.9 L257.8,207.3 L257.1,207.7 L256.4,208.0 L255.7,208.4 L255.0,208.8 L254.3,209.2 L253.7,209.5 L253.0,209.9 L252.3,210.3 L251.6,210.7 L250.9,211.1 L250.2,211.5 L249.5,211.9 L248.8,212.2 L248.2,212.6 L247.5,213.0 L246.8,213.4 L246.1,213.8 L245.4,214.2 L244.7,214.7 L244.0,215.1 L243.3,215.5 L242.6,215.9 L242.0,216.3 L241.3,216.7 L240.6,217.2 L239.9,217.6 L239.2,218.0 L238.5,218.4 L237.8,218.9 L237.1,219.3 L236.5,219.7 L235.8,220.2 L235.1,220.6 L234.4,221.1 L233.7,221.5 L233.0,222.0 L232.3,222.4 L231.6,222.9 L231.0,223.3 L230.3,223.8 L229.6,224.3 L228.9,224.7 L228.2,225.2 L227.5,225.7 L226.8,226.1 L226.1,226.6 L225.5,227.1 L224.8,227.6 L224.1,228.1 L223.4,228.6 L222.7,229.0 L222.0,229.5 L221.3,230.0 L220.6,230.5 L220.0,231.0 L219.3,231.5 L218.6,232.0 L217.9,232.5 L217.2,233.1 L216.5,233.6 L215.8,234.1 L215.1,234.6 L214.5,235.1 L213.8,235.6 L213.1,236.2 L212.4,236.7 L211.7,237.2 L211.0,237.8 L210.3,238.3 L209.6,238.9 L209.0,239.4 L208.3,239.9 L207.6,240.5 L206.9,241.0 L206.2,241.6 L205.5,242.2 L204.8,242.7 L204.1,243.3 L203.5,243.8 L202.8,244.4 L202.1,245.0 L201.4,245.6 L200.7,246.1 L200.0,246.7 L199.3,247.3Z" fill="#07529f" stroke="none"/>
<path d="M220.6,249.0 L221.3,248.6 L221.9,248.1 L222.5,247.7 L223.1,247.2 L223.7,246.8 L224.3,246.3 L225.0,245.8 L225.6,245.4 L226.2,244.9 L226.8,244.5 L227.4,244.0 L228.1,243.6 L228.7,243.1 L229.3,242.7 L229.9,242.2 L230.5,241.8 L231.2,241.3 L231.8,240.9 L232.4,240.4 L233.0,240.0 L233.6,239.5 L234.3,239.1 L234.9,238.6 L235.5,238.2 L236.1,237.8 L236.7,237.3 L237.3,236.9 L238.0,236.4 L238.6,236.0 L239.2,235.6 L239.8,235.1 L240.4,234.7 L241.1,234.3 L241.7,233.8 L242.3,233.4 L242.9,233.0 L243.5,232.6 L244.2,232.2 L244.8,231.7 L245.4,231.3 L246.0,230.9 L246.6,230.5 L247.2,230.1 L247.9,229.7 L248.5,229.3 L249.1,228.9 L249.7,228.5 L250.3,228.1 L251.0,227.7 L251.6,227.3 L252.2,226.9 L252.8,226.6 L253.4,226.2 L254.0,225.8 L254.7,225.4 L255.3,225.0 L255.9,224.7 L256.5,224.3 L257.1,224.0 L257.7,223.6 L258.4,223.2 L259.0,222.9 L259.6,222.5 L260.2,222.2 L260.8,221.8 L261.4,221.5 L262.1,221.2 L262.7,220.8 L263.3,220.5 L263.9,220.2 L264.5,219.8 L265.2,219.5 L265.8,219.2 L266.4,218.9 L267.0,218.5 L267.6,218.2 L268.2,217.9 L268.9,217.6 L269.5,217.3 L270.1,217.0 L270.7,216.7 L271.3,216.4 L271.9,216.1 L272.6,215.8 L273.2,215.5 L273.8,215.2 L274.4,214.9 L275.0,214.6 L275.6,214.3 L276.3,214.1 L276.9,213.8 L277.5,213.5 L278.1,213.2 L278.7,213.0 L279.4,212.7 L280.0,212.4 L280.6,212.2 L281.2,211.9 L281.8,211.6 L282.4,211.4 L283.1,211.1 L283.7,210.9 L284.3,210.6 L284.9,210.3 L285.5,210.1 L286.1,209.8 L286.8,209.6 L287.4,209.4 L288.0,209.1 L288.6,208.9 L289.2,208.6 L289.8,208.4 L290.5,208.2 L291.1,207.9 L291.7,207.7 L292.3,207.4 L292.9,207.2 L293.6,207.0 L294.2,206.8 L294.8,206.5 L295.4,206.3 L296.0,206.1 L296.6,205.9 L297.3,205.6 L297.9,205.4 L298.5,205.2 L299.1,205.0 L299.7,204.8 L300.3,204.6 L301.0,204.4 L301.6,204.1 L302.2,203.9 L302.8,203.7 L303.4,203.5 L304.1,203.3 L304.7,203.1 L305.3,202.9 L305.9,202.7 L306.5,202.5 L307.1,202.3 L307.8,202.1 L308.4,201.9 L309.0,201.7 L309.6,201.5 L310.2,201.3 L310.8,201.1 L311.5,201.0 L312.1,200.8 L312.7,200.6 L313.3,200.4 L313.9,200.2 L314.6,200.0 L315.2,199.8 L315.8,199.7 L316.4,199.5 L317.0,199.3 L317.6,199.1 L318.3,198.9 L318.9,198.8 L319.5,198.6 L320.1,198.4 L320.7,198.3 L321.3,198.1 L322.0,197.9 L322.6,197.8 L323.2,197.6 L323.8,197.4 L324.4,197.3 L325.0,197.1 L325.7,196.9 L326.3,196.8 L326.9,196.6 L327.5,196.5 L328.1,196.3 L328.8,196.2 L329.4,196.0 L330.0,195.9 L330.6,195.7 L331.2,195.6 L331.8,195.4 L332.5,195.3 L333.1,195.1 L333.7,195.0 L334.3,194.8 L334.9,194.7 L335.5,194.5 L336.2,194.4 L336.8,194.3 L337.4,194.1 L338.0,194.0 L338.6,193.9 L339.2,193.7 L339.9,193.6 L340.5,193.5 L341.1,193.3 L341.7,193.2 L342.3,193.1 L342.9,193.0 L343.6,192.8 L344.2,192.7 L344.8,192.6 L345.4,192.5 L346.0,192.3 L346.6,192.2 L347.3,192.1 L347.9,192.0 L348.5,191.9 L349.1,191.8 L349.7,191.6 L350.4,191.5 L351.0,191.4 L351.6,191.3 L352.2,191.2 L352.8,191.1 L353.4,191.0 L354.1,190.9 L354.7,190.8 L355.3,190.7 L355.9,190.6 L356.5,190.5 L357.1,190.4 L357.8,190.3 L358.4,190.2 L359.0,190.1 L359.6,190.0 L360.2,189.9 L360.8,189.8 L361.5,189.7 L362.1,189.6 L362.7,189.6 L363.3,189.5 L363.9,189.4 L364.5,189.3 L365.2,189.2 L365.8,189.1 L366.4,189.0 L367.0,189.0 L367.6,188.9 L368.2,188.8 L368.9,188.7 L369.5,188.7 L370.1,188.6 L370.7,188.5 L371.3,188.4 L371.9,188.4 L372.6,188.3 L373.2,188.2 L373.8,188.2 L374.4,188.1 L375.0,188.0 L375.6,188.0 L376.3,187.9 L376.9,187.8 L377.5,187.8 L378.1,187.7 L378.7,187.7 L379.3,187.6 L380.0,187.6 L380.6,187.5 L381.2,187.4 L381.8,187.4 L382.4,187.3 L383.0,187.3 L383.7,187.2 L384.3,187.2 L384.9,187.1 L385.5,187.1 L386.1,187.1 L386.7,187.0 L387.4,187.0 L388.0,186.9 L388.6,186.9 L389.2,186.8 L389.8,186.8 L390.4,186.8 L391.1,186.7 L391.7,186.7 L392.3,186.7 L392.9,186.6 L393.5,186.6 L394.1,186.6 L394.7,186.5 L395.4,186.5 L396.0,186.5 L396.6,186.5 L397.2,186.4 L397.8,186.4 L398.4,186.4 L399.1,186.4 L399.7,186.3 L400.3,186.3 L400.9,186.3 L401.5,186.3 L402.1,186.3 L402.8,186.2 L403.4,186.2 L404.0,186.2 L404.6,186.2 L405.2,186.2 L405.2,182.9 L404.5,182.9 L403.9,182.9 L403.3,182.9 L402.7,183.0 L402.1,183.0 L401.4,183.0 L400.8,183.0 L400.2,183.0 L399.6,183.0 L398.9,183.1 L398.3,183.1 L397.7,183.1 L397.1,183.1 L396.5,183.2 L395.8,183.2 L395.2,183.2 L394.6,183.3 L394.0,183.3 L393.3,183.3 L392.7,183.4 L392.1,183.4 L391.5,183.4 L390.9,183.5 L390.2,183.5 L389.6,183.5 L389.0,183.6 L388.4,183.6 L387.7,183.7 L387.1,183.7 L386.5,183.8 L385.9,183.8 L385.3,183.9 L384.6,183.9 L384.0,183.9 L383.4,184.0 L382.8,184.1 L382.1,184.1 L381.5,184.2 L380.9,184.2 L380.3,184.3 L379.7,184.3 L379.0,184.4 L378.4,184.5 L377.8,184.5 L377.2,184.6 L376.5,184.6 L375.9,184.7 L375.3,184.8 L374.7,184.8 L374.1,184.9 L373.4,185.0 L372.8,185.0 L372.2,185.1 L371.6,185.2 L370.9,185.3 L370.3,185.3 L369.7,185.4 L369.1,185.5 L368.5,185.6 L367.8,185.7 L367.2,185.7 L366.6,185.8 L366.0,185.9 L365.3,186.0 L364.7,186.1 L364.1,186.2 L363.5,186.3 L362.9,186.3 L362.2,186.4 L361.6,186.5 L361.0,186.6 L360.4,186.7 L359.7,186.8 L359.1,186.9 L358.5,187.0 L357.9,187.1 L357.3,187.2 L356.6,187.3 L356.0,187.4 L355.4,187.5 L354.8,187.6 L354.2,187.7 L353.5,187.8 L352.9,187.9 L352.3,188.1 L351.7,188.2 L351.0,188.3 L350.4,188.4 L349.8,188.5 L349.2,188.6 L348.6,188.7 L347.9,188.9 L347.3,189.0 L346.7,189.1 L346.1,189.2 L345.4,189.4 L344.8,189.5 L344.2,189.6 L343.6,189.7 L343.0,189.9 L342.3,190.0 L341.7,190.1 L341.1,190.3 L340.5,190.4 L339.8,190.5 L339.2,190.7 L338.6,190.8 L338.0,190.9 L337.4,191.1 L336.7,191.2 L336.1,191.4 L335.5,191.5 L334.9,191.7 L334.3,191.8 L333.6,191.9 L333.0,192.1 L332.4,192.2 L331.8,192.4 L331.1,192.5 L330.5,192.7 L329.9,192.9 L329.3,193.0 L328.7,193.2 L328.0,193.3 L327.4,193.5 L326.8,193.7 L326.2,193.8 L325.6,194.0 L324.9,194.1 L324.3,194.3 L323.7,194.5 L323.1,194.6 L322.4,194.8 L321.8,195.0 L321.2,195.2 L320.6,195.3 L320.0,195.5 L319.3,195.7 L318.7,195.9 L318.1,196.0 L317.5,196.2 L316.9,196.4 L316.2,196.6 L315.6,196.8 L315.0,197.0 L314.4,197.1 L313.7,197.3 L313.1,197.5 L312.5,197.7 L311.9,197.9 L311.3,198.1 L310.6,198.3 L310.0,198.5 L309.4,198.7 L308.8,198.9 L308.2,199.1 L307.5,199.3 L306.9,199.5 L306.3,199.7 L305.7,199.9 L305.0,200.1 L304.4,200.3 L303.8,200.5 L303.2,200.7 L302.6,200.9 L301.9,201.2 L301.3,201.4 L300.7,201.6 L300.1,201.8 L299.5,202.0 L298.8,202.2 L298.2,202.5 L297.6,202.7 L297.0,202.9 L296.4,203.1 L295.7,203.4 L295.1,203.6 L294.5,203.8 L293.9,204.0 L293.2,204.3 L292.6,204.5 L292.0,204.7 L291.4,205.0 L290.8,205.2 L290.1,205.5 L289.5,205.7 L288.9,206.0 L288.3,206.2 L287.7,206.4 L287.0,206.7 L286.4,206.9 L285.8,207.2 L285.2,207.5 L284.5,207.7 L283.9,208.0 L283.3,208.2 L282.7,208.5 L282.1,208.8 L281.4,209.0 L280.8,209.3 L280.2,209.6 L279.6,209.8 L279.0,210.1 L278.3,210.4 L277.7,210.7 L277.1,211.0 L276.5,211.2 L275.8,211.5 L275.2,211.8 L274.6,212.1 L274.0,212.4 L273.4,212.7 L272.7,213.0 L272.1,213.3 L271.5,213.6 L270.9,213.9 L270.3,214.2 L269.6,214.5 L269.0,214.8 L268.4,215.1 L267.8,215.5 L267.1,215.8 L266.5,216.1 L265.9,216.4 L265.3,216.7 L264.7,217.1 L264.0,217.4 L263.4,217.7 L262.8,218.1 L262.2,218.4 L261.6,218.8 L260.9,219.1 L260.3,219.5 L259.7,219.8 L259.1,220.2 L258.4,220.5 L257.8,220.9 L257.2,221.2 L256.6,221.6 L256.0,222.0 L255.3,222.4 L254.7,222.7 L254.1,223.1 L253.5,223.5 L252.9,223.9 L252.2,224.3 L251.6,224.6 L251.0,225.0 L250.4,225.4 L249.8,225.8 L249.1,226.2 L248.5,226.6 L247.9,227.0 L247.3,227.4 L246.6,227.8 L246.0,228.3 L245.4,228.7 L244.8,229.1 L244.2,229.5 L243.5,229.9 L242.9,230.3 L242.3,230.8 L241.7,231.2 L241.1,231.6 L240.4,232.1 L239.8,232.5 L239.2,232.9 L238.6,233.4 L238.0,233.8 L237.3,234.2 L236.7,234.7 L236.1,235.1 L235.5,235.6 L234.9,236.0 L234.2,236.4 L233.6,236.9 L233.0,237.3 L232.4,237.8 L231.8,238.2 L231.1,238.7 L230.5,239.1 L229.9,239.6 L229.3,240.0 L228.7,240.5 L228.0,240.9 L227.4,241.4 L226.8,241.9 L226.2,242.3 L225.6,242.8 L224.9,243.2 L224.3,243.7 L223.7,244.1 L223.1,244.6 L222.5,245.0 L221.8,245.5 L221.2,245.9 L220.6,246.4 L220.0,246.8 L219.4,247.3Z" fill="#07529f" stroke="none"/>
<path d="M243.7,248.9 L244.2,248.5 L244.7,248.1 L245.3,247.7 L245.8,247.2 L246.4,246.8 L246.9,246.4 L247.4,246.0 L248.0,245.6 L248.5,245.2 L249.1,244.7 L249.6,244.3 L250.1,243.9 L250.7,243.5 L251.2,243.1 L251.8,242.8 L252.3,242.4 L252.9,242.0 L253.4,241.6 L253.9,241.2 L254.5,240.8 L255.0,240.4 L255.6,240.1 L256.1,239.7 L256.6,239.3 L257.2,239.0 L257.7,238.6 L258.3,238.2 L258.8,237.9 L259.3,237.5 L259.9,237.1 L260.4,236.8 L261.0,236.4 L261.5,236.1 L262.0,235.7 L262.6,235.4 L263.1,235.1 L263.7,234.7 L264.2,234.4 L264.8,234.1 L265.3,233.7 L265.8,233.4 L266.4,233.1 L266.9,232.7 L267.5,232.4 L268.0,232.1 L268.5,231.8 L269.1,231.5 L269.6,231.1 L270.2,230.8 L270.7,230.5 L271.2,230.2 L271.8,229.9 L272.3,229.6 L272.9,229.3 L273.4,229.0 L273.9,228.7 L274.5,228.4 L275.0,228.1 L275.6,227.8 L276.1,227.5 L276.6,227.3 L277.2,227.0 L277.7,226.7 L278.3,226.4 L278.8,226.1 L279.4,225.9 L279.9,225.6 L280.4,225.3 L281.0,225.0 L281.5,224.8 L282.1,224.5 L282.6,224.3 L283.1,224.0 L283.7,223.7 L284.2,223.5 L284.8,223.2 L285.3,223.0 L285.8,222.7 L286.4,222.5 L286.9,222.2 L287.5,222.0 L288.0,221.7 L288.5,221.5 L289.1,221.3 L289.6,221.0 L290.2,220.8 L290.7,220.5 L291.2,220.3 L291.8,220.1 L292.3,219.9 L292.9,219.6 L293.4,219.4 L293.9,219.2 L294.5,219.0 L295.0,218.7 L295.6,218.5 L296.1,218.3 L296.6,218.1 L297.2,217.9 L297.7,217.7 L298.3,217.5 L298.8,217.2 L299.3,217.0 L299.9,216.8 L300.4,216.6 L301.0,216.4 L301.5,216.2 L302.0,216.0 L302.6,215.8 L303.1,215.6 L303.7,215.5 L304.2,215.3 L304.7,215.1 L305.3,214.9 L305.8,214.7 L306.4,214.5 L306.9,214.3 L307.5,214.1 L308.0,214.0 L308.5,213.8 L309.1,213.6 L309.6,213.4 L310.2,213.3 L310.7,213.1 L311.2,212.9 L311.8,212.7 L312.3,212.6 L312.9,212.4 L313.4,212.2 L313.9,212.1 L314.5,211.9 L315.0,211.8 L315.6,211.6 L316.1,211.4 L316.6,211.3 L317.2,211.1 L317.7,211.0 L318.3,210.8 L318.8,210.7 L319.3,210.5 L319.9,210.4 L320.4,210.2 L321.0,210.1 L321.5,209.9 L322.0,209.8 L322.6,209.6 L323.1,209.5 L323.7,209.3 L324.2,209.2 L324.7,209.1 L325.3,208.9 L325.8,208.8 L326.4,208.7 L326.9,208.5 L327.4,208.4 L328.0,208.3 L328.5,208.1 L329.1,208.0 L329.6,207.9 L330.1,207.8 L330.7,207.6 L331.2,207.5 L331.8,207.4 L332.3,207.3 L332.8,207.1 L333.4,207.0 L333.9,206.9 L334.5,206.8 L335.0,206.7 L335.5,206.6 L336.1,206.4 L336.6,206.3 L337.2,206.2 L337.7,206.1 L338.2,206.0 L338.8,205.9 L339.3,205.8 L339.9,205.7 L340.4,205.6 L340.9,205.5 L341.5,205.4 L342.0,205.3 L342.6,205.2 L343.1,205.1 L343.6,205.0 L344.2,204.9 L344.7,204.8 L345.3,204.7 L345.8,204.6 L346.3,204.5 L346.9,204.4 L347.4,204.3 L348.0,204.2 L348.5,204.1 L349.0,204.0 L349.6,203.9 L350.1,203.8 L350.7,203.7 L351.2,203.6 L351.7,203.6 L352.3,203.5 L352.8,203.4 L353.4,203.3 L353.9,203.2 L354.4,203.1 L355.0,203.1 L355.5,203.0 L356.1,202.9 L356.6,202.8 L357.1,202.7 L357.7,202.7 L358.2,202.6 L358.8,202.5 L359.3,202.4 L359.9,202.4 L360.4,202.3 L360.9,202.2 L361.5,202.1 L362.0,202.1 L362.6,202.0 L363.1,201.9 L363.6,201.9 L364.2,201.8 L364.7,201.7 L365.3,201.6 L365.8,201.6 L366.3,201.5 L366.9,201.4 L367.4,201.4 L368.0,201.3 L368.5,201.2 L369.0,201.2 L369.6,201.1 L370.1,201.1 L370.7,201.0 L371.2,200.9 L371.7,200.9 L372.3,200.8 L372.8,200.8 L373.4,200.7 L373.9,200.6 L374.5,200.6 L375.0,200.5 L375.5,200.5 L376.1,200.4 L376.6,200.4 L377.2,200.3 L377.7,200.2 L378.2,200.2 L378.8,200.1 L379.3,200.1 L379.9,200.0 L380.4,200.0 L380.9,199.9 L381.5,199.9 L382.0,199.8 L382.6,199.8 L383.1,199.7 L383.7,199.7 L384.2,199.6 L384.7,199.6 L385.3,199.5 L385.8,199.5 L386.4,199.4 L386.9,199.4 L387.4,199.3 L388.0,199.3 L388.5,199.2 L389.1,199.2 L389.6,199.1 L390.2,199.1 L390.7,199.0 L391.2,199.0 L391.8,198.9 L392.3,198.9 L392.9,198.8 L393.4,198.8 L393.9,198.8 L394.5,198.7 L395.0,198.7 L395.6,198.6 L396.1,198.6 L396.7,198.5 L397.2,198.5 L397.7,198.5 L398.3,198.4 L398.8,198.4 L399.4,198.3 L399.9,198.3 L400.4,198.2 L401.0,198.2 L401.5,198.2 L402.1,198.1 L402.6,198.1 L403.2,198.0 L403.7,198.0 L404.2,197.9 L404.8,197.9 L405.3,197.9 L405.1,194.6 L404.5,194.7 L404.0,194.7 L403.4,194.7 L402.9,194.8 L402.4,194.8 L401.8,194.9 L401.3,194.9 L400.7,195.0 L400.2,195.0 L399.6,195.0 L399.1,195.1 L398.6,195.1 L398.0,195.2 L397.5,195.2 L396.9,195.3 L396.4,195.3 L395.8,195.3 L395.3,195.4 L394.8,195.4 L394.2,195.5 L393.7,195.5 L393.1,195.6 L392.6,195.6 L392.0,195.7 L391.5,195.7 L391.0,195.8 L390.4,195.8 L389.9,195.8 L389.3,195.9 L388.8,195.9 L388.2,196.0 L387.7,196.0 L387.2,196.1 L386.6,196.1 L386.1,196.2 L385.5,196.2 L385.0,196.3 L384.4,196.3 L383.9,196.4 L383.3,196.4 L382.8,196.5 L382.3,196.5 L381.7,196.6 L381.2,196.7 L380.6,196.7 L380.1,196.8 L379.5,196.8 L379.0,196.9 L378.5,196.9 L377.9,197.0 L377.4,197.0 L376.8,197.1 L376.3,197.2 L375.7,197.2 L375.2,197.3 L374.6,197.3 L374.1,197.4 L373.6,197.4 L373.0,197.5 L372.5,197.6 L371.9,197.6 L371.4,197.7 L370.8,197.8 L370.3,197.8 L369.8,197.9 L369.2,197.9 L368.7,198.0 L368.1,198.1 L367.6,198.1 L367.0,198.2 L366.5,198.3 L365.9,198.4 L365.4,198.4 L364.9,198.5 L364.3,198.6 L363.8,198.6 L363.2,198.7 L362.7,198.8 L362.1,198.9 L361.6,198.9 L361.0,199.0 L360.5,199.1 L360.0,199.2 L359.4,199.2 L358.9,199.3 L358.3,199.4 L357.8,199.5 L357.2,199.5 L356.7,199.6 L356.1,199.7 L355.6,199.8 L355.1,199.9 L354.5,200.0 L354.0,200.0 L353.4,200.1 L352.9,200.2 L352.3,200.3 L351.8,200.4 L351.2,200.5 L350.7,200.6 L350.2,200.7 L349.6,200.8 L349.1,200.9 L348.5,200.9 L348.0,201.0 L347.4,201.1 L346.9,201.2 L346.3,201.3 L345.8,201.4 L345.3,201.5 L344.7,201.6 L344.2,201.7 L343.6,201.8 L343.1,201.9 L342.5,202.0 L342.0,202.2 L341.4,202.3 L340.9,202.4 L340.4,202.5 L339.8,202.6 L339.3,202.7 L338.7,202.8 L338.2,202.9 L337.6,203.0 L337.1,203.2 L336.5,203.3 L336.0,203.4 L335.4,203.5 L334.9,203.6 L334.4,203.7 L333.8,203.9 L333.3,204.0 L332.7,204.1 L332.2,204.2 L331.6,204.4 L331.1,204.5 L330.5,204.6 L330.0,204.8 L329.5,204.9 L328.9,205.0 L328.4,205.1 L327.8,205.3 L327.3,205.4 L326.7,205.6 L326.2,205.7 L325.6,205.8 L325.1,206.0 L324.6,206.1 L324.0,206.3 L323.5,206.4 L322.9,206.6 L322.4,206.7 L321.8,206.9 L321.3,207.0 L320.7,207.2 L320.2,207.3 L319.6,207.5 L319.1,207.6 L318.6,207.8 L318.0,207.9 L317.5,208.1 L316.9,208.2 L316.4,208.4 L315.8,208.6 L315.3,208.7 L314.7,208.9 L314.2,209.1 L313.7,209.2 L313.1,209.4 L312.6,209.6 L312.0,209.8 L311.5,209.9 L310.9,210.1 L310.4,210.3 L309.8,210.5 L309.3,210.6 L308.8,210.8 L308.2,211.0 L307.7,211.2 L307.1,211.4 L306.6,211.6 L306.0,211.8 L305.5,212.0 L304.9,212.1 L304.4,212.3 L303.8,212.5 L303.3,212.7 L302.8,212.9 L302.2,213.1 L301.7,213.3 L301.1,213.5 L300.6,213.8 L300.0,214.0 L299.5,214.2 L298.9,214.4 L298.4,214.6 L297.9,214.8 L297.3,215.0 L296.8,215.2 L296.2,215.5 L295.7,215.7 L295.1,215.9 L294.6,216.1 L294.0,216.4 L293.5,216.6 L293.0,216.8 L292.4,217.0 L291.9,217.3 L291.3,217.5 L290.8,217.8 L290.2,218.0 L289.7,218.2 L289.1,218.5 L288.6,218.7 L288.1,219.0 L287.5,219.2 L287.0,219.5 L286.4,219.7 L285.9,220.0 L285.3,220.2 L284.8,220.5 L284.2,220.7 L283.7,221.0 L283.2,221.3 L282.6,221.5 L282.1,221.8 L281.5,222.1 L281.0,222.3 L280.4,222.6 L279.9,222.9 L279.3,223.2 L278.8,223.4 L278.3,223.7 L277.7,224.0 L277.2,224.3 L276.6,224.6 L276.1,224.9 L275.5,225.2 L275.0,225.5 L274.4,225.8 L273.9,226.1 L273.4,226.4 L272.8,226.7 L272.3,227.0 L271.7,227.3 L271.2,227.6 L270.6,227.9 L270.1,228.2 L269.5,228.5 L269.0,228.8 L268.5,229.2 L267.9,229.5 L267.4,229.8 L266.8,230.1 L266.3,230.5 L265.7,230.8 L265.2,231.1 L264.7,231.5 L264.1,231.8 L263.6,232.1 L263.0,232.5 L262.5,232.8 L261.9,233.2 L261.4,233.5 L260.8,233.9 L260.3,234.2 L259.8,234.6 L259.2,234.9 L258.7,235.3 L258.1,235.7 L257.6,236.0 L257.0,236.4 L256.5,236.8 L255.9,237.2 L255.4,237.5 L254.9,237.9 L254.3,238.3 L253.8,238.7 L253.2,239.1 L252.7,239.4 L252.1,239.8 L251.6,240.2 L251.0,240.6 L250.5,241.0 L250.0,241.4 L249.4,241.8 L248.9,242.2 L248.3,242.6 L247.8,243.1 L247.2,243.5 L246.7,243.9 L246.2,244.3 L245.6,244.7 L245.1,245.1 L244.5,245.6 L244.0,246.0 L243.4,246.4 L242.9,246.9 L242.3,247.3Z" fill="#07529f" stroke="none"/>
<path d="M268.6,249.0 L269.1,248.7 L269.5,248.4 L270.0,248.1 L270.4,247.8 L270.9,247.5 L271.4,247.2 L271.8,246.9 L272.3,246.6 L272.7,246.3 L273.2,246.0 L273.6,245.7 L274.1,245.4 L274.6,245.2 L275.0,244.9 L275.5,244.6 L275.9,244.3 L276.4,244.0 L276.9,243.7 L277.3,243.5 L277.8,243.2 L278.2,242.9 L278.7,242.6 L279.1,242.4 L279.6,242.1 L280.1,241.8 L280.5,241.5 L281.0,241.3 L281.4,241.0 L281.9,240.7 L282.3,240.5 L282.8,240.2 L283.3,239.9 L283.7,239.7 L284.2,239.4 L284.6,239.2 L285.1,238.9 L285.5,238.6 L286.0,238.4 L286.5,238.1 L286.9,237.9 L287.4,237.6 L287.8,237.4 L288.3,237.1 L288.8,236.9 L289.2,236.6 L289.7,236.4 L290.1,236.2 L290.6,235.9 L291.0,235.7 L291.5,235.4 L292.0,235.2 L292.4,235.0 L292.9,234.7 L293.3,234.5 L293.8,234.3 L294.2,234.0 L294.7,233.8 L295.2,233.6 L295.6,233.3 L296.1,233.1 L296.5,232.9 L297.0,232.7 L297.4,232.4 L297.9,232.2 L298.4,232.0 L298.8,231.8 L299.3,231.6 L299.7,231.3 L300.2,231.1 L300.6,230.9 L301.1,230.7 L301.6,230.5 L302.0,230.3 L302.5,230.1 L302.9,229.9 L303.4,229.7 L303.8,229.5 L304.3,229.2 L304.8,229.0 L305.2,228.8 L305.7,228.6 L306.1,228.4 L306.6,228.2 L307.0,228.0 L307.5,227.8 L308.0,227.7 L308.4,227.5 L308.9,227.3 L309.3,227.1 L309.8,226.9 L310.2,226.7 L310.7,226.5 L311.2,226.3 L311.6,226.1 L312.1,226.0 L312.5,225.8 L313.0,225.6 L313.5,225.4 L313.9,225.2 L314.4,225.1 L314.8,224.9 L315.3,224.7 L315.7,224.5 L316.2,224.3 L316.6,224.2 L317.1,224.0 L317.6,223.8 L318.0,223.7 L318.5,223.5 L318.9,223.3 L319.4,223.2 L319.8,223.0 L320.3,222.8 L320.8,222.7 L321.2,222.5 L321.7,222.4 L322.1,222.2 L322.6,222.0 L323.0,221.9 L323.5,221.7 L324.0,221.6 L324.4,221.4 L324.9,221.3 L325.3,221.1 L325.8,221.0 L326.2,220.8 L326.7,220.7 L327.2,220.5 L327.6,220.4 L328.1,220.2 L328.5,220.1 L329.0,219.9 L329.4,219.8 L329.9,219.7 L330.4,219.5 L330.8,219.4 L331.3,219.2 L331.7,219.1 L332.2,219.0 L332.6,218.8 L333.1,218.7 L333.6,218.6 L334.0,218.4 L334.5,218.3 L334.9,218.2 L335.4,218.1 L335.8,217.9 L336.3,217.8 L336.8,217.7 L337.2,217.6 L337.7,217.4 L338.1,217.3 L338.6,217.2 L339.0,217.1 L339.5,217.0 L339.9,216.8 L340.4,216.7 L340.9,216.6 L341.3,216.5 L341.8,216.4 L342.2,216.3 L342.7,216.2 L343.1,216.0 L343.6,215.9 L344.1,215.8 L344.5,215.7 L345.0,215.6 L345.4,215.5 L345.9,215.4 L346.3,215.3 L346.8,215.2 L347.3,215.1 L347.7,215.0 L348.2,214.9 L348.6,214.8 L349.1,214.7 L349.5,214.6 L350.0,214.5 L350.4,214.4 L350.9,214.3 L351.4,214.2 L351.8,214.1 L352.3,214.0 L352.7,214.0 L353.2,213.9 L353.6,213.8 L354.1,213.7 L354.6,213.6 L355.0,213.5 L355.5,213.4 L355.9,213.4 L356.4,213.3 L356.8,213.2 L357.3,213.1 L357.7,213.0 L358.2,213.0 L358.7,212.9 L359.1,212.8 L359.6,212.7 L360.0,212.6 L360.5,212.6 L360.9,212.5 L361.4,212.4 L361.9,212.4 L362.3,212.3 L362.8,212.2 L363.2,212.1 L363.7,212.1 L364.1,212.0 L364.6,211.9 L365.0,211.9 L365.5,211.8 L366.0,211.8 L366.4,211.7 L366.9,211.6 L367.3,211.6 L367.8,211.5 L368.2,211.5 L368.7,211.4 L369.2,211.3 L369.6,211.3 L370.1,211.2 L370.5,211.2 L371.0,211.1 L371.4,211.1 L371.9,211.0 L372.3,211.0 L372.8,210.9 L373.3,210.9 L373.7,210.8 L374.2,210.8 L374.6,210.7 L375.1,210.7 L375.5,210.6 L376.0,210.6 L376.4,210.5 L376.9,210.5 L377.4,210.4 L377.8,210.4 L378.3,210.4 L378.7,210.3 L379.2,210.3 L379.6,210.2 L380.1,210.2 L380.6,210.2 L381.0,210.1 L381.5,210.1 L381.9,210.1 L382.4,210.0 L382.8,210.0 L383.3,210.0 L383.7,209.9 L384.2,209.9 L384.7,209.9 L385.1,209.8 L385.6,209.8 L386.0,209.8 L386.5,209.8 L386.9,209.7 L387.4,209.7 L387.9,209.7 L388.3,209.7 L388.8,209.6 L389.2,209.6 L389.7,209.6 L390.1,209.6 L390.6,209.6 L391.0,209.5 L391.5,209.5 L392.0,209.5 L392.4,209.5 L392.9,209.5 L393.3,209.5 L393.8,209.4 L394.2,209.4 L394.7,209.4 L395.1,209.4 L395.6,209.4 L396.1,209.4 L396.5,209.4 L397.0,209.4 L397.4,209.3 L397.9,209.3 L398.3,209.3 L398.8,209.3 L399.3,209.3 L399.7,209.3 L400.2,209.3 L400.6,209.3 L401.1,209.3 L401.5,209.3 L402.0,209.3 L402.4,209.3 L402.9,209.3 L403.4,209.3 L403.8,209.3 L404.3,209.3 L404.7,209.3 L405.2,209.3 L405.2,206.0 L404.8,206.0 L404.3,206.0 L403.8,206.0 L403.4,206.0 L402.9,206.0 L402.4,206.0 L402.0,206.0 L401.5,206.0 L401.1,206.0 L400.6,206.0 L400.1,206.0 L399.7,206.0 L399.2,206.0 L398.8,206.0 L398.3,206.0 L397.8,206.0 L397.4,206.1 L396.9,206.1 L396.4,206.1 L396.0,206.1 L395.5,206.1 L395.1,206.1 L394.6,206.1 L394.1,206.1 L393.7,206.2 L393.2,206.2 L392.8,206.2 L392.3,206.2 L391.8,206.2 L391.4,206.2 L390.9,206.3 L390.4,206.3 L390.0,206.3 L389.5,206.3 L389.1,206.3 L388.6,206.4 L388.1,206.4 L387.7,206.4 L387.2,206.4 L386.8,206.5 L386.3,206.5 L385.8,206.5 L385.4,206.6 L384.9,206.6 L384.4,206.6 L384.0,206.6 L383.5,206.7 L383.1,206.7 L382.6,206.7 L382.1,206.8 L381.7,206.8 L381.2,206.9 L380.8,206.9 L380.3,206.9 L379.8,207.0 L379.4,207.0 L378.9,207.1 L378.4,207.1 L378.0,207.1 L377.5,207.2 L377.1,207.2 L376.6,207.3 L376.1,207.3 L375.7,207.4 L375.2,207.4 L374.7,207.5 L374.3,207.5 L373.8,207.6 L373.4,207.6 L372.9,207.7 L372.4,207.7 L372.0,207.8 L371.5,207.8 L371.1,207.9 L370.6,207.9 L370.1,208.0 L369.7,208.1 L369.2,208.1 L368.7,208.2 L368.3,208.2 L367.8,208.3 L367.4,208.4 L366.9,208.4 L366.4,208.5 L366.0,208.6 L365.5,208.6 L365.1,208.7 L364.6,208.8 L364.1,208.8 L363.7,208.9 L363.2,209.0 L362.7,209.1 L362.3,209.1 L361.8,209.2 L361.4,209.3 L360.9,209.4 L360.4,209.4 L360.0,209.5 L359.5,209.6 L359.1,209.7 L358.6,209.7 L358.1,209.8 L357.7,209.9 L357.2,210.0 L356.7,210.1 L356.3,210.2 L355.8,210.3 L355.4,210.3 L354.9,210.4 L354.4,210.5 L354.0,210.6 L353.5,210.7 L353.1,210.8 L352.6,210.9 L352.1,211.0 L351.7,211.1 L351.2,211.2 L350.7,211.3 L350.3,211.4 L349.8,211.5 L349.4,211.6 L348.9,211.7 L348.4,211.8 L348.0,211.9 L347.5,212.0 L347.1,212.1 L346.6,212.2 L346.1,212.3 L345.7,212.4 L345.2,212.5 L344.8,212.6 L344.3,212.7 L343.8,212.9 L343.4,213.0 L342.9,213.1 L342.4,213.2 L342.0,213.3 L341.5,213.4 L341.1,213.6 L340.6,213.7 L340.1,213.8 L339.7,213.9 L339.2,214.0 L338.8,214.2 L338.3,214.3 L337.8,214.4 L337.4,214.5 L336.9,214.7 L336.4,214.8 L336.0,214.9 L335.5,215.1 L335.1,215.2 L334.6,215.3 L334.1,215.5 L333.7,215.6 L333.2,215.7 L332.8,215.9 L332.3,216.0 L331.8,216.1 L331.4,216.3 L330.9,216.4 L330.5,216.6 L330.0,216.7 L329.5,216.9 L329.1,217.0 L328.6,217.2 L328.2,217.3 L327.7,217.5 L327.2,217.6 L326.8,217.8 L326.3,217.9 L325.8,218.1 L325.4,218.2 L324.9,218.4 L324.5,218.5 L324.0,218.7 L323.5,218.8 L323.1,219.0 L322.6,219.2 L322.2,219.3 L321.7,219.5 L321.2,219.7 L320.8,219.8 L320.3,220.0 L319.9,220.2 L319.4,220.3 L318.9,220.5 L318.5,220.7 L318.0,220.8 L317.6,221.0 L317.1,221.2 L316.6,221.4 L316.2,221.5 L315.7,221.7 L315.3,221.9 L314.8,222.1 L314.3,222.3 L313.9,222.4 L313.4,222.6 L312.9,222.8 L312.5,223.0 L312.0,223.2 L311.6,223.4 L311.1,223.6 L310.6,223.8 L310.2,223.9 L309.7,224.1 L309.3,224.3 L308.8,224.5 L308.3,224.7 L307.9,224.9 L307.4,225.1 L307.0,225.3 L306.5,225.5 L306.0,225.7 L305.6,225.9 L305.1,226.1 L304.7,226.3 L304.2,226.6 L303.7,226.8 L303.3,227.0 L302.8,227.2 L302.4,227.4 L301.9,227.6 L301.4,227.8 L301.0,228.0 L300.5,228.3 L300.1,228.5 L299.6,228.7 L299.1,228.9 L298.7,229.1 L298.2,229.4 L297.8,229.6 L297.3,229.8 L296.8,230.0 L296.4,230.3 L295.9,230.5 L295.5,230.7 L295.0,231.0 L294.5,231.2 L294.1,231.4 L293.6,231.7 L293.2,231.9 L292.7,232.1 L292.2,232.4 L291.8,232.6 L291.3,232.8 L290.8,233.1 L290.4,233.3 L289.9,233.6 L289.5,233.8 L289.0,234.1 L288.5,234.3 L288.1,234.6 L287.6,234.8 L287.2,235.1 L286.7,235.3 L286.2,235.6 L285.8,235.8 L285.3,236.1 L284.9,236.4 L284.4,236.6 L283.9,236.9 L283.5,237.1 L283.0,237.4 L282.6,237.7 L282.1,237.9 L281.6,238.2 L281.2,238.5 L280.7,238.8 L280.3,239.0 L279.8,239.3 L279.3,239.6 L278.9,239.8 L278.4,240.1 L278.0,240.4 L277.5,240.7 L277.0,241.0 L276.6,241.3 L276.1,241.5 L275.7,241.8 L275.2,242.1 L274.7,242.4 L274.3,242.7 L273.8,243.0 L273.4,243.3 L272.9,243.6 L272.4,243.9 L272.0,244.2 L271.5,244.4 L271.1,244.7 L270.6,245.0 L270.1,245.3 L269.7,245.7 L269.2,246.0 L268.8,246.3 L268.3,246.6 L267.8,246.9 L267.4,247.2Z" fill="#07529f" stroke="none"/>
<path d="M293.6,249.0 L294.0,248.7 L294.4,248.5 L294.7,248.2 L295.1,248.0 L295.5,247.7 L295.9,247.5 L296.2,247.2 L296.6,247.0 L297.0,246.7 L297.4,246.5 L297.7,246.2 L298.1,246.0 L298.5,245.8 L298.9,245.5 L299.2,245.3 L299.6,245.0 L300.0,244.8 L300.3,244.6 L300.7,244.4 L301.1,244.1 L301.5,243.9 L301.8,243.7 L302.2,243.5 L302.6,243.2 L303.0,243.0 L303.3,242.8 L303.7,242.6 L304.1,242.4 L304.5,242.2 L304.8,242.0 L305.2,241.7 L305.6,241.5 L306.0,241.3 L306.3,241.1 L306.7,240.9 L307.1,240.7 L307.4,240.5 L307.8,240.3 L308.2,240.1 L308.6,239.9 L308.9,239.7 L309.3,239.6 L309.7,239.4 L310.1,239.2 L310.4,239.0 L310.8,238.8 L311.2,238.6 L311.5,238.4 L311.9,238.3 L312.3,238.1 L312.7,237.9 L313.0,237.7 L313.4,237.6 L313.8,237.4 L314.2,237.2 L314.5,237.0 L314.9,236.9 L315.3,236.7 L315.7,236.5 L316.0,236.4 L316.4,236.2 L316.8,236.0 L317.1,235.9 L317.5,235.7 L317.9,235.6 L318.3,235.4 L318.6,235.3 L319.0,235.1 L319.4,235.0 L319.8,234.8 L320.1,234.7 L320.5,234.5 L320.9,234.4 L321.2,234.2 L321.6,234.1 L322.0,233.9 L322.4,233.8 L322.7,233.6 L323.1,233.5 L323.5,233.4 L323.9,233.2 L324.2,233.1 L324.6,233.0 L325.0,232.8 L325.4,232.7 L325.7,232.6 L326.1,232.4 L326.5,232.3 L326.8,232.2 L327.2,232.1 L327.6,231.9 L328.0,231.8 L328.3,231.7 L328.7,231.6 L329.1,231.4 L329.5,231.3 L329.8,231.2 L330.2,231.1 L330.6,231.0 L330.9,230.9 L331.3,230.7 L331.7,230.6 L332.1,230.5 L332.4,230.4 L332.8,230.3 L333.2,230.2 L333.5,230.1 L333.9,230.0 L334.3,229.9 L334.7,229.8 L335.0,229.7 L335.4,229.6 L335.8,229.5 L336.2,229.4 L336.5,229.3 L336.9,229.2 L337.3,229.1 L337.6,229.0 L338.0,228.9 L338.4,228.8 L338.8,228.7 L339.1,228.6 L339.5,228.5 L339.9,228.4 L340.3,228.3 L340.6,228.3 L341.0,228.2 L341.4,228.1 L341.7,228.0 L342.1,227.9 L342.5,227.8 L342.9,227.8 L343.2,227.7 L343.6,227.6 L344.0,227.5 L344.4,227.4 L344.7,227.4 L345.1,227.3 L345.5,227.2 L345.8,227.1 L346.2,227.0 L346.6,227.0 L347.0,226.9 L347.3,226.8 L347.7,226.8 L348.1,226.7 L348.5,226.6 L348.8,226.5 L349.2,226.5 L349.6,226.4 L349.9,226.3 L350.3,226.3 L350.7,226.2 L351.1,226.1 L351.4,226.1 L351.8,226.0 L352.2,226.0 L352.6,225.9 L352.9,225.8 L353.3,225.8 L353.7,225.7 L354.0,225.7 L354.4,225.6 L354.8,225.5 L355.2,225.5 L355.5,225.4 L355.9,225.4 L356.3,225.3 L356.7,225.3 L357.0,225.2 L357.4,225.2 L357.8,225.1 L358.1,225.0 L358.5,225.0 L358.9,224.9 L359.3,224.9 L359.6,224.8 L360.0,224.8 L360.4,224.7 L360.8,224.7 L361.1,224.6 L361.5,224.6 L361.9,224.6 L362.2,224.5 L362.6,224.5 L363.0,224.4 L363.4,224.4 L363.7,224.3 L364.1,224.3 L364.5,224.2 L364.9,224.2 L365.2,224.2 L365.6,224.1 L366.0,224.1 L366.4,224.0 L366.7,224.0 L367.1,224.0 L367.5,223.9 L367.8,223.9 L368.2,223.8 L368.6,223.8 L369.0,223.8 L369.3,223.7 L369.7,223.7 L370.1,223.7 L370.5,223.6 L370.8,223.6 L371.2,223.5 L371.6,223.5 L372.0,223.5 L372.3,223.4 L372.7,223.4 L373.1,223.4 L373.4,223.3 L373.8,223.3 L374.2,223.3 L374.6,223.2 L374.9,223.2 L375.3,223.2 L375.7,223.1 L376.1,223.1 L376.4,223.1 L376.8,223.1 L377.2,223.0 L377.6,223.0 L377.9,223.0 L378.3,222.9 L378.7,222.9 L379.1,222.9 L379.4,222.8 L379.8,222.8 L380.2,222.8 L380.6,222.8 L380.9,222.7 L381.3,222.7 L381.7,222.7 L382.1,222.7 L382.4,222.6 L382.8,222.6 L383.2,222.6 L383.6,222.5 L383.9,222.5 L384.3,222.5 L384.7,222.5 L385.1,222.4 L385.4,222.4 L385.8,222.4 L386.2,222.4 L386.5,222.3 L386.9,222.3 L387.3,222.3 L387.7,222.3 L388.0,222.2 L388.4,222.2 L388.8,222.2 L389.2,222.2 L389.5,222.1 L389.9,222.1 L390.3,222.1 L390.7,222.1 L391.0,222.0 L391.4,222.0 L391.8,222.0 L392.2,222.0 L392.5,221.9 L392.9,221.9 L393.3,221.9 L393.7,221.9 L394.1,221.8 L394.4,221.8 L394.8,221.8 L395.2,221.8 L395.6,221.7 L395.9,221.7 L396.3,221.7 L396.7,221.7 L397.1,221.6 L397.4,221.6 L397.8,221.6 L398.2,221.6 L398.6,221.5 L398.9,221.5 L399.3,221.5 L399.7,221.5 L400.1,221.4 L400.4,221.4 L400.8,221.4 L401.2,221.3 L401.6,221.3 L401.9,221.3 L402.3,221.3 L402.7,221.2 L403.1,221.2 L403.4,221.2 L403.8,221.2 L404.2,221.1 L404.6,221.1 L404.9,221.1 L405.3,221.0 L405.1,217.8 L404.7,217.8 L404.3,217.8 L404.0,217.9 L403.6,217.9 L403.2,217.9 L402.8,218.0 L402.5,218.0 L402.1,218.0 L401.7,218.0 L401.3,218.1 L401.0,218.1 L400.6,218.1 L400.2,218.1 L399.8,218.2 L399.5,218.2 L399.1,218.2 L398.7,218.2 L398.3,218.3 L398.0,218.3 L397.6,218.3 L397.2,218.4 L396.8,218.4 L396.5,218.4 L396.1,218.4 L395.7,218.5 L395.3,218.5 L395.0,218.5 L394.6,218.5 L394.2,218.6 L393.8,218.6 L393.5,218.6 L393.1,218.6 L392.7,218.7 L392.3,218.7 L392.0,218.7 L391.6,218.7 L391.2,218.8 L390.8,218.8 L390.5,218.8 L390.1,218.8 L389.7,218.9 L389.3,218.9 L389.0,218.9 L388.6,218.9 L388.2,219.0 L387.8,219.0 L387.5,219.0 L387.1,219.0 L386.7,219.1 L386.3,219.1 L385.9,219.1 L385.6,219.1 L385.2,219.2 L384.8,219.2 L384.4,219.2 L384.1,219.2 L383.7,219.3 L383.3,219.3 L382.9,219.3 L382.6,219.3 L382.2,219.4 L381.8,219.4 L381.4,219.4 L381.1,219.5 L380.7,219.5 L380.3,219.5 L379.9,219.5 L379.6,219.6 L379.2,219.6 L378.8,219.6 L378.4,219.7 L378.1,219.7 L377.7,219.7 L377.3,219.8 L376.9,219.8 L376.5,219.8 L376.2,219.8 L375.8,219.9 L375.4,219.9 L375.0,219.9 L374.7,220.0 L374.3,220.0 L373.9,220.0 L373.5,220.1 L373.2,220.1 L372.8,220.1 L372.4,220.2 L372.0,220.2 L371.7,220.3 L371.3,220.3 L370.9,220.3 L370.5,220.4 L370.1,220.4 L369.8,220.4 L369.4,220.5 L369.0,220.5 L368.6,220.6 L368.3,220.6 L367.9,220.6 L367.5,220.7 L367.1,220.7 L366.8,220.8 L366.4,220.8 L366.0,220.8 L365.6,220.9 L365.2,220.9 L364.9,221.0 L364.5,221.0 L364.1,221.1 L363.7,221.1 L363.4,221.2 L363.0,221.2 L362.6,221.3 L362.2,221.3 L361.8,221.4 L361.5,221.4 L361.1,221.4 L360.7,221.5 L360.3,221.6 L360.0,221.6 L359.6,221.7 L359.2,221.7 L358.8,221.8 L358.4,221.8 L358.1,221.9 L357.7,221.9 L357.3,222.0 L356.9,222.0 L356.6,222.1 L356.2,222.2 L355.8,222.2 L355.4,222.3 L355.1,222.3 L354.7,222.4 L354.3,222.5 L353.9,222.5 L353.5,222.6 L353.2,222.6 L352.8,222.7 L352.4,222.8 L352.0,222.8 L351.7,222.9 L351.3,223.0 L350.9,223.0 L350.5,223.1 L350.1,223.2 L349.8,223.3 L349.4,223.3 L349.0,223.4 L348.6,223.5 L348.3,223.5 L347.9,223.6 L347.5,223.7 L347.1,223.8 L346.7,223.9 L346.4,223.9 L346.0,224.0 L345.6,224.1 L345.2,224.2 L344.8,224.3 L344.5,224.3 L344.1,224.4 L343.7,224.5 L343.3,224.6 L343.0,224.7 L342.6,224.8 L342.2,224.9 L341.8,224.9 L341.4,225.0 L341.1,225.1 L340.7,225.2 L340.3,225.3 L339.9,225.4 L339.6,225.5 L339.2,225.6 L338.8,225.7 L338.4,225.8 L338.0,225.9 L337.7,226.0 L337.3,226.1 L336.9,226.2 L336.5,226.3 L336.2,226.4 L335.8,226.5 L335.4,226.6 L335.0,226.7 L334.6,226.8 L334.3,226.9 L333.9,227.0 L333.5,227.2 L333.1,227.3 L332.8,227.4 L332.4,227.5 L332.0,227.6 L331.6,227.7 L331.2,227.8 L330.9,228.0 L330.5,228.1 L330.1,228.2 L329.7,228.3 L329.4,228.5 L329.0,228.6 L328.6,228.7 L328.2,228.8 L327.8,229.0 L327.5,229.1 L327.1,229.2 L326.7,229.4 L326.3,229.5 L326.0,229.6 L325.6,229.8 L325.2,229.9 L324.8,230.0 L324.4,230.2 L324.1,230.3 L323.7,230.5 L323.3,230.6 L322.9,230.8 L322.6,230.9 L322.2,231.0 L321.8,231.2 L321.4,231.3 L321.0,231.5 L320.7,231.6 L320.3,231.8 L319.9,232.0 L319.5,232.1 L319.2,232.3 L318.8,232.4 L318.4,232.6 L318.0,232.7 L317.6,232.9 L317.3,233.1 L316.9,233.2 L316.5,233.4 L316.1,233.6 L315.8,233.7 L315.4,233.9 L315.0,234.1 L314.6,234.3 L314.2,234.4 L313.9,234.6 L313.5,234.8 L313.1,235.0 L312.7,235.2 L312.4,235.3 L312.0,235.5 L311.6,235.7 L311.2,235.9 L310.9,236.1 L310.5,236.3 L310.1,236.5 L309.7,236.7 L309.3,236.8 L309.0,237.0 L308.6,237.2 L308.2,237.4 L307.8,237.6 L307.5,237.8 L307.1,238.0 L306.7,238.2 L306.3,238.5 L305.9,238.7 L305.6,238.9 L305.2,239.1 L304.8,239.3 L304.4,239.5 L304.1,239.7 L303.7,239.9 L303.3,240.2 L302.9,240.4 L302.6,240.6 L302.2,240.8 L301.8,241.1 L301.4,241.3 L301.0,241.5 L300.7,241.7 L300.3,242.0 L299.9,242.2 L299.5,242.4 L299.2,242.7 L298.8,242.9 L298.4,243.2 L298.0,243.4 L297.7,243.6 L297.3,243.9 L296.9,244.1 L296.5,244.4 L296.1,244.6 L295.8,244.9 L295.4,245.1 L295.0,245.4 L294.6,245.7 L294.3,245.9 L293.9,246.2 L293.5,246.4 L293.1,246.7 L292.8,247.0 L292.4,247.2Z" fill="#07529f" stroke="none"/>
<path d="M325.6,249.1 L325.8,249.0 L326.1,248.9 L326.4,248.7 L326.6,248.6 L326.9,248.4 L327.2,248.3 L327.4,248.2 L327.7,248.0 L328.0,247.9 L328.2,247.8 L328.5,247.7 L328.8,247.5 L329.0,247.4 L329.3,247.3 L329.6,247.1 L329.8,247.0 L330.1,246.9 L330.4,246.8 L330.6,246.6 L330.9,246.5 L331.2,246.4 L331.4,246.3 L331.7,246.2 L332.0,246.0 L332.2,245.9 L332.5,245.8 L332.8,245.7 L333.0,245.6 L333.3,245.5 L333.6,245.3 L333.8,245.2 L334.1,245.1 L334.4,245.0 L334.6,244.9 L334.9,244.8 L335.2,244.7 L335.4,244.6 L335.7,244.4 L336.0,244.3 L336.2,244.2 L336.5,244.1 L336.8,244.0 L337.0,243.9 L337.3,243.8 L337.6,243.7 L337.8,243.6 L338.1,243.5 L338.4,243.4 L338.6,243.3 L338.9,243.2 L339.2,243.1 L339.4,243.0 L339.7,242.9 L339.9,242.8 L340.2,242.7 L340.5,242.6 L340.7,242.5 L341.0,242.4 L341.3,242.3 L341.5,242.2 L341.8,242.1 L342.1,242.0 L342.3,241.9 L342.6,241.8 L342.9,241.8 L343.1,241.7 L343.4,241.6 L343.7,241.5 L343.9,241.4 L344.2,241.3 L344.5,241.2 L344.7,241.1 L345.0,241.1 L345.3,241.0 L345.5,240.9 L345.8,240.8 L346.1,240.7 L346.3,240.6 L346.6,240.6 L346.9,240.5 L347.1,240.4 L347.4,240.3 L347.7,240.2 L347.9,240.2 L348.2,240.1 L348.5,240.0 L348.7,239.9 L349.0,239.9 L349.3,239.8 L349.5,239.7 L349.8,239.6 L350.1,239.6 L350.3,239.5 L350.6,239.4 L350.9,239.3 L351.1,239.3 L351.4,239.2 L351.7,239.1 L351.9,239.1 L352.2,239.0 L352.5,238.9 L352.7,238.8 L353.0,238.8 L353.3,238.7 L353.5,238.6 L353.8,238.6 L354.1,238.5 L354.3,238.5 L354.6,238.4 L354.9,238.3 L355.1,238.3 L355.4,238.2 L355.7,238.1 L355.9,238.1 L356.2,238.0 L356.5,238.0 L356.7,237.9 L357.0,237.8 L357.3,237.8 L357.5,237.7 L357.8,237.7 L358.0,237.6 L358.3,237.5 L358.6,237.5 L358.8,237.4 L359.1,237.4 L359.4,237.3 L359.6,237.3 L359.9,237.2 L360.2,237.2 L360.4,237.1 L360.7,237.1 L361.0,237.0 L361.2,236.9 L361.5,236.9 L361.8,236.8 L362.0,236.8 L362.3,236.7 L362.6,236.7 L362.8,236.6 L363.1,236.6 L363.4,236.6 L363.6,236.5 L363.9,236.5 L364.2,236.4 L364.4,236.4 L364.7,236.3 L365.0,236.3 L365.2,236.2 L365.5,236.2 L365.8,236.1 L366.0,236.1 L366.3,236.1 L366.6,236.0 L366.8,236.0 L367.1,235.9 L367.4,235.9 L367.6,235.8 L367.9,235.8 L368.2,235.8 L368.4,235.7 L368.7,235.7 L369.0,235.6 L369.2,235.6 L369.5,235.6 L369.8,235.5 L370.0,235.5 L370.3,235.5 L370.6,235.4 L370.8,235.4 L371.1,235.3 L371.4,235.3 L371.6,235.3 L371.9,235.2 L372.2,235.2 L372.4,235.2 L372.7,235.1 L372.9,235.1 L373.2,235.1 L373.5,235.0 L373.7,235.0 L374.0,235.0 L374.3,234.9 L374.5,234.9 L374.8,234.9 L375.1,234.8 L375.3,234.8 L375.6,234.8 L375.9,234.8 L376.1,234.7 L376.4,234.7 L376.7,234.7 L376.9,234.6 L377.2,234.6 L377.5,234.6 L377.7,234.6 L378.0,234.5 L378.3,234.5 L378.5,234.5 L378.8,234.4 L379.1,234.4 L379.3,234.4 L379.6,234.4 L379.9,234.3 L380.1,234.3 L380.4,234.3 L380.7,234.3 L380.9,234.3 L381.2,234.2 L381.5,234.2 L381.7,234.2 L382.0,234.2 L382.3,234.1 L382.5,234.1 L382.8,234.1 L383.1,234.1 L383.3,234.0 L383.6,234.0 L383.9,234.0 L384.1,234.0 L384.4,234.0 L384.7,233.9 L384.9,233.9 L385.2,233.9 L385.5,233.9 L385.7,233.9 L386.0,233.8 L386.3,233.8 L386.5,233.8 L386.8,233.8 L387.1,233.8 L387.3,233.8 L387.6,233.7 L387.9,233.7 L388.1,233.7 L388.4,233.7 L388.7,233.7 L388.9,233.7 L389.2,233.6 L389.5,233.6 L389.7,233.6 L390.0,233.6 L390.3,233.6 L390.5,233.6 L390.8,233.6 L391.1,233.5 L391.3,233.5 L391.6,233.5 L391.9,233.5 L392.1,233.5 L392.4,233.5 L392.7,233.5 L392.9,233.4 L393.2,233.4 L393.5,233.4 L393.7,233.4 L394.0,233.4 L394.3,233.4 L394.5,233.4 L394.8,233.4 L395.1,233.3 L395.3,233.3 L395.6,233.3 L395.9,233.3 L396.1,233.3 L396.4,233.3 L396.7,233.3 L397.0,233.3 L397.2,233.3 L397.5,233.2 L397.8,233.2 L398.0,233.2 L398.3,233.2 L398.6,233.2 L398.8,233.2 L399.1,233.2 L399.4,233.2 L399.6,233.2 L399.9,233.2 L400.2,233.1 L400.4,233.1 L400.7,233.1 L401.0,233.1 L401.2,233.1 L401.5,233.1 L401.8,233.1 L402.0,233.1 L402.3,233.1 L402.6,233.1 L402.8,233.1 L403.1,233.0 L403.4,233.0 L403.6,233.0 L403.9,233.0 L404.2,233.0 L404.4,233.0 L404.7,233.0 L405.0,233.0 L405.2,233.0 L405.2,229.7 L404.9,229.7 L404.6,229.7 L404.3,229.7 L404.1,229.7 L403.8,229.7 L403.5,229.7 L403.3,229.7 L403.0,229.8 L402.7,229.8 L402.5,229.8 L402.2,229.8 L401.9,229.8 L401.7,229.8 L401.4,229.8 L401.1,229.8 L400.9,229.8 L400.6,229.8 L400.3,229.8 L400.0,229.9 L399.8,229.9 L399.5,229.9 L399.2,229.9 L399.0,229.9 L398.7,229.9 L398.4,229.9 L398.2,229.9 L397.9,229.9 L397.6,229.9 L397.4,230.0 L397.1,230.0 L396.8,230.0 L396.5,230.0 L396.3,230.0 L396.0,230.0 L395.7,230.0 L395.5,230.0 L395.2,230.0 L394.9,230.1 L394.7,230.1 L394.4,230.1 L394.1,230.1 L393.9,230.1 L393.6,230.1 L393.3,230.1 L393.0,230.1 L392.8,230.2 L392.5,230.2 L392.2,230.2 L392.0,230.2 L391.7,230.2 L391.4,230.2 L391.2,230.3 L390.9,230.3 L390.6,230.3 L390.4,230.3 L390.1,230.3 L389.8,230.3 L389.5,230.3 L389.3,230.4 L389.0,230.4 L388.7,230.4 L388.5,230.4 L388.2,230.4 L387.9,230.4 L387.7,230.5 L387.4,230.5 L387.1,230.5 L386.8,230.5 L386.6,230.5 L386.3,230.6 L386.0,230.6 L385.8,230.6 L385.5,230.6 L385.2,230.6 L385.0,230.7 L384.7,230.7 L384.4,230.7 L384.2,230.7 L383.9,230.7 L383.6,230.8 L383.3,230.8 L383.1,230.8 L382.8,230.8 L382.5,230.9 L382.3,230.9 L382.0,230.9 L381.7,230.9 L381.5,231.0 L381.2,231.0 L380.9,231.0 L380.6,231.0 L380.4,231.1 L380.1,231.1 L379.8,231.1 L379.6,231.1 L379.3,231.2 L379.0,231.2 L378.8,231.2 L378.5,231.2 L378.2,231.3 L377.9,231.3 L377.7,231.3 L377.4,231.4 L377.1,231.4 L376.9,231.4 L376.6,231.4 L376.3,231.5 L376.1,231.5 L375.8,231.5 L375.5,231.6 L375.2,231.6 L375.0,231.6 L374.7,231.7 L374.4,231.7 L374.2,231.7 L373.9,231.8 L373.6,231.8 L373.4,231.8 L373.1,231.9 L372.8,231.9 L372.5,232.0 L372.3,232.0 L372.0,232.0 L371.7,232.1 L371.5,232.1 L371.2,232.1 L370.9,232.2 L370.6,232.2 L370.4,232.3 L370.1,232.3 L369.8,232.3 L369.6,232.4 L369.3,232.4 L369.0,232.5 L368.8,232.5 L368.5,232.5 L368.2,232.6 L367.9,232.6 L367.7,232.7 L367.4,232.7 L367.1,232.8 L366.9,232.8 L366.6,232.9 L366.3,232.9 L366.1,232.9 L365.8,233.0 L365.5,233.0 L365.2,233.1 L365.0,233.1 L364.7,233.2 L364.4,233.2 L364.2,233.3 L363.9,233.3 L363.6,233.4 L363.3,233.4 L363.1,233.5 L362.8,233.5 L362.5,233.6 L362.3,233.6 L362.0,233.7 L361.7,233.8 L361.5,233.8 L361.2,233.9 L360.9,233.9 L360.6,234.0 L360.4,234.0 L360.1,234.1 L359.8,234.1 L359.6,234.2 L359.3,234.3 L359.0,234.3 L358.8,234.4 L358.5,234.4 L358.2,234.5 L357.9,234.6 L357.7,234.6 L357.4,234.7 L357.1,234.8 L356.9,234.8 L356.6,234.9 L356.3,234.9 L356.0,235.0 L355.8,235.1 L355.5,235.1 L355.2,235.2 L355.0,235.3 L354.7,235.3 L354.4,235.4 L354.2,235.5 L353.9,235.6 L353.6,235.6 L353.3,235.7 L353.1,235.8 L352.8,235.8 L352.5,235.9 L352.3,236.0 L352.0,236.1 L351.7,236.1 L351.4,236.2 L351.2,236.3 L350.9,236.4 L350.6,236.4 L350.4,236.5 L350.1,236.6 L349.8,236.7 L349.6,236.7 L349.3,236.8 L349.0,236.9 L348.7,237.0 L348.5,237.1 L348.2,237.1 L347.9,237.2 L347.7,237.3 L347.4,237.4 L347.1,237.5 L346.9,237.6 L346.6,237.7 L346.3,237.7 L346.0,237.8 L345.8,237.9 L345.5,238.0 L345.2,238.1 L345.0,238.2 L344.7,238.3 L344.4,238.4 L344.2,238.5 L343.9,238.5 L343.6,238.6 L343.3,238.7 L343.1,238.8 L342.8,238.9 L342.5,239.0 L342.3,239.1 L342.0,239.2 L341.7,239.3 L341.4,239.4 L341.2,239.5 L340.9,239.6 L340.6,239.7 L340.4,239.8 L340.1,239.9 L339.8,240.0 L339.6,240.1 L339.3,240.2 L339.0,240.3 L338.7,240.4 L338.5,240.5 L338.2,240.6 L337.9,240.7 L337.7,240.9 L337.4,241.0 L337.1,241.1 L336.9,241.2 L336.6,241.3 L336.3,241.4 L336.0,241.5 L335.8,241.6 L335.5,241.7 L335.2,241.9 L335.0,242.0 L334.7,242.1 L334.4,242.2 L334.2,242.3 L333.9,242.4 L333.6,242.6 L333.3,242.7 L333.1,242.8 L332.8,242.9 L332.5,243.0 L332.3,243.2 L332.0,243.3 L331.7,243.4 L331.5,243.5 L331.2,243.7 L330.9,243.8 L330.6,243.9 L330.4,244.0 L330.1,244.2 L329.8,244.3 L329.6,244.4 L329.3,244.6 L329.0,244.7 L328.8,244.8 L328.5,244.9 L328.2,245.1 L328.0,245.2 L327.7,245.4 L327.4,245.5 L327.1,245.6 L326.9,245.8 L326.6,245.9 L326.3,246.0 L326.1,246.2 L325.8,246.3 L325.5,246.5 L325.3,246.6 L325.0,246.7 L324.7,246.9 L324.4,247.0Z" fill="#07529f" stroke="none"/>
<path d="M60.5,192.1 L61.6,192.1 L62.8,192.1 L64.0,192.1 L65.2,192.1 L66.3,192.0 L67.5,192.0 L68.7,191.9 L69.9,191.8 L71.0,191.6 L72.2,191.5 L73.4,191.4 L74.5,191.2 L75.7,191.0 L76.9,190.8 L78.0,190.6 L79.2,190.3 L80.4,190.1 L81.5,189.8 L82.7,189.6 L83.9,189.3 L85.0,189.0 L86.2,188.7 L87.4,188.3 L88.5,188.0 L89.7,187.6 L90.8,187.3 L92.0,186.9 L93.2,186.5 L94.3,186.1 L95.5,185.7 L96.6,185.3 L97.8,184.8 L99.0,184.4 L100.1,183.9 L101.3,183.5 L102.4,183.0 L103.6,182.5 L104.8,182.0 L105.9,181.5 L107.1,181.0 L108.2,180.5 L109.4,179.9 L110.5,179.4 L111.7,178.8 L112.9,178.3 L114.0,177.7 L115.2,177.1 L116.3,176.5 L117.5,176.0 L118.6,175.4 L119.8,174.8 L121.0,174.1 L122.1,173.5 L123.3,172.9 L124.4,172.3 L125.6,171.6 L126.7,171.0 L127.9,170.3 L129.0,169.7 L130.2,169.0 L131.4,168.4 L132.5,167.7 L133.7,167.0 L134.8,166.4 L136.0,165.7 L137.1,165.0 L138.3,164.3 L139.4,163.6 L140.6,162.9 L141.7,162.2 L142.9,161.5 L144.1,160.8 L145.2,160.1 L146.4,159.4 L147.5,158.7 L148.7,157.9 L149.8,157.2 L151.0,156.5 L152.1,155.8 L153.3,155.1 L154.4,154.3 L155.6,153.6 L156.7,152.9 L157.9,152.2 L159.0,151.4 L160.2,150.7 L161.4,150.0 L162.5,149.3 L163.7,148.5 L164.8,147.8 L166.0,147.1 L167.1,146.3 L168.3,145.6 L169.4,144.9 L170.6,144.2 L171.7,143.4 L172.9,142.7 L174.0,142.0 L175.2,141.2 L176.3,140.5 L177.5,139.8 L178.6,139.1 L179.8,138.4 L180.9,137.6 L182.1,136.9 L183.3,136.2 L184.4,135.5 L185.6,134.8 L186.7,134.1 L187.8,133.4 L189.0,132.8 L190.1,132.1 L191.3,131.5 L192.4,130.9 L193.6,130.3 L194.7,129.8 L195.9,129.2 L197.0,128.7 L198.1,128.2 L199.3,127.8 L200.4,127.3 L201.6,126.9 L202.7,126.5 L203.8,126.1 L205.0,125.7 L206.1,125.3 L207.3,124.9 L208.4,124.5 L209.6,124.2 L210.7,123.8 L211.9,123.4 L213.0,123.0 L214.2,122.7 L215.3,122.3 L216.5,121.9 L217.7,121.6 L218.8,121.2 L220.0,120.8 L221.1,120.5 L222.3,120.1 L223.4,119.7 L224.6,119.4 L225.7,119.0 L226.9,118.7 L228.0,118.3 L229.2,117.9 L230.3,117.6 L231.5,117.2 L232.6,116.9 L233.8,116.5 L234.9,116.2 L236.1,115.8 L237.2,115.5 L238.4,115.2 L239.5,114.8 L240.7,114.5 L241.8,114.1 L243.0,113.8 L244.1,113.5 L245.3,113.1 L246.4,112.8 L247.6,112.5 L248.7,112.2 L249.9,111.8 L251.0,111.5 L252.2,111.2 L253.4,110.9 L254.5,110.6 L255.7,110.2 L256.8,109.9 L258.0,109.6 L259.1,109.3 L260.3,109.0 L261.4,108.7 L262.6,108.4 L263.7,108.1 L264.9,107.8 L266.0,107.5 L267.2,107.3 L268.3,107.0 L269.5,106.7 L270.6,106.4 L271.8,106.1 L272.9,105.9 L274.1,105.6 L275.2,105.3 L276.4,105.1 L277.5,104.8 L278.7,104.5 L279.8,104.3 L281.0,104.0 L282.1,103.8 L283.3,103.5 L284.4,103.3 L285.6,103.0 L286.7,102.8 L287.9,102.6 L289.0,102.3 L290.2,102.1 L291.3,101.9 L292.5,101.7 L293.6,101.5 L294.8,101.2 L295.9,101.0 L297.1,100.8 L298.2,100.6 L299.4,100.4 L300.5,100.2 L301.7,100.0 L302.8,99.8 L304.0,99.7 L305.1,99.5 L306.3,99.3 L307.4,99.1 L308.6,99.0 L309.7,98.8 L310.9,98.6 L312.0,98.5 L313.2,98.3 L314.3,98.1 L315.5,98.0 L316.6,97.8 L317.8,97.7 L318.9,97.5 L320.1,97.4 L321.2,97.3 L322.4,97.1 L323.5,97.0 L324.6,96.9 L325.8,96.7 L326.9,96.6 L328.1,96.5 L329.2,96.4 L330.4,96.3 L331.5,96.1 L332.7,96.0 L333.8,95.9 L335.0,95.8 L336.2,95.7 L337.3,95.6 L338.5,95.5 L339.6,95.4 L340.8,95.3 L341.9,95.2 L343.1,95.1 L344.2,95.0 L345.4,95.0 L346.5,94.9 L347.7,94.8 L348.8,94.7 L350.0,94.6 L351.1,94.6 L352.3,94.5 L353.4,94.4 L354.6,94.3 L355.7,94.3 L356.9,94.2 L358.0,94.1 L359.2,94.1 L360.3,94.0 L361.5,93.9 L362.6,93.9 L363.8,93.8 L364.9,93.7 L366.1,93.7 L367.2,93.6 L368.4,93.6 L369.5,93.5 L370.7,93.5 L371.8,93.4 L373.0,93.3 L374.1,93.3 L375.3,93.2 L376.4,93.2 L377.6,93.1 L378.7,93.1 L379.9,93.1 L381.0,93.0 L382.2,93.0 L383.3,92.9 L384.5,92.9 L385.7,92.8 L386.8,92.8 L388.0,92.7 L389.1,92.7 L390.3,92.6 L391.4,92.6 L392.6,92.6 L393.7,92.5 L394.9,92.5 L396.0,92.4 L397.2,92.4 L398.3,92.4 L399.5,92.3 L400.6,92.3 L401.8,92.2 L402.9,92.2 L404.1,92.1 L405.3,92.1 L405.1,89.4 L404.0,89.4 L402.8,89.5 L401.7,89.5 L400.5,89.6 L399.4,89.6 L398.2,89.6 L397.1,89.7 L395.9,89.7 L394.8,89.8 L393.6,89.8 L392.5,89.9 L391.3,89.9 L390.2,89.9 L389.0,90.0 L387.9,90.0 L386.7,90.1 L385.5,90.1 L384.4,90.2 L383.2,90.2 L382.1,90.2 L380.9,90.3 L379.8,90.3 L378.6,90.4 L377.5,90.4 L376.3,90.5 L375.2,90.5 L374.0,90.6 L372.9,90.6 L371.7,90.7 L370.6,90.7 L369.4,90.8 L368.2,90.9 L367.1,90.9 L365.9,91.0 L364.8,91.0 L363.6,91.1 L362.5,91.2 L361.3,91.2 L360.2,91.3 L359.0,91.4 L357.9,91.4 L356.7,91.5 L355.5,91.6 L354.4,91.6 L353.2,91.7 L352.1,91.8 L350.9,91.9 L349.8,91.9 L348.6,92.0 L347.5,92.1 L346.3,92.2 L345.2,92.3 L344.0,92.4 L342.8,92.5 L341.7,92.5 L340.5,92.6 L339.4,92.7 L338.2,92.8 L337.1,92.9 L335.9,93.0 L334.8,93.2 L333.6,93.3 L332.4,93.4 L331.3,93.5 L330.1,93.6 L329.0,93.7 L327.8,93.8 L326.7,94.0 L325.5,94.1 L324.4,94.2 L323.2,94.4 L322.0,94.5 L320.9,94.6 L319.7,94.8 L318.6,94.9 L317.4,95.1 L316.3,95.2 L315.1,95.4 L313.9,95.5 L312.8,95.7 L311.6,95.8 L310.5,96.0 L309.3,96.2 L308.2,96.4 L307.0,96.5 L305.9,96.7 L304.7,96.9 L303.5,97.1 L302.4,97.3 L301.2,97.5 L300.1,97.7 L298.9,97.9 L297.8,98.1 L296.6,98.3 L295.4,98.5 L294.3,98.7 L293.1,98.9 L292.0,99.1 L290.8,99.4 L289.7,99.6 L288.5,99.8 L287.4,100.1 L286.2,100.3 L285.0,100.6 L283.9,100.8 L282.7,101.0 L281.6,101.3 L280.4,101.6 L279.3,101.8 L278.1,102.1 L277.0,102.3 L275.8,102.6 L274.6,102.9 L273.5,103.1 L272.3,103.4 L271.2,103.7 L270.0,104.0 L268.9,104.3 L267.7,104.6 L266.6,104.8 L265.4,105.1 L264.2,105.4 L263.1,105.7 L261.9,106.0 L260.8,106.3 L259.6,106.6 L258.5,106.9 L257.3,107.2 L256.2,107.6 L255.0,107.9 L253.9,108.2 L252.7,108.5 L251.5,108.8 L250.4,109.1 L249.2,109.5 L248.1,109.8 L246.9,110.1 L245.8,110.5 L244.6,110.8 L243.5,111.1 L242.3,111.5 L241.2,111.8 L240.0,112.1 L238.8,112.5 L237.7,112.8 L236.5,113.2 L235.4,113.5 L234.2,113.9 L233.1,114.2 L231.9,114.6 L230.8,114.9 L229.6,115.3 L228.5,115.6 L227.3,116.0 L226.2,116.4 L225.0,116.7 L223.8,117.1 L222.7,117.4 L221.5,117.8 L220.4,118.2 L219.2,118.5 L218.1,118.9 L216.9,119.3 L215.8,119.6 L214.6,120.0 L213.5,120.4 L212.3,120.8 L211.2,121.1 L210.0,121.5 L208.8,121.9 L207.7,122.3 L206.5,122.7 L205.4,123.0 L204.2,123.4 L203.1,123.9 L201.9,124.3 L200.7,124.7 L199.6,125.2 L198.4,125.7 L197.2,126.2 L196.1,126.7 L194.9,127.2 L193.7,127.8 L192.6,128.4 L191.4,129.0 L190.3,129.6 L189.1,130.3 L187.9,130.9 L186.8,131.6 L185.6,132.3 L184.5,133.0 L183.3,133.7 L182.2,134.4 L181.0,135.1 L179.8,135.9 L178.7,136.6 L177.5,137.3 L176.4,138.0 L175.2,138.8 L174.1,139.5 L172.9,140.2 L171.8,140.9 L170.6,141.7 L169.5,142.4 L168.3,143.1 L167.2,143.9 L166.0,144.6 L164.9,145.3 L163.7,146.0 L162.5,146.8 L161.4,147.5 L160.2,148.2 L159.1,149.0 L157.9,149.7 L156.8,150.4 L155.6,151.1 L154.5,151.9 L153.3,152.6 L152.2,153.3 L151.0,154.0 L149.9,154.7 L148.7,155.5 L147.6,156.2 L146.4,156.9 L145.3,157.6 L144.1,158.3 L143.0,159.0 L141.8,159.7 L140.7,160.4 L139.5,161.1 L138.4,161.8 L137.2,162.5 L136.0,163.2 L134.9,163.9 L133.7,164.5 L132.6,165.2 L131.4,165.9 L130.3,166.5 L129.1,167.2 L128.0,167.8 L126.8,168.5 L125.7,169.1 L124.5,169.8 L123.4,170.4 L122.2,171.0 L121.1,171.6 L119.9,172.2 L118.8,172.8 L117.6,173.4 L116.5,174.0 L115.3,174.6 L114.2,175.2 L113.0,175.7 L111.9,176.3 L110.7,176.8 L109.6,177.4 L108.4,177.9 L107.3,178.4 L106.2,178.9 L105.0,179.4 L103.9,179.9 L102.7,180.4 L101.6,180.8 L100.4,181.3 L99.3,181.7 L98.1,182.2 L97.0,182.6 L95.8,183.0 L94.7,183.4 L93.5,183.8 L92.4,184.2 L91.2,184.5 L90.1,184.9 L89.0,185.2 L87.8,185.5 L86.7,185.8 L85.5,186.1 L84.4,186.4 L83.2,186.7 L82.1,186.9 L81.0,187.2 L79.8,187.4 L78.7,187.6 L77.5,187.8 L76.4,188.0 L75.3,188.2 L74.1,188.3 L73.0,188.5 L71.9,188.6 L70.7,188.7 L69.6,188.8 L68.5,188.9 L67.3,189.0 L66.2,189.0 L65.1,189.0 L63.9,189.1 L62.8,189.1 L61.7,189.1 L60.5,189.0Z" fill="#727272" stroke="none"/>
<path d="M60.5,169.1 L61.6,169.2 L62.8,169.2 L64.0,169.1 L65.2,169.1 L66.4,169.0 L67.5,169.0 L68.7,168.9 L69.9,168.8 L71.1,168.7 L72.2,168.5 L73.4,168.4 L74.6,168.2 L75.7,168.0 L76.9,167.8 L78.1,167.6 L79.3,167.4 L80.4,167.2 L81.6,166.9 L82.8,166.7 L83.9,166.4 L85.1,166.1 L86.3,165.8 L87.4,165.5 L88.6,165.2 L89.8,164.8 L90.9,164.5 L92.1,164.2 L93.2,163.8 L94.4,163.4 L95.6,163.0 L96.7,162.6 L97.9,162.2 L99.0,161.8 L100.2,161.4 L101.4,161.0 L102.5,160.5 L103.7,160.1 L104.8,159.6 L106.0,159.1 L107.2,158.6 L108.3,158.2 L109.5,157.7 L110.6,157.2 L111.8,156.7 L113.0,156.1 L114.1,155.6 L115.3,155.1 L116.4,154.5 L117.6,154.0 L118.7,153.4 L119.9,152.9 L121.1,152.3 L122.2,151.7 L123.4,151.2 L124.5,150.6 L125.7,150.0 L126.8,149.4 L128.0,148.8 L129.1,148.2 L130.3,147.6 L131.5,146.9 L132.6,146.3 L133.8,145.7 L134.9,145.0 L136.1,144.4 L137.2,143.8 L138.4,143.1 L139.5,142.5 L140.7,141.8 L141.9,141.2 L143.0,140.5 L144.2,139.8 L145.3,139.2 L146.5,138.5 L147.6,137.8 L148.8,137.2 L149.9,136.5 L151.1,135.8 L152.2,135.1 L153.4,134.5 L154.6,133.8 L155.7,133.1 L156.9,132.4 L158.0,131.7 L159.2,131.1 L160.3,130.4 L161.5,129.7 L162.6,129.0 L163.8,128.3 L164.9,127.7 L166.1,127.0 L167.2,126.3 L168.4,125.7 L169.5,125.0 L170.7,124.3 L171.8,123.7 L173.0,123.0 L174.1,122.4 L175.3,121.7 L176.4,121.1 L177.6,120.5 L178.7,119.8 L179.9,119.2 L181.0,118.6 L182.2,118.0 L183.3,117.4 L184.5,116.8 L185.6,116.3 L186.8,115.7 L187.9,115.2 L189.0,114.7 L190.2,114.2 L191.3,113.7 L192.5,113.2 L193.6,112.8 L194.7,112.3 L195.9,111.9 L197.0,111.6 L198.2,111.2 L199.3,110.8 L200.4,110.5 L201.6,110.2 L202.7,109.8 L203.9,109.5 L205.0,109.2 L206.2,108.9 L207.3,108.6 L208.5,108.3 L209.6,108.0 L210.8,107.7 L211.9,107.3 L213.1,107.0 L214.2,106.7 L215.4,106.4 L216.6,106.0 L217.7,105.7 L218.9,105.4 L220.0,105.0 L221.2,104.7 L222.3,104.4 L223.5,104.0 L224.6,103.7 L225.8,103.3 L226.9,103.0 L228.1,102.7 L229.2,102.3 L230.4,102.0 L231.6,101.6 L232.7,101.3 L233.9,101.0 L235.0,100.6 L236.2,100.3 L237.3,100.0 L238.5,99.6 L239.6,99.3 L240.8,99.0 L241.9,98.6 L243.1,98.3 L244.2,98.0 L245.4,97.7 L246.5,97.4 L247.7,97.1 L248.8,96.7 L250.0,96.4 L251.1,96.1 L252.3,95.8 L253.4,95.6 L254.6,95.3 L255.7,95.0 L256.9,94.7 L258.0,94.4 L259.1,94.2 L260.3,93.9 L261.4,93.6 L262.6,93.4 L263.7,93.1 L264.9,92.9 L266.0,92.6 L267.2,92.4 L268.3,92.2 L269.5,91.9 L270.6,91.7 L271.8,91.5 L272.9,91.3 L274.1,91.0 L275.2,90.8 L276.4,90.6 L277.5,90.4 L278.7,90.2 L279.8,90.0 L281.0,89.8 L282.1,89.6 L283.3,89.4 L284.4,89.3 L285.6,89.1 L286.7,88.9 L287.9,88.7 L289.0,88.5 L290.2,88.4 L291.3,88.2 L292.5,88.0 L293.6,87.9 L294.8,87.7 L295.9,87.6 L297.1,87.4 L298.2,87.2 L299.4,87.1 L300.5,87.0 L301.7,86.8 L302.8,86.7 L304.0,86.5 L305.1,86.4 L306.3,86.2 L307.4,86.1 L308.6,86.0 L309.7,85.9 L310.9,85.7 L312.0,85.6 L313.2,85.5 L314.3,85.4 L315.5,85.2 L316.6,85.1 L317.8,85.0 L318.9,84.9 L320.1,84.8 L321.2,84.7 L322.4,84.6 L323.5,84.5 L324.7,84.4 L325.8,84.3 L327.0,84.2 L328.1,84.1 L329.3,84.0 L330.4,83.9 L331.6,83.8 L332.7,83.7 L333.9,83.6 L335.0,83.5 L336.2,83.4 L337.3,83.3 L338.5,83.3 L339.6,83.2 L340.8,83.1 L341.9,83.0 L343.1,83.0 L344.2,82.9 L345.4,82.8 L346.5,82.7 L347.7,82.7 L348.8,82.6 L350.0,82.5 L351.1,82.5 L352.3,82.4 L353.4,82.3 L354.6,82.3 L355.7,82.2 L356.9,82.2 L358.0,82.1 L359.2,82.1 L360.3,82.0 L361.5,82.0 L362.6,81.9 L363.8,81.9 L364.9,81.8 L366.1,81.8 L367.2,81.7 L368.4,81.7 L369.5,81.6 L370.7,81.6 L371.8,81.5 L373.0,81.5 L374.1,81.5 L375.3,81.4 L376.4,81.4 L377.6,81.3 L378.7,81.3 L379.9,81.3 L381.0,81.2 L382.2,81.2 L383.3,81.2 L384.5,81.2 L385.6,81.1 L386.8,81.1 L387.9,81.1 L389.1,81.0 L390.3,81.0 L391.4,81.0 L392.6,81.0 L393.7,80.9 L394.9,80.9 L396.0,80.9 L397.2,80.9 L398.3,80.9 L399.5,80.8 L400.6,80.8 L401.8,80.8 L402.9,80.8 L404.1,80.8 L405.2,80.7 L405.2,77.3 L404.0,77.4 L402.9,77.4 L401.7,77.4 L400.6,77.4 L399.4,77.4 L398.3,77.5 L397.1,77.5 L395.9,77.5 L394.8,77.5 L393.6,77.5 L392.5,77.6 L391.3,77.6 L390.2,77.6 L389.0,77.6 L387.9,77.7 L386.7,77.7 L385.6,77.7 L384.4,77.8 L383.3,77.8 L382.1,77.8 L380.9,77.9 L379.8,77.9 L378.6,77.9 L377.5,78.0 L376.3,78.0 L375.2,78.0 L374.0,78.1 L372.9,78.1 L371.7,78.1 L370.6,78.2 L369.4,78.2 L368.2,78.3 L367.1,78.3 L365.9,78.4 L364.8,78.4 L363.6,78.5 L362.5,78.5 L361.3,78.6 L360.2,78.6 L359.0,78.7 L357.9,78.7 L356.7,78.8 L355.5,78.8 L354.4,78.9 L353.2,79.0 L352.1,79.0 L350.9,79.1 L349.8,79.2 L348.6,79.2 L347.5,79.3 L346.3,79.4 L345.1,79.4 L344.0,79.5 L342.8,79.6 L341.7,79.7 L340.5,79.7 L339.4,79.8 L338.2,79.9 L337.1,80.0 L335.9,80.1 L334.8,80.2 L333.6,80.2 L332.4,80.3 L331.3,80.4 L330.1,80.5 L329.0,80.6 L327.8,80.7 L326.7,80.8 L325.5,80.9 L324.4,81.0 L323.2,81.1 L322.0,81.2 L320.9,81.3 L319.7,81.4 L318.6,81.6 L317.4,81.7 L316.3,81.8 L315.1,81.9 L314.0,82.0 L312.8,82.2 L311.6,82.3 L310.5,82.4 L309.3,82.5 L308.2,82.7 L307.0,82.8 L305.9,82.9 L304.7,83.1 L303.5,83.2 L302.4,83.4 L301.2,83.5 L300.1,83.7 L298.9,83.8 L297.8,84.0 L296.6,84.1 L295.5,84.3 L294.3,84.5 L293.1,84.6 L292.0,84.8 L290.8,85.0 L289.7,85.1 L288.5,85.3 L287.4,85.5 L286.2,85.7 L285.0,85.8 L283.9,86.0 L282.7,86.2 L281.6,86.4 L280.4,86.6 L279.3,86.8 L278.1,87.0 L276.9,87.2 L275.8,87.4 L274.6,87.7 L273.5,87.9 L272.3,88.1 L271.2,88.3 L270.0,88.6 L268.8,88.8 L267.7,89.0 L266.5,89.3 L265.4,89.5 L264.2,89.8 L263.1,90.0 L261.9,90.3 L260.7,90.6 L259.6,90.8 L258.4,91.1 L257.3,91.4 L256.1,91.7 L255.0,91.9 L253.8,92.2 L252.6,92.5 L251.5,92.8 L250.3,93.1 L249.2,93.5 L248.0,93.8 L246.9,94.1 L245.7,94.4 L244.5,94.7 L243.4,95.0 L242.2,95.4 L241.1,95.7 L239.9,96.0 L238.8,96.4 L237.6,96.7 L236.5,97.0 L235.3,97.4 L234.2,97.7 L233.0,98.1 L231.8,98.4 L230.7,98.7 L229.5,99.1 L228.4,99.4 L227.2,99.8 L226.1,100.1 L224.9,100.4 L223.8,100.8 L222.6,101.1 L221.5,101.4 L220.3,101.8 L219.2,102.1 L218.0,102.4 L216.9,102.8 L215.7,103.1 L214.6,103.4 L213.4,103.7 L212.3,104.1 L211.1,104.4 L210.0,104.7 L208.8,105.0 L207.7,105.3 L206.5,105.6 L205.4,105.9 L204.2,106.2 L203.0,106.6 L201.9,106.9 L200.7,107.2 L199.6,107.6 L198.4,108.0 L197.2,108.4 L196.1,108.8 L194.9,109.2 L193.7,109.6 L192.6,110.1 L191.4,110.6 L190.2,111.1 L189.0,111.6 L187.9,112.1 L186.7,112.7 L185.6,113.2 L184.4,113.8 L183.2,114.4 L182.1,115.0 L180.9,115.6 L179.8,116.2 L178.6,116.9 L177.4,117.5 L176.3,118.1 L175.1,118.8 L174.0,119.4 L172.8,120.1 L171.7,120.7 L170.5,121.4 L169.4,122.0 L168.2,122.7 L167.0,123.4 L165.9,124.0 L164.7,124.7 L163.6,125.4 L162.4,126.1 L161.3,126.7 L160.1,127.4 L159.0,128.1 L157.8,128.8 L156.7,129.5 L155.5,130.1 L154.4,130.8 L153.2,131.5 L152.1,132.2 L150.9,132.9 L149.8,133.5 L148.6,134.2 L147.4,134.9 L146.3,135.6 L145.1,136.2 L144.0,136.9 L142.8,137.5 L141.7,138.2 L140.5,138.9 L139.4,139.5 L138.2,140.1 L137.1,140.8 L135.9,141.4 L134.8,142.1 L133.6,142.7 L132.5,143.3 L131.3,143.9 L130.2,144.6 L129.0,145.2 L127.9,145.8 L126.7,146.4 L125.6,147.0 L124.4,147.5 L123.3,148.1 L122.1,148.7 L121.0,149.3 L119.8,149.8 L118.7,150.4 L117.5,150.9 L116.4,151.5 L115.2,152.0 L114.1,152.5 L113.0,153.0 L111.8,153.6 L110.7,154.1 L109.5,154.5 L108.4,155.0 L107.2,155.5 L106.1,156.0 L104.9,156.4 L103.8,156.9 L102.6,157.3 L101.5,157.7 L100.3,158.2 L99.2,158.6 L98.0,159.0 L96.9,159.4 L95.8,159.7 L94.6,160.1 L93.5,160.4 L92.3,160.8 L91.2,161.1 L90.0,161.4 L88.9,161.8 L87.7,162.0 L86.6,162.3 L85.5,162.6 L84.3,162.9 L83.2,163.1 L82.0,163.3 L80.9,163.6 L79.8,163.8 L78.6,164.0 L77.5,164.2 L76.4,164.3 L75.2,164.5 L74.1,164.6 L73.0,164.8 L71.8,164.9 L70.7,165.0 L69.6,165.1 L68.4,165.2 L67.3,165.2 L66.2,165.3 L65.0,165.3 L63.9,165.4 L62.8,165.4 L61.7,165.4 L60.5,165.3Z" fill="#04ec04" stroke="none"/>
<path d="M60.4,145.7 L61.6,145.8 L62.8,145.8 L64.0,145.8 L65.1,145.8 L66.3,145.8 L67.5,145.7 L68.7,145.7 L69.8,145.6 L71.0,145.5 L72.2,145.4 L73.4,145.2 L74.5,145.1 L75.7,144.9 L76.9,144.8 L78.1,144.6 L79.2,144.4 L80.4,144.1 L81.6,143.9 L82.7,143.7 L83.9,143.4 L85.1,143.1 L86.2,142.9 L87.4,142.6 L88.6,142.3 L89.7,141.9 L90.9,141.6 L92.1,141.3 L93.2,140.9 L94.4,140.6 L95.5,140.2 L96.7,139.8 L97.9,139.4 L99.0,139.0 L100.2,138.6 L101.4,138.2 L102.5,137.8 L103.7,137.4 L104.8,136.9 L106.0,136.5 L107.1,136.0 L108.3,135.5 L109.5,135.1 L110.6,134.6 L111.8,134.1 L112.9,133.6 L114.1,133.1 L115.3,132.6 L116.4,132.1 L117.6,131.5 L118.7,131.0 L119.9,130.5 L121.0,129.9 L122.2,129.4 L123.3,128.9 L124.5,128.3 L125.7,127.7 L126.8,127.2 L128.0,126.6 L129.1,126.0 L130.3,125.5 L131.4,124.9 L132.6,124.3 L133.7,123.7 L134.9,123.1 L136.1,122.6 L137.2,122.0 L138.4,121.4 L139.5,120.8 L140.7,120.2 L141.8,119.6 L143.0,119.0 L144.1,118.4 L145.3,117.8 L146.4,117.2 L147.6,116.6 L148.7,115.9 L149.9,115.3 L151.1,114.7 L152.2,114.1 L153.4,113.5 L154.5,112.9 L155.7,112.3 L156.8,111.7 L158.0,111.1 L159.1,110.5 L160.3,109.9 L161.4,109.3 L162.6,108.7 L163.7,108.1 L164.9,107.6 L166.0,107.0 L167.2,106.4 L168.3,105.8 L169.5,105.3 L170.6,104.7 L171.8,104.1 L172.9,103.6 L174.1,103.0 L175.2,102.5 L176.4,101.9 L177.5,101.4 L178.7,100.8 L179.8,100.3 L181.0,99.8 L182.1,99.3 L183.3,98.8 L184.4,98.3 L185.6,97.8 L186.7,97.3 L187.9,96.8 L189.0,96.4 L190.2,95.9 L191.3,95.5 L192.4,95.0 L193.6,94.6 L194.7,94.2 L195.9,93.8 L197.0,93.4 L198.1,93.1 L199.3,92.8 L200.4,92.5 L201.5,92.2 L202.6,92.1 L203.7,91.9 L204.8,91.8 L205.9,91.6 L207.1,91.5 L208.2,91.4 L209.4,91.3 L210.6,91.1 L211.7,91.0 L212.9,90.8 L214.1,90.6 L215.2,90.4 L216.4,90.2 L217.6,90.0 L218.7,89.8 L219.9,89.6 L221.1,89.3 L222.2,89.1 L223.4,88.8 L224.6,88.5 L225.7,88.3 L226.9,88.0 L228.0,87.7 L229.2,87.4 L230.3,87.2 L231.5,86.9 L232.7,86.6 L233.8,86.3 L235.0,86.0 L236.1,85.7 L237.3,85.4 L238.4,85.1 L239.6,84.8 L240.7,84.5 L241.9,84.3 L243.0,84.0 L244.2,83.7 L245.3,83.4 L246.5,83.1 L247.6,82.9 L248.8,82.6 L249.9,82.3 L251.1,82.0 L252.2,81.8 L253.4,81.5 L254.5,81.3 L255.7,81.0 L256.8,80.7 L258.0,80.5 L259.1,80.2 L260.3,80.0 L261.4,79.7 L262.6,79.5 L263.7,79.3 L264.9,79.0 L266.0,78.8 L267.2,78.6 L268.3,78.3 L269.5,78.1 L270.6,77.9 L271.8,77.7 L272.9,77.5 L274.1,77.3 L275.2,77.0 L276.4,76.8 L277.5,76.6 L278.7,76.4 L279.8,76.3 L281.0,76.1 L282.1,75.9 L283.3,75.7 L284.4,75.5 L285.6,75.3 L286.7,75.2 L287.8,75.0 L289.0,74.8 L290.1,74.7 L291.3,74.5 L292.4,74.4 L293.6,74.2 L294.7,74.1 L295.9,73.9 L297.0,73.8 L298.2,73.6 L299.3,73.5 L300.5,73.4 L301.6,73.3 L302.8,73.1 L303.9,73.0 L305.1,72.9 L306.2,72.8 L307.4,72.7 L308.5,72.6 L309.7,72.4 L310.8,72.3 L312.0,72.2 L313.1,72.1 L314.3,72.0 L315.4,72.0 L316.6,71.9 L317.7,71.8 L318.9,71.7 L320.0,71.6 L321.2,71.5 L322.3,71.4 L323.5,71.4 L324.6,71.3 L325.8,71.2 L326.9,71.2 L328.1,71.1 L329.2,71.0 L330.4,71.0 L331.5,70.9 L332.7,70.8 L333.8,70.8 L335.0,70.7 L336.1,70.7 L337.3,70.6 L338.4,70.6 L339.6,70.5 L340.7,70.5 L341.9,70.4 L343.0,70.4 L344.2,70.3 L345.3,70.3 L346.5,70.3 L347.6,70.2 L348.8,70.2 L349.9,70.1 L351.1,70.1 L352.2,70.1 L353.4,70.0 L354.5,70.0 L355.7,70.0 L356.8,70.0 L358.0,69.9 L359.1,69.9 L360.3,69.9 L361.4,69.8 L362.6,69.8 L363.7,69.8 L364.9,69.8 L366.0,69.7 L367.2,69.7 L368.3,69.7 L369.5,69.7 L370.6,69.7 L371.8,69.6 L372.9,69.6 L374.1,69.6 L375.3,69.6 L376.4,69.6 L377.6,69.5 L378.7,69.5 L379.9,69.5 L381.0,69.5 L382.2,69.5 L383.3,69.5 L384.5,69.4 L385.6,69.4 L386.8,69.4 L387.9,69.4 L389.1,69.4 L390.2,69.3 L391.4,69.3 L392.5,69.3 L393.7,69.3 L394.9,69.3 L396.0,69.2 L397.2,69.2 L398.3,69.2 L399.5,69.2 L400.6,69.1 L401.8,69.1 L402.9,69.1 L404.1,69.1 L405.2,69.0 L405.2,65.6 L404.0,65.7 L402.9,65.7 L401.7,65.7 L400.6,65.7 L399.4,65.8 L398.2,65.8 L397.1,65.8 L395.9,65.8 L394.8,65.9 L393.6,65.9 L392.5,65.9 L391.3,65.9 L390.2,65.9 L389.0,66.0 L387.9,66.0 L386.7,66.0 L385.6,66.0 L384.4,66.0 L383.3,66.1 L382.1,66.1 L381.0,66.1 L379.8,66.1 L378.7,66.1 L377.5,66.1 L376.4,66.2 L375.2,66.2 L374.0,66.2 L372.9,66.2 L371.7,66.2 L370.6,66.3 L369.4,66.3 L368.3,66.3 L367.1,66.3 L366.0,66.4 L364.8,66.4 L363.7,66.4 L362.5,66.4 L361.4,66.4 L360.2,66.5 L359.0,66.5 L357.9,66.5 L356.7,66.6 L355.6,66.6 L354.4,66.6 L353.3,66.6 L352.1,66.7 L351.0,66.7 L349.8,66.8 L348.7,66.8 L347.5,66.8 L346.3,66.9 L345.2,66.9 L344.0,66.9 L342.9,67.0 L341.7,67.0 L340.6,67.1 L339.4,67.1 L338.3,67.2 L337.1,67.2 L336.0,67.3 L334.8,67.3 L333.6,67.4 L332.5,67.5 L331.3,67.5 L330.2,67.6 L329.0,67.6 L327.9,67.7 L326.7,67.8 L325.5,67.9 L324.4,67.9 L323.2,68.0 L322.1,68.1 L320.9,68.2 L319.8,68.2 L318.6,68.3 L317.5,68.4 L316.3,68.5 L315.1,68.6 L314.0,68.7 L312.8,68.8 L311.7,68.9 L310.5,69.0 L309.4,69.1 L308.2,69.2 L307.0,69.3 L305.9,69.5 L304.7,69.6 L303.6,69.7 L302.4,69.8 L301.3,69.9 L300.1,70.1 L298.9,70.2 L297.8,70.4 L296.6,70.5 L295.5,70.6 L294.3,70.8 L293.2,70.9 L292.0,71.1 L290.8,71.3 L289.7,71.4 L288.5,71.6 L287.4,71.8 L286.2,71.9 L285.1,72.1 L283.9,72.3 L282.7,72.5 L281.6,72.7 L280.4,72.9 L279.3,73.0 L278.1,73.2 L277.0,73.5 L275.8,73.7 L274.6,73.9 L273.5,74.1 L272.3,74.3 L271.2,74.5 L270.0,74.7 L268.9,75.0 L267.7,75.2 L266.5,75.4 L265.4,75.7 L264.2,75.9 L263.1,76.1 L261.9,76.4 L260.8,76.6 L259.6,76.9 L258.5,77.1 L257.3,77.4 L256.1,77.7 L255.0,77.9 L253.8,78.2 L252.7,78.4 L251.5,78.7 L250.4,79.0 L249.2,79.3 L248.1,79.5 L246.9,79.8 L245.7,80.1 L244.6,80.4 L243.4,80.7 L242.3,80.9 L241.1,81.2 L240.0,81.5 L238.8,81.8 L237.7,82.1 L236.5,82.4 L235.3,82.7 L234.2,83.0 L233.0,83.3 L231.9,83.6 L230.7,83.8 L229.6,84.1 L228.4,84.4 L227.3,84.7 L226.1,84.9 L225.0,85.2 L223.9,85.5 L222.7,85.7 L221.6,86.0 L220.4,86.2 L219.3,86.4 L218.1,86.6 L217.0,86.8 L215.9,87.0 L214.7,87.2 L213.6,87.4 L212.4,87.5 L211.3,87.7 L210.2,87.8 L209.0,88.0 L207.9,88.1 L206.7,88.2 L205.6,88.4 L204.4,88.5 L203.2,88.7 L202.0,88.9 L200.8,89.2 L199.6,89.4 L198.4,89.8 L197.2,90.2 L196.1,90.6 L194.9,91.0 L193.7,91.4 L192.6,91.9 L191.4,92.3 L190.2,92.8 L189.1,93.3 L187.9,93.7 L186.8,94.2 L185.6,94.7 L184.5,95.2 L183.3,95.7 L182.1,96.2 L181.0,96.7 L179.8,97.2 L178.7,97.8 L177.5,98.3 L176.3,98.9 L175.2,99.4 L174.0,100.0 L172.9,100.5 L171.7,101.1 L170.6,101.6 L169.4,102.2 L168.3,102.8 L167.1,103.4 L165.9,104.0 L164.8,104.5 L163.6,105.1 L162.5,105.7 L161.3,106.3 L160.2,106.9 L159.0,107.5 L157.9,108.1 L156.7,108.7 L155.6,109.3 L154.4,109.9 L153.3,110.5 L152.1,111.1 L150.9,111.7 L149.8,112.3 L148.6,112.9 L147.5,113.5 L146.3,114.2 L145.2,114.8 L144.0,115.4 L142.9,116.0 L141.7,116.6 L140.6,117.2 L139.4,117.8 L138.3,118.4 L137.1,118.9 L136.0,119.5 L134.8,120.1 L133.7,120.7 L132.5,121.3 L131.4,121.9 L130.2,122.4 L129.1,123.0 L127.9,123.6 L126.8,124.1 L125.6,124.7 L124.5,125.3 L123.3,125.8 L122.2,126.3 L121.0,126.9 L119.9,127.4 L118.7,127.9 L117.6,128.5 L116.4,129.0 L115.3,129.5 L114.1,130.0 L113.0,130.5 L111.8,131.0 L110.7,131.4 L109.5,131.9 L108.4,132.4 L107.2,132.8 L106.1,133.3 L104.9,133.7 L103.8,134.2 L102.6,134.6 L101.5,135.0 L100.3,135.4 L99.2,135.8 L98.1,136.2 L96.9,136.5 L95.8,136.9 L94.6,137.2 L93.5,137.6 L92.3,137.9 L91.2,138.2 L90.0,138.5 L88.9,138.8 L87.8,139.1 L86.6,139.4 L85.5,139.6 L84.3,139.9 L83.2,140.1 L82.1,140.3 L80.9,140.5 L79.8,140.7 L78.7,140.9 L77.5,141.1 L76.4,141.2 L75.3,141.4 L74.1,141.5 L73.0,141.6 L71.9,141.7 L70.7,141.8 L69.6,141.9 L68.5,141.9 L67.3,142.0 L66.2,142.0 L65.1,142.0 L64.0,142.0 L62.8,142.0 L61.7,142.0 L60.6,141.9Z" fill="#b04a0c" stroke="none"/>
<path d="M60.5,122.2 L61.7,122.2 L62.9,122.2 L64.0,122.1 L65.2,122.1 L66.4,122.0 L67.5,121.9 L68.7,121.8 L69.9,121.7 L71.0,121.6 L72.2,121.5 L73.4,121.4 L74.5,121.2 L75.7,121.1 L76.9,120.9 L78.0,120.8 L79.2,120.6 L80.4,120.4 L81.5,120.2 L82.7,120.0 L83.9,119.8 L85.0,119.6 L86.2,119.4 L87.3,119.1 L88.5,118.9 L89.7,118.6 L90.8,118.4 L92.0,118.1 L93.1,117.8 L94.3,117.5 L95.5,117.2 L96.6,116.9 L97.8,116.6 L99.0,116.3 L100.1,116.0 L101.3,115.7 L102.4,115.3 L103.6,115.0 L104.8,114.6 L105.9,114.3 L107.1,113.9 L108.2,113.5 L109.4,113.1 L110.6,112.7 L111.7,112.3 L112.9,111.9 L114.0,111.5 L115.2,111.1 L116.3,110.6 L117.5,110.2 L118.7,109.7 L119.8,109.3 L121.0,108.8 L122.1,108.4 L123.3,107.9 L124.5,107.4 L125.6,106.9 L126.8,106.4 L127.9,105.9 L129.1,105.4 L130.2,104.9 L131.4,104.4 L132.6,103.8 L133.7,103.3 L134.9,102.8 L136.0,102.3 L137.2,101.7 L138.3,101.2 L139.5,100.6 L140.6,100.1 L141.8,99.5 L142.9,99.0 L144.1,98.4 L145.3,97.9 L146.4,97.3 L147.6,96.8 L148.7,96.2 L149.9,95.7 L151.0,95.1 L152.2,94.5 L153.3,94.0 L154.5,93.4 L155.6,92.9 L156.8,92.3 L157.9,91.8 L159.1,91.2 L160.2,90.7 L161.4,90.1 L162.5,89.6 L163.7,89.1 L164.8,88.5 L166.0,88.0 L167.1,87.5 L168.3,86.9 L169.4,86.4 L170.6,85.9 L171.7,85.4 L172.9,84.9 L174.0,84.4 L175.2,83.9 L176.3,83.4 L177.5,82.9 L178.6,82.4 L179.8,81.9 L180.9,81.4 L182.1,81.0 L183.2,80.5 L184.4,80.0 L185.5,79.5 L186.7,79.1 L187.8,78.6 L189.0,78.2 L190.1,77.7 L191.3,77.3 L192.4,76.8 L193.6,76.4 L194.7,76.0 L195.9,75.5 L197.0,75.1 L198.2,74.7 L199.3,74.3 L200.5,73.8 L201.6,73.4 L202.8,73.0 L203.9,72.7 L205.1,72.3 L206.2,72.0 L207.2,71.7 L208.2,71.6 L209.2,71.5 L210.2,71.5 L211.1,71.7 L212.1,72.1 L213.3,72.6 L214.5,73.0 L215.8,73.3 L217.1,73.5 L218.4,73.6 L219.7,73.6 L220.9,73.6 L222.1,73.4 L223.3,73.2 L224.5,73.0 L225.7,72.8 L226.8,72.5 L228.0,72.3 L229.1,72.0 L230.3,71.8 L231.5,71.5 L232.6,71.3 L233.8,71.0 L234.9,70.8 L236.1,70.5 L237.2,70.2 L238.4,70.0 L239.5,69.7 L240.7,69.5 L241.8,69.2 L243.0,68.9 L244.1,68.7 L245.3,68.4 L246.5,68.2 L247.6,67.9 L248.8,67.7 L249.9,67.4 L251.1,67.2 L252.2,66.9 L253.3,66.7 L254.5,66.5 L255.6,66.2 L256.8,66.0 L257.9,65.8 L259.1,65.6 L260.2,65.4 L261.4,65.2 L262.5,65.0 L263.7,64.8 L264.8,64.6 L266.0,64.4 L267.1,64.2 L268.3,64.0 L269.4,63.8 L270.6,63.7 L271.7,63.5 L272.9,63.3 L274.0,63.2 L275.2,63.0 L276.3,62.8 L277.5,62.7 L278.6,62.5 L279.7,62.4 L280.9,62.2 L282.0,62.1 L283.2,62.0 L284.3,61.8 L285.5,61.7 L286.6,61.6 L287.8,61.5 L288.9,61.3 L290.1,61.2 L291.2,61.1 L292.4,61.0 L293.5,60.9 L294.7,60.8 L295.8,60.7 L297.0,60.6 L298.1,60.5 L299.3,60.4 L300.4,60.3 L301.6,60.2 L302.7,60.1 L303.9,60.1 L305.0,60.0 L306.2,59.9 L307.3,59.8 L308.5,59.7 L309.6,59.7 L310.8,59.6 L311.9,59.5 L313.1,59.5 L314.2,59.4 L315.4,59.4 L316.5,59.3 L317.7,59.2 L318.8,59.2 L320.0,59.1 L321.1,59.1 L322.3,59.0 L323.4,59.0 L324.6,58.9 L325.7,58.9 L326.9,58.9 L328.0,58.8 L329.2,58.8 L330.3,58.7 L331.5,58.7 L332.6,58.7 L333.8,58.6 L334.9,58.6 L336.1,58.6 L337.2,58.5 L338.4,58.5 L339.5,58.5 L340.7,58.5 L341.8,58.4 L343.0,58.4 L344.1,58.4 L345.3,58.4 L346.4,58.4 L347.6,58.3 L348.7,58.3 L349.9,58.3 L351.0,58.3 L352.2,58.3 L353.3,58.2 L354.5,58.2 L355.7,58.2 L356.8,58.2 L358.0,58.2 L359.1,58.2 L360.3,58.1 L361.4,58.1 L362.6,58.1 L363.7,58.1 L364.9,58.1 L366.0,58.1 L367.2,58.1 L368.3,58.1 L369.5,58.0 L370.6,58.0 L371.8,58.0 L372.9,58.0 L374.1,58.0 L375.2,58.0 L376.4,58.0 L377.6,57.9 L378.7,57.9 L379.9,57.9 L381.0,57.9 L382.2,57.9 L383.3,57.9 L384.5,57.8 L385.6,57.8 L386.8,57.8 L387.9,57.8 L389.1,57.8 L390.2,57.7 L391.4,57.7 L392.6,57.7 L393.7,57.7 L394.9,57.6 L396.0,57.6 L397.2,57.6 L398.3,57.6 L399.5,57.5 L400.6,57.5 L401.8,57.5 L402.9,57.4 L404.1,57.4 L405.3,57.3 L405.1,53.9 L404.0,54.0 L402.8,54.0 L401.7,54.1 L400.5,54.1 L399.4,54.1 L398.2,54.2 L397.1,54.2 L395.9,54.2 L394.8,54.2 L393.6,54.3 L392.5,54.3 L391.3,54.3 L390.2,54.3 L389.0,54.4 L387.9,54.4 L386.7,54.4 L385.6,54.4 L384.4,54.4 L383.3,54.5 L382.1,54.5 L381.0,54.5 L379.8,54.5 L378.7,54.5 L377.5,54.5 L376.4,54.6 L375.2,54.6 L374.1,54.6 L372.9,54.6 L371.7,54.6 L370.6,54.6 L369.4,54.6 L368.3,54.7 L367.1,54.7 L366.0,54.7 L364.8,54.7 L363.7,54.7 L362.5,54.7 L361.4,54.7 L360.2,54.8 L359.1,54.8 L357.9,54.8 L356.8,54.8 L355.6,54.8 L354.5,54.8 L353.3,54.8 L352.1,54.9 L351.0,54.9 L349.8,54.9 L348.7,54.9 L347.5,54.9 L346.4,55.0 L345.2,55.0 L344.1,55.0 L342.9,55.0 L341.8,55.0 L340.6,55.1 L339.4,55.1 L338.3,55.1 L337.1,55.2 L336.0,55.2 L334.8,55.2 L333.7,55.2 L332.5,55.3 L331.4,55.3 L330.2,55.3 L329.1,55.4 L327.9,55.4 L326.7,55.5 L325.6,55.5 L324.4,55.6 L323.3,55.6 L322.1,55.6 L321.0,55.7 L319.8,55.7 L318.7,55.8 L317.5,55.9 L316.3,55.9 L315.2,56.0 L314.0,56.0 L312.9,56.1 L311.7,56.2 L310.6,56.2 L309.4,56.3 L308.3,56.4 L307.1,56.5 L305.9,56.5 L304.8,56.6 L303.6,56.7 L302.5,56.8 L301.3,56.9 L300.2,57.0 L299.0,57.1 L297.8,57.1 L296.7,57.2 L295.5,57.3 L294.4,57.5 L293.2,57.6 L292.1,57.7 L290.9,57.8 L289.7,57.9 L288.6,58.0 L287.4,58.1 L286.3,58.3 L285.1,58.4 L284.0,58.5 L282.8,58.7 L281.6,58.8 L280.5,59.0 L279.3,59.1 L278.2,59.3 L277.0,59.4 L275.9,59.6 L274.7,59.7 L273.5,59.9 L272.4,60.1 L271.2,60.2 L270.1,60.4 L268.9,60.6 L267.8,60.8 L266.6,61.0 L265.4,61.2 L264.3,61.4 L263.1,61.6 L262.0,61.8 L260.8,62.0 L259.6,62.2 L258.5,62.4 L257.3,62.6 L256.2,62.9 L255.0,63.1 L253.9,63.3 L252.7,63.6 L251.5,63.8 L250.4,64.1 L249.2,64.3 L248.1,64.6 L246.9,64.8 L245.8,65.1 L244.6,65.3 L243.5,65.6 L242.3,65.9 L241.1,66.1 L240.0,66.4 L238.8,66.6 L237.7,66.9 L236.5,67.2 L235.4,67.4 L234.2,67.7 L233.1,67.9 L231.9,68.2 L230.8,68.4 L229.6,68.7 L228.5,68.9 L227.3,69.1 L226.2,69.4 L225.0,69.6 L223.9,69.8 L222.8,70.0 L221.7,70.2 L220.6,70.3 L219.5,70.4 L218.5,70.4 L217.5,70.4 L216.4,70.2 L215.4,70.0 L214.4,69.6 L213.2,69.1 L211.9,68.7 L210.6,68.4 L209.2,68.4 L207.9,68.4 L206.6,68.7 L205.3,69.0 L204.1,69.4 L203.0,69.8 L201.8,70.2 L200.6,70.7 L199.5,71.1 L198.3,71.5 L197.2,71.9 L196.0,72.4 L194.9,72.8 L193.7,73.2 L192.6,73.7 L191.4,74.1 L190.2,74.6 L189.1,75.0 L187.9,75.5 L186.8,76.0 L185.6,76.4 L184.5,76.9 L183.3,77.4 L182.2,77.8 L181.0,78.3 L179.8,78.8 L178.7,79.3 L177.5,79.8 L176.4,80.3 L175.2,80.8 L174.1,81.3 L172.9,81.8 L171.8,82.3 L170.6,82.8 L169.4,83.4 L168.3,83.9 L167.1,84.4 L166.0,84.9 L164.8,85.5 L163.7,86.0 L162.5,86.5 L161.4,87.1 L160.2,87.6 L159.1,88.2 L157.9,88.7 L156.7,89.3 L155.6,89.8 L154.4,90.4 L153.3,90.9 L152.1,91.5 L151.0,92.1 L149.8,92.6 L148.7,93.2 L147.5,93.7 L146.4,94.3 L145.2,94.8 L144.1,95.4 L142.9,95.9 L141.8,96.5 L140.6,97.0 L139.5,97.6 L138.3,98.1 L137.2,98.7 L136.0,99.2 L134.9,99.7 L133.7,100.3 L132.6,100.8 L131.4,101.3 L130.3,101.8 L129.1,102.3 L128.0,102.8 L126.8,103.3 L125.7,103.8 L124.5,104.3 L123.4,104.8 L122.2,105.2 L121.1,105.7 L119.9,106.1 L118.8,106.6 L117.6,107.0 L116.5,107.5 L115.3,107.9 L114.2,108.3 L113.0,108.7 L111.9,109.1 L110.7,109.5 L109.6,109.9 L108.4,110.3 L107.3,110.6 L106.2,111.0 L105.0,111.3 L103.9,111.7 L102.7,112.0 L101.6,112.3 L100.4,112.7 L99.3,113.0 L98.1,113.3 L97.0,113.6 L95.8,113.8 L94.7,114.1 L93.6,114.4 L92.4,114.6 L91.3,114.9 L90.1,115.1 L89.0,115.4 L87.8,115.6 L86.7,115.8 L85.5,116.0 L84.4,116.2 L83.3,116.4 L82.1,116.6 L81.0,116.8 L79.8,116.9 L78.7,117.1 L77.6,117.2 L76.4,117.4 L75.3,117.5 L74.1,117.6 L73.0,117.7 L71.8,117.8 L70.7,117.9 L69.6,118.0 L68.4,118.1 L67.3,118.2 L66.2,118.2 L65.0,118.3 L63.9,118.4 L62.7,118.4 L61.6,118.4 L60.5,118.5Z" fill="#84b808" stroke="none"/>
<path d="M60.5,98.8 L61.7,98.8 L62.9,98.8 L64.0,98.7 L65.2,98.7 L66.4,98.6 L67.5,98.6 L68.7,98.5 L69.9,98.4 L71.0,98.3 L72.2,98.2 L73.4,98.0 L74.5,97.9 L75.7,97.8 L76.9,97.6 L78.0,97.4 L79.2,97.3 L80.4,97.1 L81.5,96.9 L82.7,96.7 L83.8,96.5 L85.0,96.3 L86.2,96.1 L87.3,95.9 L88.5,95.6 L89.7,95.4 L90.8,95.1 L92.0,94.9 L93.1,94.6 L94.3,94.3 L95.5,94.1 L96.6,93.8 L97.8,93.5 L98.9,93.2 L100.1,92.9 L101.2,92.6 L102.4,92.3 L103.6,92.0 L104.7,91.6 L105.9,91.3 L107.0,91.0 L108.2,90.6 L109.4,90.3 L110.5,89.9 L111.7,89.6 L112.8,89.2 L114.0,88.8 L115.1,88.5 L116.3,88.1 L117.5,87.7 L118.6,87.3 L119.8,86.9 L120.9,86.5 L122.1,86.1 L123.2,85.7 L124.4,85.3 L125.6,84.9 L126.7,84.5 L127.9,84.1 L129.0,83.6 L130.2,83.2 L131.3,82.8 L132.5,82.3 L133.6,81.9 L134.8,81.4 L136.0,81.0 L137.1,80.5 L138.3,80.1 L139.4,79.6 L140.6,79.2 L141.7,78.7 L142.9,78.2 L144.0,77.8 L145.2,77.3 L146.4,76.8 L147.5,76.4 L148.7,75.9 L149.8,75.4 L151.0,74.9 L152.1,74.4 L153.3,74.0 L154.4,73.5 L155.6,73.0 L156.7,72.5 L157.9,72.0 L159.0,71.5 L160.2,71.0 L161.3,70.6 L162.5,70.1 L163.7,69.6 L164.8,69.1 L166.0,68.6 L167.1,68.2 L168.3,67.7 L169.4,67.2 L170.6,66.7 L171.7,66.3 L172.9,65.8 L174.0,65.4 L175.2,64.9 L176.3,64.5 L177.5,64.0 L178.6,63.6 L179.8,63.1 L180.9,62.7 L182.1,62.3 L183.2,61.9 L184.3,61.5 L185.5,61.1 L186.6,60.7 L187.8,60.3 L188.9,59.9 L190.1,59.6 L191.2,59.2 L192.4,58.9 L193.5,58.5 L194.7,58.2 L195.8,57.9 L196.9,57.5 L198.1,57.2 L199.2,56.9 L200.4,56.6 L201.5,56.3 L202.7,56.0 L203.9,55.7 L205.0,55.3 L206.2,55.0 L207.4,54.6 L208.5,54.2 L209.7,53.8 L210.9,53.4 L212.0,53.0 L213.2,52.5 L214.4,52.0 L215.6,51.5 L216.7,50.9 L217.9,50.4 L219.1,49.7 L220.3,49.1 L221.4,48.4 L222.6,47.7 L223.7,47.0 L224.9,46.3 L226.0,45.6 L227.2,44.9 L228.3,44.2 L229.5,43.6 L230.6,43.0 L231.7,42.5 L232.8,42.0 L234.0,41.5 L235.1,41.1 L236.2,40.7 L237.4,40.3 L238.5,39.9 L239.6,39.6 L240.8,39.2 L241.9,38.9 L243.0,38.7 L244.2,38.4 L245.3,38.1 L246.4,37.9 L247.6,37.7 L248.7,37.5 L249.8,37.3 L251.0,37.1 L252.1,37.0 L253.2,36.8 L254.4,36.7 L255.5,36.6 L256.7,36.4 L257.8,36.3 L258.9,36.2 L260.1,36.1 L261.2,36.0 L262.4,36.0 L263.5,35.9 L264.7,35.8 L265.8,35.8 L266.9,35.7 L268.1,35.7 L269.2,35.6 L270.4,35.5 L271.5,35.5 L272.7,35.5 L273.8,35.4 L275.0,35.4 L276.1,35.3 L277.3,35.3 L278.4,35.2 L279.6,35.2 L280.7,35.2 L281.9,35.1 L283.1,35.1 L284.2,35.0 L285.4,35.0 L286.5,35.0 L287.7,34.9 L288.8,34.9 L290.0,34.9 L291.1,34.9 L292.3,34.8 L293.4,34.8 L294.6,34.8 L295.7,34.8 L296.9,34.7 L298.0,34.7 L299.2,34.7 L300.3,34.7 L301.5,34.7 L302.6,34.6 L303.8,34.6 L304.9,34.6 L306.1,34.6 L307.2,34.6 L308.4,34.6 L309.5,34.6 L310.7,34.5 L311.8,34.5 L313.0,34.5 L314.1,34.5 L315.3,34.5 L316.4,34.5 L317.6,34.5 L318.7,34.5 L319.9,34.5 L321.1,34.5 L322.2,34.5 L323.4,34.4 L324.5,34.4 L325.7,34.4 L326.8,34.4 L328.0,34.4 L329.1,34.4 L330.3,34.4 L331.4,34.4 L332.6,34.4 L333.7,34.4 L334.9,34.4 L336.0,34.4 L337.2,34.4 L338.3,34.4 L339.5,34.4 L340.6,34.4 L341.8,34.4 L342.9,34.4 L344.1,34.4 L345.3,34.4 L346.4,34.4 L347.6,34.4 L348.7,34.4 L349.9,34.4 L351.0,34.4 L352.2,34.4 L353.3,34.4 L354.5,34.4 L355.6,34.4 L356.8,34.4 L357.9,34.4 L359.1,34.4 L360.2,34.4 L361.4,34.4 L362.6,34.4 L363.7,34.3 L364.9,34.3 L366.0,34.3 L367.2,34.3 L368.3,34.3 L369.5,34.3 L370.6,34.3 L371.8,34.3 L372.9,34.3 L374.1,34.3 L375.2,34.3 L376.4,34.3 L377.5,34.3 L378.7,34.2 L379.9,34.2 L381.0,34.2 L382.2,34.2 L383.3,34.2 L384.5,34.2 L385.6,34.2 L386.8,34.1 L387.9,34.1 L389.1,34.1 L390.2,34.1 L391.4,34.1 L392.6,34.0 L393.7,34.0 L394.9,34.0 L396.0,34.0 L397.2,34.0 L398.3,33.9 L399.5,33.9 L400.6,33.9 L401.8,33.8 L402.9,33.8 L404.1,33.8 L405.2,33.7 L405.2,30.4 L404.0,30.4 L402.8,30.4 L401.7,30.4 L400.5,30.5 L399.4,30.5 L398.2,30.5 L397.1,30.6 L395.9,30.6 L394.8,30.6 L393.6,30.6 L392.5,30.7 L391.3,30.7 L390.2,30.7 L389.0,30.7 L387.9,30.7 L386.7,30.7 L385.6,30.8 L384.4,30.8 L383.3,30.8 L382.1,30.8 L381.0,30.8 L379.8,30.8 L378.7,30.8 L377.5,30.9 L376.4,30.9 L375.2,30.9 L374.1,30.9 L372.9,30.9 L371.8,30.9 L370.6,30.9 L369.5,30.9 L368.3,30.9 L367.1,30.9 L366.0,30.9 L364.8,30.9 L363.7,30.9 L362.5,31.0 L361.4,31.0 L360.2,31.0 L359.1,31.0 L357.9,31.0 L356.8,31.0 L355.6,31.0 L354.5,31.0 L353.3,31.0 L352.2,31.0 L351.0,31.0 L349.9,31.0 L348.7,31.0 L347.6,31.0 L346.4,31.0 L345.2,31.0 L344.1,31.0 L342.9,31.0 L341.8,31.0 L340.6,31.0 L339.5,31.0 L338.3,31.0 L337.2,31.0 L336.0,31.0 L334.9,31.0 L333.7,31.0 L332.6,31.0 L331.4,31.0 L330.3,31.0 L329.1,31.0 L328.0,31.0 L326.8,31.0 L325.6,31.0 L324.5,31.0 L323.3,31.0 L322.2,31.1 L321.0,31.1 L319.9,31.1 L318.7,31.1 L317.6,31.1 L316.4,31.1 L315.3,31.1 L314.1,31.1 L313.0,31.1 L311.8,31.1 L310.6,31.1 L309.5,31.2 L308.3,31.2 L307.2,31.2 L306.0,31.2 L304.9,31.2 L303.7,31.2 L302.6,31.2 L301.4,31.3 L300.3,31.3 L299.1,31.3 L298.0,31.3 L296.8,31.3 L295.6,31.4 L294.5,31.4 L293.3,31.4 L292.2,31.4 L291.0,31.5 L289.9,31.5 L288.7,31.5 L287.6,31.6 L286.4,31.6 L285.3,31.6 L284.1,31.7 L282.9,31.7 L281.8,31.7 L280.6,31.8 L279.5,31.8 L278.3,31.8 L277.2,31.9 L276.0,31.9 L274.9,32.0 L273.7,32.0 L272.6,32.1 L271.4,32.1 L270.2,32.2 L269.1,32.2 L267.9,32.3 L266.8,32.3 L265.6,32.4 L264.5,32.5 L263.3,32.5 L262.1,32.6 L261.0,32.7 L259.8,32.8 L258.6,32.9 L257.5,33.0 L256.3,33.1 L255.1,33.2 L254.0,33.4 L252.8,33.5 L251.6,33.7 L250.5,33.9 L249.3,34.1 L248.1,34.3 L247.0,34.5 L245.8,34.8 L244.6,35.1 L243.4,35.3 L242.3,35.6 L241.1,36.0 L239.9,36.3 L238.7,36.7 L237.6,37.1 L236.4,37.5 L235.2,37.9 L234.1,38.4 L232.9,38.9 L231.7,39.4 L230.5,40.0 L229.3,40.6 L228.2,41.2 L227.0,41.9 L225.8,42.6 L224.7,43.3 L223.5,44.0 L222.4,44.7 L221.2,45.4 L220.1,46.1 L218.9,46.7 L217.8,47.3 L216.7,47.9 L215.5,48.4 L214.4,48.9 L213.3,49.4 L212.1,49.8 L211.0,50.3 L209.9,50.7 L208.7,51.0 L207.6,51.4 L206.5,51.7 L205.3,52.1 L204.2,52.4 L203.0,52.7 L201.9,53.0 L200.7,53.3 L199.6,53.7 L198.4,54.0 L197.3,54.3 L196.1,54.6 L195.0,54.9 L193.8,55.3 L192.6,55.6 L191.5,56.0 L190.3,56.3 L189.2,56.7 L188.0,57.1 L186.8,57.5 L185.7,57.9 L184.5,58.3 L183.4,58.7 L182.2,59.1 L181.0,59.6 L179.9,60.0 L178.7,60.4 L177.6,60.9 L176.4,61.3 L175.3,61.8 L174.1,62.2 L172.9,62.7 L171.8,63.2 L170.6,63.6 L169.5,64.1 L168.3,64.6 L167.2,65.0 L166.0,65.5 L164.9,66.0 L163.7,66.5 L162.6,67.0 L161.4,67.4 L160.2,67.9 L159.1,68.4 L157.9,68.9 L156.8,69.4 L155.6,69.9 L154.5,70.4 L153.3,70.8 L152.2,71.3 L151.0,71.8 L149.9,72.3 L148.7,72.8 L147.6,73.2 L146.4,73.7 L145.3,74.2 L144.1,74.7 L143.0,75.1 L141.8,75.6 L140.7,76.0 L139.5,76.5 L138.4,77.0 L137.2,77.4 L136.1,77.9 L134.9,78.3 L133.8,78.7 L132.6,79.2 L131.5,79.6 L130.3,80.0 L129.2,80.5 L128.0,80.9 L126.9,81.3 L125.7,81.7 L124.6,82.1 L123.4,82.5 L122.3,82.9 L121.1,83.3 L120.0,83.7 L118.8,84.1 L117.7,84.5 L116.5,84.9 L115.4,85.2 L114.2,85.6 L113.1,86.0 L111.9,86.3 L110.8,86.7 L109.6,87.0 L108.5,87.3 L107.3,87.7 L106.2,88.0 L105.0,88.3 L103.9,88.6 L102.7,88.9 L101.6,89.2 L100.5,89.5 L99.3,89.8 L98.2,90.1 L97.0,90.4 L95.9,90.6 L94.7,90.9 L93.6,91.2 L92.4,91.4 L91.3,91.6 L90.1,91.9 L89.0,92.1 L87.8,92.3 L86.7,92.5 L85.6,92.7 L84.4,92.9 L83.3,93.1 L82.1,93.3 L81.0,93.4 L79.8,93.6 L78.7,93.7 L77.6,93.9 L76.4,94.0 L75.3,94.2 L74.1,94.3 L73.0,94.4 L71.9,94.5 L70.7,94.6 L69.6,94.7 L68.4,94.7 L67.3,94.8 L66.2,94.9 L65.0,94.9 L63.9,95.0 L62.7,95.0 L61.6,95.0 L60.5,95.0Z" fill="#0c78e2" stroke="none"/>
<path d="M141.3,243.5 L141.8,242.3 L142.3,241.1 L142.7,239.9 L143.2,238.6 L143.7,237.4 L144.1,236.2 L144.6,235.0 L145.1,233.8 L145.6,232.6 L146.0,231.4 L146.5,230.2 L147.0,229.0 L147.5,227.8 L148.0,226.6 L148.4,225.4 L148.9,224.2 L149.4,222.9 L149.9,221.7 L150.3,220.5 L150.8,219.3 L151.3,218.1 L151.8,216.9 L152.2,215.7 L152.7,214.5 L153.2,213.2 L153.6,212.0 L154.1,210.8 L154.6,209.6 L155.0,208.4 L155.5,207.2 L156.0,206.0 L156.4,204.8 L156.9,203.6 L157.4,202.4 L157.9,201.1 L158.4,199.9 L158.8,198.8 L159.3,197.6 L159.8,196.4 L160.4,195.2 L160.9,194.0 L161.4,192.8 L161.9,191.6 L162.4,190.4 L163.0,189.2 L163.5,188.0 L164.0,186.9 L164.5,185.7 L165.1,184.5 L165.6,183.3 L166.1,182.1 L166.6,180.9 L167.1,179.7 L167.6,178.5 L168.1,177.3 L168.6,176.1 L169.1,174.9 L169.6,173.7 L170.1,172.4 L170.5,171.2 L171.0,170.0 L171.5,168.8 L172.0,167.6 L172.4,166.4 L172.9,165.2 L173.4,163.9 L173.8,162.7 L174.3,161.5 L174.7,160.3 L175.2,159.1 L175.6,157.9 L176.1,156.6 L176.6,155.4 L177.0,154.2 L177.5,153.0 L177.9,151.8 L178.4,150.6 L178.8,149.3 L179.3,148.1 L179.8,146.9 L180.2,145.7 L180.7,144.5 L181.1,143.3 L181.6,142.1 L182.1,140.9 L182.5,139.6 L183.0,138.4 L183.5,137.2 L183.9,136.0 L184.4,134.8 L184.9,133.6 L185.4,132.4 L185.8,131.2 L186.3,129.9 L186.8,128.7 L187.2,127.5 L187.7,126.3 L188.2,125.1 L188.7,123.9 L189.2,122.7 L189.6,121.5 L190.1,120.3 L190.6,119.1 L191.1,117.9 L191.6,116.7 L192.1,115.5 L192.6,114.3 L193.1,113.1 L193.6,111.9 L194.1,110.7 L194.6,109.5 L195.1,108.3 L195.7,107.2 L196.2,106.0 L196.7,104.8 L197.3,103.6 L197.8,102.5 L198.4,101.3 L198.9,100.1 L199.5,98.9 L200.0,97.8 L200.6,96.6 L201.1,95.4 L201.7,94.3 L202.3,93.1 L202.8,91.9 L203.4,90.7 L204.0,89.6 L204.5,88.4 L205.1,87.2 L205.6,86.0 L206.1,84.8 L206.6,83.6 L207.2,82.4 L207.7,81.2 L208.2,80.0 L208.8,78.9 L209.3,77.7 L209.8,76.5 L210.4,75.4 L211.0,74.2 L211.6,73.1 L212.2,72.0 L212.9,70.9 L213.5,69.8 L214.2,68.6 L214.8,67.5 L215.5,66.3 L216.0,65.2 L216.7,64.1 L217.3,63.0 L218.0,62.0 L218.8,61.1 L219.6,60.3 L220.5,59.6 L221.5,58.9 L222.5,58.5 L223.6,58.1 L224.9,57.8 L226.1,57.5 L227.3,57.2 L228.6,56.9 L229.8,56.6 L231.1,56.4 L232.4,56.1 L233.6,55.9 L234.9,55.6 L236.2,55.4 L237.4,55.2 L238.7,54.9 L240.0,54.7 L241.3,54.5 L242.5,54.3 L243.8,54.1 L245.1,53.9 L246.4,53.6 L247.7,53.4 L248.9,53.2 L250.2,53.0 L251.5,52.8 L252.8,52.6 L254.0,52.4 L255.3,52.3 L256.6,52.1 L257.9,51.9 L259.2,51.8 L260.5,51.6 L261.7,51.4 L263.0,51.3 L264.3,51.1 L265.6,51.0 L266.9,50.8 L268.2,50.7 L269.5,50.6 L270.7,50.4 L272.0,50.3 L273.3,50.2 L274.6,50.1 L275.9,50.0 L277.2,49.9 L278.5,49.8 L279.8,49.7 L281.1,49.6 L282.4,49.5 L283.6,49.4 L284.9,49.3 L286.2,49.2 L287.5,49.2 L288.8,49.1 L290.1,49.0 L291.4,49.0 L292.7,48.9 L294.0,48.8 L295.3,48.8 L296.6,48.7 L297.9,48.6 L299.2,48.6 L300.5,48.5 L301.8,48.4 L303.1,48.3 L304.4,48.3 L305.7,48.2 L307.0,48.1 L308.3,48.0 L309.6,47.9 L310.9,47.8 L312.2,47.8 L313.5,47.7 L314.8,47.6 L316.1,47.6 L317.3,47.5 L318.6,47.4 L319.9,47.4 L321.2,47.3 L322.5,47.3 L323.8,47.2 L325.1,47.2 L326.4,47.1 L327.7,47.1 L329.0,47.0 L330.3,47.0 L331.6,47.0 L332.9,46.9 L334.2,46.9 L335.5,46.8 L336.8,46.8 L338.1,46.8 L339.4,46.7 L340.7,46.7 L342.0,46.7 L343.3,46.6 L344.6,46.6 L345.9,46.6 L347.2,46.5 L348.5,46.5 L349.8,46.5 L351.1,46.4 L352.4,46.4 L353.7,46.4 L355.0,46.3 L356.3,46.3 L357.6,46.3 L358.9,46.2 L360.2,46.2 L361.5,46.2 L362.8,46.1 L364.1,46.1 L365.4,46.1 L366.7,46.1 L368.0,46.0 L369.2,46.0 L370.5,46.0 L371.8,46.0 L373.1,46.0 L374.4,45.9 L375.7,45.9 L377.0,45.9 L378.3,45.9 L379.6,45.9 L380.9,45.9 L382.2,45.8 L383.5,45.8 L384.8,45.8 L386.1,45.8 L387.4,45.8 L388.7,45.8 L390.0,45.8 L391.3,45.7 L392.6,45.7 L393.9,45.7 L395.2,45.7 L396.5,45.7 L397.8,45.7 L399.1,45.7 L400.4,45.7 L401.7,45.7 L403.0,45.7 L404.3,45.7 L405.6,45.6 L405.6,42.3 L404.3,42.3 L403.0,42.3 L401.7,42.3 L400.4,42.3 L399.1,42.3 L397.8,42.3 L396.5,42.3 L395.2,42.3 L393.9,42.3 L392.6,42.3 L391.3,42.3 L390.0,42.4 L388.7,42.4 L387.4,42.4 L386.1,42.4 L384.8,42.4 L383.5,42.4 L382.2,42.4 L380.9,42.5 L379.6,42.5 L378.3,42.5 L377.0,42.5 L375.7,42.5 L374.4,42.5 L373.1,42.6 L371.8,42.6 L370.5,42.6 L369.2,42.6 L367.9,42.6 L366.6,42.7 L365.3,42.7 L364.0,42.7 L362.7,42.8 L361.4,42.8 L360.1,42.8 L358.8,42.8 L357.5,42.9 L356.2,42.9 L354.9,42.9 L353.6,43.0 L352.3,43.0 L351.0,43.0 L349.7,43.1 L348.4,43.1 L347.1,43.1 L345.8,43.2 L344.5,43.2 L343.2,43.2 L341.9,43.3 L340.6,43.3 L339.3,43.3 L338.0,43.4 L336.7,43.4 L335.4,43.4 L334.1,43.5 L332.8,43.5 L331.5,43.6 L330.2,43.6 L328.9,43.7 L327.6,43.7 L326.3,43.7 L325.0,43.8 L323.7,43.8 L322.4,43.9 L321.1,43.9 L319.8,44.0 L318.5,44.0 L317.2,44.1 L315.9,44.2 L314.6,44.2 L313.3,44.3 L312.0,44.4 L310.7,44.5 L309.4,44.6 L308.1,44.6 L306.8,44.7 L305.5,44.8 L304.2,44.9 L302.9,45.0 L301.6,45.0 L300.3,45.1 L299.0,45.2 L297.7,45.2 L296.4,45.3 L295.1,45.4 L293.8,45.4 L292.5,45.5 L291.2,45.6 L289.9,45.6 L288.6,45.7 L287.3,45.8 L286.0,45.9 L284.7,46.0 L283.4,46.0 L282.1,46.1 L280.8,46.2 L279.5,46.3 L278.2,46.4 L276.9,46.5 L275.6,46.6 L274.3,46.8 L273.0,46.9 L271.7,47.0 L270.4,47.1 L269.1,47.2 L267.8,47.4 L266.5,47.5 L265.2,47.7 L263.9,47.8 L262.6,48.0 L261.3,48.1 L260.0,48.3 L258.7,48.5 L257.5,48.7 L256.2,48.8 L254.9,49.0 L253.6,49.2 L252.3,49.4 L251.0,49.6 L249.7,49.8 L248.4,50.0 L247.1,50.2 L245.8,50.4 L244.6,50.6 L243.3,50.9 L242.0,51.1 L240.7,51.3 L239.4,51.5 L238.1,51.8 L236.9,52.0 L235.6,52.2 L234.3,52.5 L233.0,52.7 L231.7,53.0 L230.4,53.3 L229.2,53.6 L227.9,53.9 L226.6,54.2 L225.3,54.6 L224.0,54.9 L222.7,55.4 L221.4,55.9 L220.1,56.6 L219.0,57.5 L217.9,58.4 L216.9,59.5 L216.1,60.6 L215.3,61.8 L214.7,62.9 L214.0,64.1 L213.4,65.3 L212.8,66.4 L212.2,67.5 L211.6,68.6 L210.9,69.7 L210.2,70.9 L209.6,72.0 L209.0,73.2 L208.4,74.4 L207.8,75.6 L207.3,76.7 L206.7,77.9 L206.2,79.1 L205.6,80.3 L205.1,81.5 L204.6,82.7 L204.1,83.9 L203.5,85.1 L203.0,86.2 L202.5,87.4 L201.9,88.6 L201.4,89.8 L200.8,90.9 L200.3,92.1 L199.7,93.3 L199.1,94.4 L198.6,95.6 L198.0,96.8 L197.4,98.0 L196.9,99.1 L196.3,100.3 L195.8,101.5 L195.2,102.7 L194.7,103.9 L194.1,105.1 L193.6,106.2 L193.1,107.4 L192.6,108.6 L192.0,109.8 L191.5,111.0 L191.0,112.2 L190.5,113.4 L190.0,114.6 L189.5,115.8 L189.0,117.1 L188.5,118.3 L188.1,119.5 L187.6,120.7 L187.1,121.9 L186.6,123.1 L186.1,124.3 L185.6,125.5 L185.2,126.7 L184.7,127.9 L184.2,129.1 L183.7,130.3 L183.3,131.6 L182.8,132.8 L182.3,134.0 L181.9,135.2 L181.4,136.4 L180.9,137.6 L180.5,138.8 L180.0,140.0 L179.5,141.3 L179.1,142.5 L178.6,143.7 L178.1,144.9 L177.7,146.1 L177.2,147.3 L176.7,148.6 L176.3,149.8 L175.8,151.0 L175.4,152.2 L174.9,153.4 L174.5,154.6 L174.0,155.9 L173.6,157.1 L173.1,158.3 L172.6,159.5 L172.2,160.7 L171.7,161.9 L171.3,163.2 L170.8,164.4 L170.3,165.6 L169.9,166.8 L169.4,168.0 L168.9,169.2 L168.5,170.4 L168.0,171.6 L167.5,172.8 L167.0,174.0 L166.5,175.2 L166.1,176.4 L165.6,177.6 L165.1,178.8 L164.6,180.0 L164.0,181.2 L163.5,182.4 L163.0,183.6 L162.5,184.8 L162.0,185.9 L161.4,187.1 L160.9,188.3 L160.4,189.5 L159.9,190.7 L159.3,191.9 L158.8,193.1 L158.3,194.3 L157.8,195.5 L157.3,196.7 L156.8,197.9 L156.3,199.1 L155.8,200.3 L155.3,201.5 L154.8,202.7 L154.4,203.9 L153.9,205.2 L153.4,206.4 L153.0,207.6 L152.5,208.8 L152.0,210.0 L151.6,211.2 L151.1,212.4 L150.6,213.7 L150.2,214.9 L149.7,216.1 L149.2,217.3 L148.7,218.5 L148.3,219.7 L147.8,220.9 L147.3,222.1 L146.8,223.3 L146.4,224.5 L145.9,225.7 L145.4,226.9 L144.9,228.2 L144.4,229.4 L144.0,230.6 L143.5,231.8 L143.0,233.0 L142.5,234.2 L142.0,235.4 L141.6,236.6 L141.1,237.8 L140.6,239.1 L140.2,240.3 L139.7,241.5 L139.3,242.7Z" fill="#ea6224" stroke="none"/>
<path d="M135.2,243.6 L135.2,243.4 L135.3,243.3 L135.3,243.1 L135.4,242.9 L135.4,242.7 L135.5,242.6 L135.5,242.4 L135.6,242.2 L135.6,242.1 L135.7,241.9 L135.7,241.7 L135.8,241.6 L135.8,241.4 L135.9,241.2 L135.9,241.1 L135.9,240.9 L136.0,240.7 L136.0,240.5 L136.1,240.4 L136.1,240.2 L136.2,240.0 L136.2,239.9 L136.3,239.7 L136.3,239.5 L136.4,239.4 L136.4,239.2 L136.5,239.0 L136.5,238.8 L136.6,238.7 L136.6,238.5 L136.7,238.3 L136.7,238.2 L136.8,238.0 L136.8,237.8 L136.9,237.7 L136.9,237.5 L137.0,237.3 L137.0,237.2 L137.1,237.0 L137.1,236.8 L137.2,236.6 L137.2,236.5 L137.3,236.3 L137.3,236.1 L137.4,236.0 L137.4,235.8 L137.4,235.6 L137.5,235.5 L137.5,235.3 L137.6,235.1 L137.6,235.0 L137.7,234.8 L137.7,234.6 L137.8,234.4 L137.8,234.3 L137.9,234.1 L137.9,233.9 L138.0,233.8 L138.0,233.6 L138.1,233.4 L138.1,233.3 L138.2,233.1 L138.2,232.9 L138.3,232.7 L138.3,232.6 L138.4,232.4 L138.4,232.2 L138.5,232.1 L138.5,231.9 L138.6,231.7 L138.6,231.6 L138.7,231.4 L138.7,231.2 L138.8,231.1 L138.8,230.9 L138.9,230.7 L138.9,230.5 L139.0,230.4 L139.0,230.2 L139.1,230.0 L139.1,229.9 L139.2,229.7 L139.2,229.5 L139.3,229.4 L139.3,229.2 L139.4,229.0 L139.4,228.9 L139.5,228.7 L139.5,228.5 L139.6,228.4 L139.6,228.2 L139.7,228.0 L139.7,227.8 L139.8,227.7 L139.8,227.5 L139.9,227.3 L139.9,227.2 L140.0,227.0 L140.0,226.8 L140.1,226.7 L140.2,226.5 L140.2,226.3 L140.3,226.2 L140.3,226.0 L140.4,225.8 L140.4,225.7 L140.5,225.5 L140.5,225.3 L140.6,225.2 L140.6,225.0 L140.7,224.8 L140.7,224.7 L140.8,224.5 L140.8,224.3 L140.9,224.1 L140.9,224.0 L141.0,223.8 L141.1,223.6 L141.1,223.5 L141.2,223.3 L141.2,223.1 L141.3,223.0 L141.3,222.8 L141.4,222.6 L141.4,222.5 L141.5,222.3 L141.5,222.1 L141.6,222.0 L141.7,221.8 L141.7,221.6 L141.8,221.5 L141.8,221.3 L141.9,221.1 L141.9,221.0 L142.0,220.8 L142.0,220.6 L142.1,220.5 L142.2,220.3 L142.2,220.1 L142.3,220.0 L142.3,219.8 L142.4,219.6 L142.4,219.5 L142.5,219.3 L142.6,219.1 L142.6,219.0 L142.7,218.8 L142.7,218.6 L142.8,218.5 L142.9,218.3 L142.9,218.1 L143.0,218.0 L143.0,217.8 L143.1,217.6 L143.2,217.5 L143.2,217.3 L143.3,217.2 L143.3,217.0 L143.4,216.8 L143.5,216.7 L143.5,216.5 L143.6,216.3 L143.6,216.2 L143.7,216.0 L143.8,215.8 L143.8,215.7 L143.9,215.5 L143.9,215.3 L144.0,215.2 L144.1,215.0 L144.1,214.8 L144.2,214.7 L144.3,214.5 L144.3,214.3 L144.4,214.2 L144.4,214.0 L144.5,213.9 L144.6,213.7 L144.6,213.5 L144.7,213.4 L144.8,213.2 L144.8,213.0 L144.9,212.9 L145.0,212.7 L145.0,212.5 L145.1,212.4 L145.1,212.2 L145.2,212.0 L145.3,211.9 L145.3,211.7 L145.4,211.6 L145.5,211.4 L145.5,211.2 L145.6,211.1 L145.7,210.9 L145.7,210.7 L145.8,210.6 L145.9,210.4 L145.9,210.2 L146.0,210.1 L146.1,209.9 L146.1,209.8 L146.2,209.6 L146.3,209.4 L146.3,209.3 L146.4,209.1 L146.5,208.9 L146.5,208.8 L146.6,208.6 L146.7,208.4 L146.7,208.3 L146.8,208.1 L146.9,208.0 L146.9,207.8 L147.0,207.6 L147.1,207.5 L147.1,207.3 L147.2,207.1 L147.3,207.0 L147.3,206.8 L147.4,206.7 L147.5,206.5 L147.5,206.3 L147.6,206.2 L147.7,206.0 L147.8,205.8 L147.8,205.7 L147.9,205.5 L148.0,205.4 L148.0,205.2 L148.1,205.0 L148.2,204.9 L148.2,204.7 L148.3,204.5 L148.4,204.4 L148.4,204.2 L148.5,204.1 L148.6,203.9 L148.6,203.7 L148.7,203.6 L148.8,203.4 L148.8,203.2 L148.9,203.1 L149.0,202.9 L149.0,202.7 L149.1,202.6 L149.2,202.4 L149.2,202.2 L149.3,202.1 L149.4,201.9 L149.4,201.7 L149.5,201.6 L149.6,201.4 L149.6,201.2 L149.7,201.1 L149.8,200.9 L149.8,200.7 L149.9,200.6 L150.0,200.4 L150.1,200.2 L150.1,200.1 L150.2,199.9 L150.3,199.7 L150.3,199.6 L150.4,199.4 L150.5,199.3 L150.6,199.1 L150.6,198.9 L150.7,198.8 L150.8,198.6 L150.9,198.5 L151.0,198.3 L151.0,198.2 L151.1,198.0 L151.2,197.9 L151.3,197.7 L151.4,197.6 L151.5,197.4 L151.6,197.3 L151.6,197.1 L151.7,197.0 L151.8,196.8 L151.9,196.7 L152.0,196.6 L152.1,196.4 L152.2,196.3 L152.3,196.1 L152.5,196.0 L152.6,195.8 L152.7,195.6 L152.8,195.5 L153.0,195.3 L153.1,195.2 L153.2,195.0 L153.4,194.8 L153.5,194.7 L153.6,194.5 L153.8,194.4 L153.9,194.3 L154.0,194.2 L154.2,194.1 L154.3,194.0 L154.4,193.9 L154.6,193.8 L154.7,193.8 L154.8,193.7 L154.9,193.7 L155.1,193.7 L155.2,193.7 L155.3,193.8 L155.4,193.8 L155.6,193.9 L155.7,194.0 L155.8,194.1 L155.9,194.2 L156.0,194.3 L156.2,194.5 L156.3,194.6 L156.4,194.8 L156.5,194.9 L156.7,195.1 L156.8,195.3 L156.9,195.4 L157.0,195.6 L157.1,195.8 L157.2,196.0 L157.3,196.2 L157.4,196.4 L157.5,196.5 L157.6,196.7 L157.7,196.9 L157.8,197.1 L157.8,197.2 L157.9,197.4 L158.0,197.5 L158.0,197.7 L158.1,197.8 L158.1,198.0 L158.2,198.2 L158.3,198.3 L158.3,198.5 L158.4,198.6 L158.4,198.8 L158.5,199.0 L158.5,199.1 L158.6,199.3 L158.6,199.5 L158.7,199.6 L158.7,199.8 L158.8,200.0 L158.8,200.1 L158.9,200.3 L158.9,200.5 L158.9,200.6 L159.0,200.8 L159.0,201.0 L159.1,201.2 L159.1,201.3 L159.1,201.5 L159.2,201.7 L159.2,201.9 L159.3,202.0 L159.3,202.2 L159.3,202.4 L159.4,202.6 L159.4,202.7 L159.4,202.9 L159.5,203.1 L159.5,203.3 L159.6,203.5 L159.6,203.6 L159.6,203.8 L159.7,204.0 L159.7,204.2 L159.7,204.3 L159.8,204.5 L159.8,204.7 L159.8,204.9 L159.9,205.1 L159.9,205.2 L159.9,205.4 L160.0,205.6 L160.0,205.8 L160.0,205.9 L160.1,206.1 L160.1,206.3 L160.1,206.4 L160.2,206.6 L160.2,206.8 L160.2,207.0 L160.3,207.1 L160.3,207.3 L160.3,207.5 L160.4,207.7 L160.4,207.8 L160.4,208.0 L160.5,208.2 L160.5,208.3 L160.5,208.5 L160.6,208.7 L160.6,208.9 L160.6,209.0 L160.7,209.2 L160.7,209.4 L160.7,209.6 L160.8,209.7 L160.8,209.9 L160.8,210.1 L160.8,210.3 L160.9,210.4 L160.9,210.6 L160.9,210.8 L161.0,210.9 L161.0,211.1 L161.0,211.3 L161.1,211.5 L161.1,211.6 L161.1,211.8 L161.1,212.0 L161.2,212.2 L161.2,212.3 L161.2,212.5 L161.3,212.7 L161.3,212.9 L161.3,213.0 L161.3,213.2 L161.4,213.4 L161.4,213.6 L161.4,213.7 L161.4,213.9 L161.5,214.1 L161.5,214.3 L161.5,214.4 L161.5,214.6 L161.5,214.8 L161.6,215.0 L161.6,215.1 L161.6,215.3 L161.6,215.5 L161.7,215.7 L161.7,215.8 L161.7,216.0 L161.7,216.2 L161.7,216.4 L161.7,216.5 L161.8,216.7 L161.8,216.9 L161.8,217.1 L161.8,217.2 L161.8,217.4 L161.8,217.6 L161.9,217.8 L161.9,217.9 L161.9,218.1 L161.9,218.3 L161.9,218.5 L161.9,218.6 L162.0,218.8 L162.0,219.0 L162.0,219.2 L162.0,219.3 L162.0,219.5 L162.0,219.7 L162.1,219.9 L162.1,220.0 L162.1,220.2 L162.1,220.4 L162.1,220.6 L162.1,220.7 L162.1,220.9 L162.2,221.1 L162.2,221.3 L162.2,221.4 L162.2,221.6 L162.2,221.8 L162.2,222.0 L162.2,222.1 L162.2,222.3 L162.3,222.5 L162.3,222.7 L162.3,222.8 L162.3,223.0 L162.3,223.2 L162.3,223.4 L162.3,223.6 L162.3,223.7 L162.4,223.9 L162.4,224.1 L162.4,224.3 L162.4,224.4 L162.4,224.6 L162.4,224.8 L162.4,225.0 L162.4,225.1 L162.5,225.3 L162.5,225.5 L162.5,225.7 L162.5,225.8 L162.5,226.0 L162.5,226.2 L162.5,226.4 L162.5,226.5 L162.5,226.7 L162.6,226.9 L162.6,227.1 L162.6,227.2 L162.6,227.4 L162.6,227.6 L162.6,227.8 L162.6,227.9 L162.6,228.1 L162.7,228.3 L162.7,228.5 L162.7,228.7 L162.7,228.8 L162.7,229.0 L162.7,229.2 L162.7,229.4 L162.7,229.5 L162.7,229.7 L162.8,229.9 L162.8,230.1 L162.8,230.2 L162.8,230.4 L162.8,230.6 L162.8,230.8 L162.8,230.9 L162.8,231.1 L162.8,231.3 L162.9,231.5 L162.9,231.6 L162.9,231.8 L162.9,232.0 L162.9,232.2 L162.9,232.3 L162.9,232.5 L162.9,232.7 L162.9,232.9 L163.0,233.0 L163.0,233.2 L163.0,233.4 L163.0,233.6 L163.0,233.8 L163.0,233.9 L163.0,234.1 L163.0,234.3 L163.0,234.5 L163.0,234.6 L163.1,234.8 L163.1,235.0 L163.1,235.2 L163.1,235.3 L163.1,235.5 L163.1,235.7 L163.1,235.9 L163.1,236.0 L163.1,236.2 L163.1,236.4 L163.2,236.6 L163.2,236.7 L163.2,236.9 L163.2,237.1 L163.2,237.3 L163.2,237.4 L163.2,237.6 L163.2,237.8 L163.2,238.0 L163.2,238.2 L163.3,238.3 L163.3,238.5 L163.3,238.7 L163.3,238.9 L163.3,239.0 L163.3,239.2 L163.3,239.4 L163.3,239.6 L163.3,239.7 L163.3,239.9 L163.4,240.1 L163.4,240.3 L163.4,240.4 L163.4,240.6 L163.4,240.8 L163.4,241.0 L163.4,241.1 L163.4,241.3 L163.5,241.5 L163.5,241.7 L163.5,241.8 L163.5,242.0 L163.5,242.2 L163.5,242.4 L163.5,242.5 L163.5,242.7 L163.6,242.9 L163.6,243.1 L163.6,243.2 L163.6,243.4 L163.6,243.6" stroke="#161616" stroke-width="1.75" stroke-dasharray="5.9 2.3" stroke-dashoffset="0.00" stroke-linecap="butt"/>
<path d="M175.6,243.6 L175.6,242.9 L175.7,242.2 L175.7,241.5 L175.7,240.8 L175.7,240.1 L175.7,239.4 L175.7,238.7 L175.8,238.0 L175.8,237.2 L175.8,236.5 L175.8,235.8 L175.8,235.1 L175.8,234.4 L175.8,233.7 L175.8,233.0 L175.9,232.3 L175.9,231.6 L175.9,230.9 L175.9,230.2 L175.9,229.5 L175.9,228.8 L175.9,228.1 L175.9,227.4 L175.9,226.7 L175.9,226.0 L176.0,225.2 L176.0,224.5 L176.0,223.8 L176.0,223.1 L176.0,222.4 L176.0,221.7 L176.0,221.0 L176.0,220.3 L176.0,219.6 L176.0,218.9 L176.0,218.2 L176.0,217.5 L176.1,216.8 L176.1,216.1 L176.1,215.4 L176.1,214.7 L176.1,214.0 L176.1,213.2 L176.1,212.5 L176.1,211.8 L176.1,211.1 L176.1,210.4 L176.1,209.7 L176.2,209.0 L176.2,208.3 L176.2,207.6 L176.2,206.9 L176.2,206.2 L176.2,205.5 L176.2,204.8 L176.2,204.1 L176.2,203.4 L176.2,202.7 L176.3,202.0 L176.3,201.2 L176.3,200.5 L176.3,199.8 L176.3,199.1 L176.3,198.4 L176.3,197.7 L176.3,197.0 L176.4,196.3 L176.4,195.6 L176.4,194.9 L176.4,194.2 L176.4,193.5 L176.4,192.8 L176.4,192.1 L176.4,191.4 L176.4,190.7 L176.5,190.0 L176.5,189.2 L176.5,188.5 L176.5,187.8 L176.5,187.1 L176.5,186.4 L176.5,185.7 L176.5,185.0 L176.6,184.3 L176.6,183.6 L176.6,182.9 L176.6,182.2 L176.6,181.5 L176.6,180.8 L176.6,180.1 L176.6,179.4 L176.7,178.7 L176.7,178.0 L176.7,177.2 L176.7,176.5 L176.7,175.8 L176.7,175.1 L176.7,174.4 L176.7,173.7 L176.8,173.0 L176.8,172.3 L176.8,171.6 L176.8,170.9 L176.8,170.2 L176.8,169.5 L176.8,168.8 L176.8,168.1 L176.9,167.4 L176.9,166.7 L176.9,166.0 L176.9,165.2 L176.9,164.5 L176.9,163.8 L176.9,163.1 L176.9,162.4 L176.9,161.7 L177.0,161.0 L177.0,160.3 L177.0,159.6 L177.0,158.9 L177.0,158.2 L177.0,157.5 L177.0,156.8 L177.0,156.1 L177.0,155.4 L177.0,154.7 L177.1,154.0 L177.1,153.2 L177.1,152.5 L177.1,151.8 L177.1,151.1 L177.1,150.4 L177.1,149.7 L177.1,149.0 L177.2,148.3 L177.2,147.6 L177.2,146.9 L177.2,146.2 L177.2,145.5 L177.2,144.8 L177.2,144.1 L177.2,143.4 L177.3,142.7 L177.3,142.0 L177.3,141.2 L177.3,140.5 L177.3,139.8 L177.3,139.1 L177.3,138.4 L177.4,137.7 L177.4,137.0 L177.4,136.3 L177.4,135.6 L177.4,134.9 L177.5,134.2 L177.5,133.5 L177.5,132.8 L177.5,132.1 L177.5,131.4 L177.5,130.7 L177.6,130.0 L177.6,129.3 L177.6,128.5 L177.6,127.8 L177.6,127.1 L177.7,126.4 L177.7,125.7 L177.7,125.0 L177.7,124.3 L177.8,123.6 L177.8,122.9 L177.8,122.2 L177.8,121.5 L177.8,120.8 L177.9,120.1 L177.9,119.4 L177.9,118.7 L177.9,118.0 L177.9,117.3 L178.0,116.6 L178.0,115.8 L178.0,115.1 L178.0,114.4 L178.1,113.7 L178.1,113.0 L178.1,112.3 L178.1,111.6 L178.1,110.9 L178.2,110.2 L178.2,109.5 L178.2,108.8 L178.2,108.1 L178.3,107.4 L178.3,106.7 L178.3,106.0 L178.3,105.3 L178.4,104.6 L178.4,103.8 L178.4,103.1 L178.4,102.4 L178.5,101.7 L178.5,101.0 L178.5,100.3 L178.5,99.6 L178.6,98.9 L178.6,98.2 L178.6,97.5 L178.6,96.8 L178.7,96.1 L178.7,95.4 L178.7,94.7 L178.7,94.0 L178.8,93.3 L178.8,92.6 L178.8,91.9 L178.9,91.2 L178.9,90.4 L178.9,89.7 L178.9,89.0 L179.0,88.3 L179.0,87.6 L179.0,86.9 L179.1,86.2 L179.1,85.5 L179.1,84.8 L179.2,84.1 L179.2,83.4 L179.2,82.7 L179.3,82.0 L179.3,81.3 L179.3,80.6 L179.4,79.9 L179.4,79.2 L179.4,78.5 L179.5,77.8 L179.5,77.0 L179.6,76.3 L179.6,75.6 L179.6,74.9 L179.7,74.2 L179.7,73.5 L179.8,72.8 L179.8,72.1 L179.9,71.4 L179.9,70.7 L180.0,70.0 L180.0,69.3 L180.1,68.6 L180.1,67.9 L180.2,67.2 L180.2,66.5 L180.3,65.8 L180.4,65.1 L180.4,64.4 L180.5,63.7 L180.6,63.0 L180.7,62.3 L180.7,61.6 L180.8,60.9 L180.9,60.2 L181.0,59.5 L181.1,58.8 L181.3,58.1 L181.4,57.4 L181.5,56.7 L181.7,56.0 L181.8,55.3 L182.0,54.6 L182.1,53.9 L182.3,53.2 L182.4,52.5 L182.6,51.8 L182.8,51.2 L183.0,50.5 L183.2,49.8 L183.4,49.1 L183.6,48.4 L183.8,47.7 L184.0,47.1 L184.3,46.4 L184.5,45.7 L184.8,45.1 L185.1,44.4 L185.4,43.8 L185.8,43.2 L186.1,42.7 L186.5,42.1 L187.0,41.5 L187.5,40.9 L188.0,40.4 L188.5,39.9 L189.1,39.4 L189.6,39.0 L190.2,38.7 L190.8,38.4 L191.4,38.2 L192.1,38.0 L192.8,37.8 L193.4,37.6 L194.2,37.4 L194.9,37.3 L195.6,37.1 L196.3,37.0 L197.0,36.9 L197.7,36.8 L198.4,36.7 L199.1,36.7 L199.8,36.6 L200.5,36.5 L201.2,36.5 L201.9,36.4 L202.6,36.3 L203.3,36.3 L204.0,36.2 L204.8,36.2 L205.5,36.1 L206.2,36.1 L206.9,36.1 L207.6,36.0 L208.3,36.0 L209.0,36.0 L209.7,35.9 L210.4,35.9 L211.1,35.8 L211.8,35.8 L212.5,35.8 L213.2,35.7 L213.9,35.7 L214.6,35.7 L215.3,35.7 L216.0,35.6 L216.8,35.6 L217.5,35.6 L218.2,35.5 L218.9,35.5 L219.6,35.5 L220.3,35.5 L221.0,35.4 L221.7,35.4 L222.4,35.4 L223.1,35.4 L223.8,35.3 L224.5,35.3 L225.2,35.3 L225.9,35.3 L226.6,35.2 L227.3,35.2 L228.0,35.2 L228.7,35.2 L229.5,35.1 L230.2,35.1 L230.9,35.1 L231.6,35.1 L232.3,35.1 L233.0,35.0 L233.7,35.0 L234.4,35.0 L235.1,35.0 L235.8,34.9 L236.5,34.9 L237.2,34.9 L237.9,34.9 L238.6,34.8 L239.3,34.8 L240.0,34.8 L240.7,34.8 L241.4,34.8 L242.2,34.7 L242.9,34.7 L243.6,34.7 L244.3,34.7 L245.0,34.6 L245.7,34.6 L246.4,34.6 L247.1,34.6 L247.8,34.5 L248.5,34.5 L249.2,34.5 L249.9,34.5 L250.6,34.5 L251.3,34.4 L252.0,34.4 L252.7,34.4 L253.4,34.4 L254.1,34.3 L254.9,34.3 L255.6,34.3 L256.3,34.3 L257.0,34.2 L257.7,34.2 L258.4,34.2 L259.1,34.1 L259.8,34.1 L260.5,34.1 L261.2,34.0 L261.9,34.0 L262.6,34.0 L263.3,33.9 L264.0,33.9 L264.7,33.9 L265.4,33.9 L266.1,33.8 L266.8,33.8 L267.6,33.8 L268.3,33.8 L269.0,33.7 L269.7,33.7 L270.4,33.7 L271.1,33.7 L271.8,33.7 L272.5,33.6 L273.2,33.6 L273.9,33.6 L274.6,33.6 L275.3,33.6 L276.0,33.5 L276.7,33.5 L277.4,33.5 L278.1,33.5 L278.8,33.5 L279.5,33.5 L280.3,33.4 L281.0,33.4 L281.7,33.4 L282.4,33.4 L283.1,33.4 L283.8,33.4 L284.5,33.4 L285.2,33.3 L285.9,33.3 L286.6,33.3 L287.3,33.3 L288.0,33.3 L288.7,33.3 L289.4,33.3 L290.1,33.2 L290.8,33.2 L291.5,33.2 L292.3,33.2 L293.0,33.2 L293.7,33.2 L294.4,33.2 L295.1,33.2 L295.8,33.2 L296.5,33.1 L297.2,33.1 L297.9,33.1 L298.6,33.1 L299.3,33.1 L300.0,33.1 L300.7,33.1 L301.4,33.1 L302.1,33.1 L302.8,33.1 L303.5,33.1 L304.3,33.0 L305.0,33.0 L305.7,33.0 L306.4,33.0 L307.1,33.0 L307.8,33.0 L308.5,33.0 L309.2,33.0 L309.9,33.0 L310.6,33.0 L311.3,33.0 L312.0,33.0 L312.7,33.0 L313.4,33.0 L314.1,32.9 L314.8,32.9 L315.5,32.9 L316.3,32.9 L317.0,32.9 L317.7,32.9 L318.4,32.9 L319.1,32.9 L319.8,32.9 L320.5,32.9 L321.2,32.9 L321.9,32.9 L322.6,32.9 L323.3,32.9 L324.0,32.9 L324.7,32.9 L325.4,32.9 L326.1,32.8 L326.8,32.8 L327.5,32.8 L328.3,32.8 L329.0,32.8 L329.7,32.8 L330.4,32.8 L331.1,32.8 L331.8,32.8 L332.5,32.8 L333.2,32.8 L333.9,32.8 L334.6,32.8 L335.3,32.8 L336.0,32.8 L336.7,32.8 L337.4,32.8 L338.1,32.8 L338.8,32.7 L339.5,32.7 L340.3,32.7 L341.0,32.7 L341.7,32.7 L342.4,32.7 L343.1,32.7 L343.8,32.7 L344.5,32.7 L345.2,32.7 L345.9,32.7 L346.6,32.7 L347.3,32.7 L348.0,32.7 L348.7,32.7 L349.4,32.7 L350.1,32.6 L350.8,32.6 L351.6,32.6 L352.3,32.6 L353.0,32.6 L353.7,32.6 L354.4,32.6 L355.1,32.6 L355.8,32.6 L356.5,32.6 L357.2,32.6 L357.9,32.6 L358.6,32.6 L359.3,32.6 L360.0,32.5 L360.7,32.5 L361.4,32.5 L362.1,32.5 L362.8,32.5 L363.6,32.5 L364.3,32.5 L365.0,32.5 L365.7,32.5 L366.4,32.5 L367.1,32.5 L367.8,32.5 L368.5,32.5 L369.2,32.5 L369.9,32.4 L370.6,32.4 L371.3,32.4 L372.0,32.4 L372.7,32.4 L373.4,32.4 L374.1,32.4 L374.8,32.4 L375.6,32.4 L376.3,32.4 L377.0,32.4 L377.7,32.4 L378.4,32.4 L379.1,32.3 L379.8,32.3 L380.5,32.3 L381.2,32.3 L381.9,32.3 L382.6,32.3 L383.3,32.3 L384.0,32.3 L384.7,32.3 L385.4,32.3 L386.1,32.3 L386.8,32.3 L387.6,32.3 L388.3,32.2 L389.0,32.2 L389.7,32.2 L390.4,32.2 L391.1,32.2 L391.8,32.2 L392.5,32.2 L393.2,32.2 L393.9,32.2 L394.6,32.2 L395.3,32.2 L396.0,32.2 L396.7,32.1 L397.4,32.1 L398.1,32.1 L398.8,32.1 L399.6,32.1 L400.3,32.1 L401.0,32.1 L401.7,32.1 L402.4,32.1 L403.1,32.1 L403.8,32.1 L404.5,32.1 L405.2,32.1" stroke="#161616" stroke-width="1.75" stroke-dasharray="5.9 2.3" stroke-dashoffset="6.83" stroke-linecap="butt"/>
</g>
<path d="M60.10,240.09v-4.0M60.10,26.30v4.0M71.09,240.09v-2.4M71.09,26.30v2.4M82.07,240.09v-2.4M82.07,26.30v2.4M93.06,240.09v-2.4M93.06,26.30v2.4M104.04,240.09v-4.0M104.04,26.30v4.0M115.03,240.09v-2.4M115.03,26.30v2.4M126.01,240.09v-2.4M126.01,26.30v2.4M137.00,240.09v-2.4M137.00,26.30v2.4M147.98,240.09v-4.0M147.98,26.30v4.0M158.97,240.09v-2.4M158.97,26.30v2.4M169.95,240.09v-2.4M169.95,26.30v2.4M180.94,240.09v-2.4M180.94,26.30v2.4M191.92,240.09v-4.0M191.92,26.30v4.0M202.91,240.09v-2.4M202.91,26.30v2.4M213.89,240.09v-2.4M213.89,26.30v2.4M224.87,240.09v-2.4M224.87,26.30v2.4M235.86,240.09v-4.0M235.86,26.30v4.0M246.84,240.09v-2.4M246.84,26.30v2.4M257.83,240.09v-2.4M257.83,26.30v2.4M268.81,240.09v-2.4M268.81,26.30v2.4M279.80,240.09v-4.0M279.80,26.30v4.0M290.79,240.09v-2.4M290.79,26.30v2.4M301.77,240.09v-2.4M301.77,26.30v2.4M312.76,240.09v-2.4M312.76,26.30v2.4M323.74,240.09v-4.0M323.74,26.30v4.0M334.73,240.09v-2.4M334.73,26.30v2.4M345.71,240.09v-2.4M345.71,26.30v2.4M356.70,240.09v-2.4M356.70,26.30v2.4M367.68,240.09v-4.0M367.68,26.30v4.0M378.67,240.09v-2.4M378.67,26.30v2.4M389.65,240.09v-2.4M389.65,26.30v2.4M400.63,240.09v-2.4M400.63,26.30v2.4M60.10,26.30h4.0M405.20,26.30h-4.0M60.10,34.07h2.4M405.20,34.07h-2.4M60.10,41.85h2.4M405.20,41.85h-2.4M60.10,49.62h2.4M405.20,49.62h-2.4M60.10,57.40h2.4M405.20,57.40h-2.4M60.10,65.17h4.0M405.20,65.17h-4.0M60.10,72.94h2.4M405.20,72.94h-2.4M60.10,80.72h2.4M405.20,80.72h-2.4M60.10,88.49h2.4M405.20,88.49h-2.4M60.10,96.27h2.4M405.20,96.27h-2.4M60.10,104.04h4.0M405.20,104.04h-4.0M60.10,111.81h2.4M405.20,111.81h-2.4M60.10,119.59h2.4M405.20,119.59h-2.4M60.10,127.36h2.4M405.20,127.36h-2.4M60.10,135.14h2.4M405.20,135.14h-2.4M60.10,142.91h4.0M405.20,142.91h-4.0M60.10,150.68h2.4M405.20,150.68h-2.4M60.10,158.46h2.4M405.20,158.46h-2.4M60.10,166.23h2.4M405.20,166.23h-2.4M60.10,174.01h2.4M405.20,174.01h-2.4M60.10,181.78h4.0M405.20,181.78h-4.0M60.10,189.55h2.4M405.20,189.55h-2.4M60.10,197.33h2.4M405.20,197.33h-2.4M60.10,205.10h2.4M405.20,205.10h-2.4M60.10,212.88h2.4M405.20,212.88h-2.4M60.10,220.65h4.0M405.20,220.65h-4.0M60.10,228.42h2.4M405.20,228.42h-2.4M60.10,236.20h2.4M405.20,236.20h-2.4" stroke="#333" stroke-width="0.7" fill="none"/>
<rect x="60.1" y="26.3" width="345.40" height="213.78" fill="none" stroke="#3c3c3c" stroke-width="0.9"/>
<text x="60.1" y="253.9" font-size="13.0" text-anchor="middle" textLength="15.5" lengthAdjust="spacingAndGlyphs">0.0</text>
<text x="104.0" y="253.9" font-size="13.0" text-anchor="middle" textLength="15.5" lengthAdjust="spacingAndGlyphs">0.2</text>
<text x="148.0" y="253.9" font-size="13.0" text-anchor="middle" textLength="15.5" lengthAdjust="spacingAndGlyphs">0.4</text>
<text x="191.9" y="253.9" font-size="13.0" text-anchor="middle" textLength="15.5" lengthAdjust="spacingAndGlyphs">0.6</text>
<text x="235.9" y="253.9" font-size="13.0" text-anchor="middle" textLength="15.5" lengthAdjust="spacingAndGlyphs">0.8</text>
<text x="279.8" y="253.9" font-size="13.0" text-anchor="middle" textLength="15.5" lengthAdjust="spacingAndGlyphs">1.0</text>
<text x="323.7" y="253.9" font-size="13.0" text-anchor="middle" textLength="15.5" lengthAdjust="spacingAndGlyphs">1.2</text>
<text x="367.7" y="253.9" font-size="13.0" text-anchor="middle" textLength="15.5" lengthAdjust="spacingAndGlyphs">1.4</text>
<text x="57.2" y="30.6" font-size="13.0" text-anchor="end" textLength="21.8" lengthAdjust="spacingAndGlyphs">0.00</text>
<text x="57.2" y="69.5" font-size="13.0" text-anchor="end" textLength="21.8" lengthAdjust="spacingAndGlyphs">0.01</text>
<text x="26.3" y="69.5" font-size="13.0" text-anchor="start" textLength="7.8" lengthAdjust="spacingAndGlyphs">−</text>
<text x="57.2" y="108.3" font-size="13.0" text-anchor="end" textLength="21.8" lengthAdjust="spacingAndGlyphs">0.02</text>
<text x="26.3" y="108.3" font-size="13.0" text-anchor="start" textLength="7.8" lengthAdjust="spacingAndGlyphs">−</text>
<text x="57.2" y="147.2" font-size="13.0" text-anchor="end" textLength="21.8" lengthAdjust="spacingAndGlyphs">0.03</text>
<text x="26.3" y="147.2" font-size="13.0" text-anchor="start" textLength="7.8" lengthAdjust="spacingAndGlyphs">−</text>
<text x="57.2" y="186.1" font-size="13.0" text-anchor="end" textLength="21.8" lengthAdjust="spacingAndGlyphs">0.04</text>
<text x="26.3" y="186.1" font-size="13.0" text-anchor="start" textLength="7.8" lengthAdjust="spacingAndGlyphs">−</text>
<text x="57.2" y="225.0" font-size="13.0" text-anchor="end" textLength="21.8" lengthAdjust="spacingAndGlyphs">0.05</text>
<text x="26.3" y="225.0" font-size="13.0" text-anchor="start" textLength="7.8" lengthAdjust="spacingAndGlyphs">−</text>
<g fill="none" stroke="#1c1c1c" stroke-linecap="round" stroke-linejoin="round"><path d="M198.0,6.0 C198.7,4.6 200.2,3.9 202.4,3.8 C204.6,3.7 206.9,3.8 207.8,5.0 C208.6,6.3 207.2,7.7 205.6,8.2 C204.6,8.6 203.7,8.7 203.1,8.7" stroke-width="0.95"/><path d="M201.8,4.2 C201.4,7.2 200.5,10.4 199.3,13.0" stroke-width="1.35"/><path d="M203.3,8.7 C204.6,9.5 205.2,11.1 206.1,12.2 C207.1,13.4 209.0,13.1 210.0,11.5" stroke-width="1.25"/></g>
<text x="213.6" y="13.5" font-size="13.9" text-anchor="start" textLength="10.6" lengthAdjust="spacingAndGlyphs">=</text>
<text x="228.6" y="13.5" font-size="13.9" text-anchor="start" textLength="40.2" lengthAdjust="spacingAndGlyphs">0.9940</text>
<text x="194.0" y="275.1" font-size="14.5" text-anchor="start" textLength="39.8" lengthAdjust="spacingAndGlyphs">arctan</text>
<text x="235.0" y="275.1" font-size="16.2" text-anchor="start" textLength="4.8" lengthAdjust="spacingAndGlyphs">(</text>
<text x="239.8" y="275.1" font-size="14.5" text-anchor="start" textLength="7.6" lengthAdjust="spacingAndGlyphs" font-style="italic">a</text>
<text x="247.2" y="275.6" font-size="16.2" text-anchor="start" textLength="7.0" lengthAdjust="spacingAndGlyphs">/</text>
<text x="254.6" y="275.1" font-size="14.5" text-anchor="start" textLength="10.6" lengthAdjust="spacingAndGlyphs" font-style="italic">Q</text>
<text x="265.4" y="275.1" font-size="16.2" text-anchor="start" textLength="4.8" lengthAdjust="spacingAndGlyphs">)</text>
<g transform="translate(14.2,161.4) rotate(-90)">
<text x="0" y="0" font-size="14.5" text-anchor="start" textLength="5.8" lengthAdjust="spacingAndGlyphs">I</text>
<text x="6.2" y="0" font-size="14.5" text-anchor="start" textLength="12.0" lengthAdjust="spacingAndGlyphs">m</text>
<text x="18.2" y="0" font-size="16.2" text-anchor="start" textLength="4.8" lengthAdjust="spacingAndGlyphs">(</text>
<text x="22.2" y="0" font-size="15.3" text-anchor="start" textLength="10.4" lengthAdjust="spacingAndGlyphs" font-style="italic">ω</text>
<text x="34.8" y="0" font-size="14.5" text-anchor="start" textLength="6.4" lengthAdjust="spacingAndGlyphs" font-style="italic">r</text>
<text x="41.8" y="2.9" font-size="10.2" text-anchor="start" textLength="7.4" lengthAdjust="spacingAndGlyphs">+</text>
<text x="50.0" y="0" font-size="16.2" text-anchor="start" textLength="4.8" lengthAdjust="spacingAndGlyphs">)</text>
</g>
</svg></body></html>
